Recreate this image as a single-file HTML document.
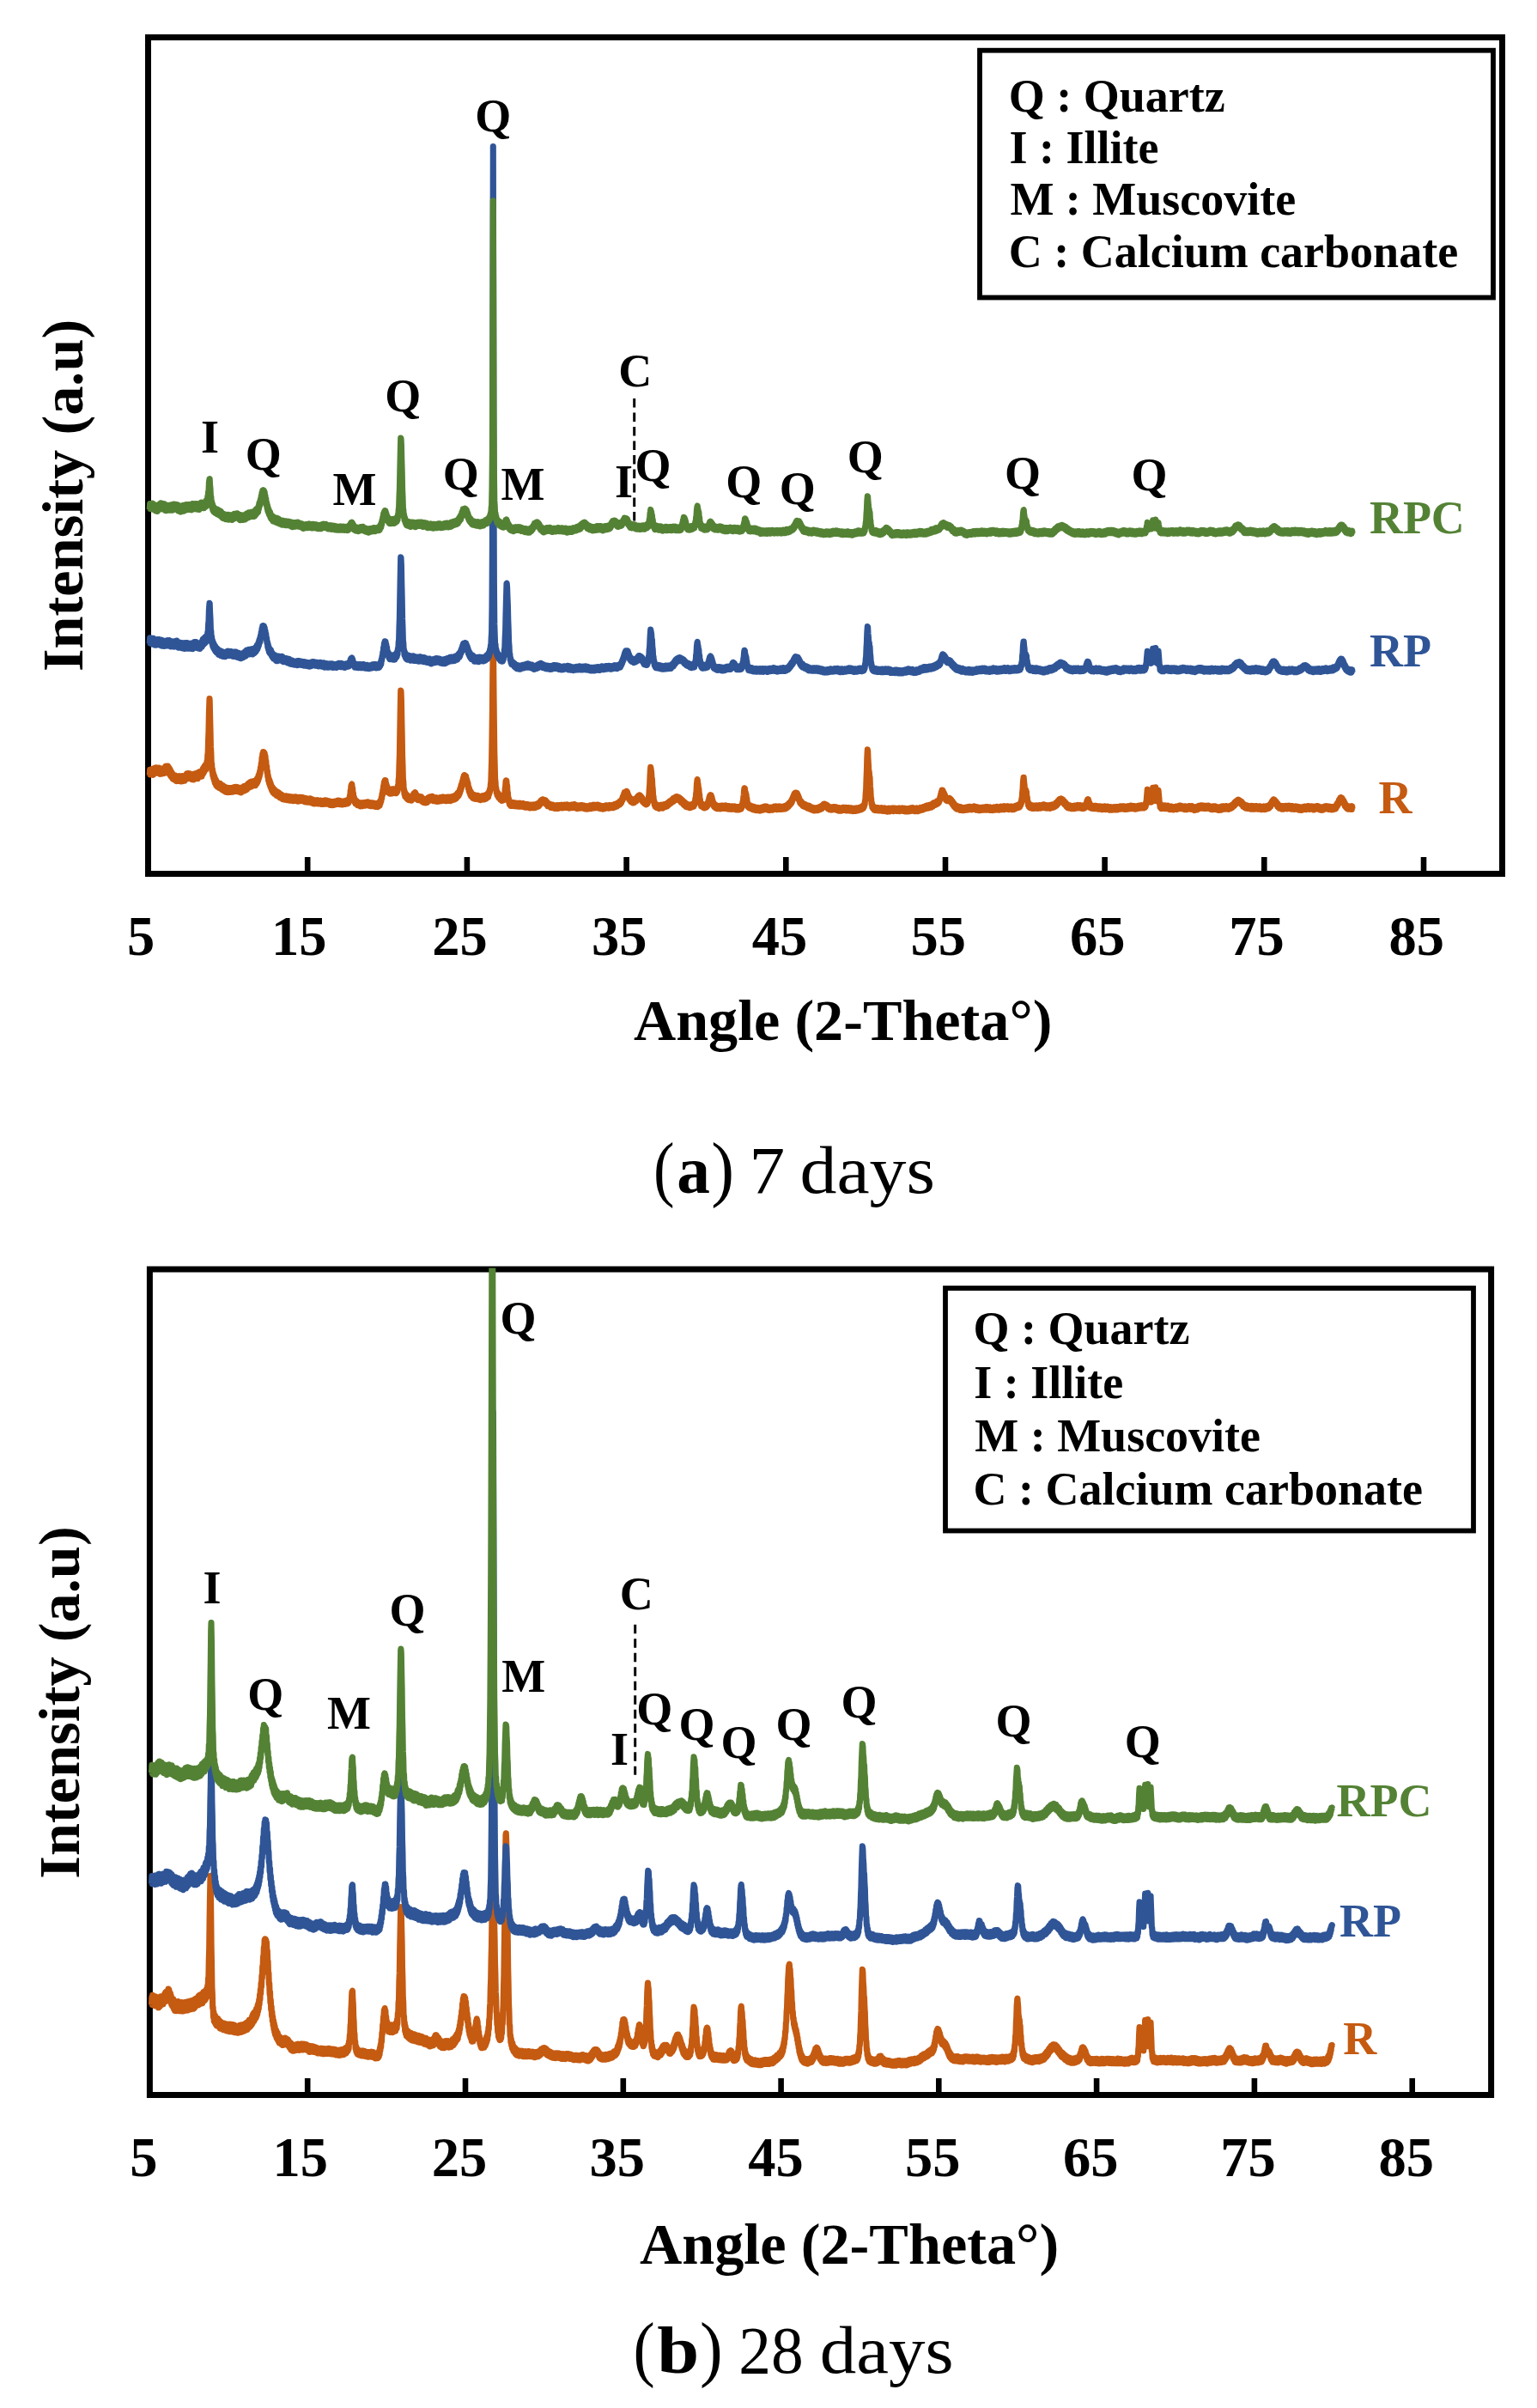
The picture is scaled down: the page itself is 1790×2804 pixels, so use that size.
<!DOCTYPE html>
<html lang="en"><head><meta charset="utf-8"><title>XRD patterns</title>
<style>html,body{margin:0;padding:0;background:#fff}svg{display:block}</style></head>
<body>
<svg width="1790" height="2804" viewBox="0 0 1790 2804" font-family="'Liberation Serif', serif" font-weight="bold">
<defs><clipPath id="ca"><rect x="169" y="41.5" width="1584" height="979"/></clipPath><clipPath id="cb"><rect x="171" y="1476.5" width="1569" height="966"/></clipPath></defs>
<rect width="1790" height="2804" fill="#fff"/>
<rect x="172.5" y="43.5" width="1577.0" height="974.0" fill="none" stroke="#000" stroke-width="7"/>
<path d="M358.2 998.0V1017.5M543.9 998.0V1017.5M729.6 998.0V1017.5M915.3 998.0V1017.5M1101.0 998.0V1017.5M1286.6 998.0V1017.5M1472.3 998.0V1017.5M1658.0 998.0V1017.5" stroke="#000" stroke-width="6.6" fill="none"/>
<g clip-path="url(#ca)" fill="none" stroke-width="7.1" stroke-linejoin="round">
<path stroke="#C55A11" d="M174.2,902.7l.4-6.4.4 5.7.4-5.5.4 4.9.4-5.7.4 5.7.4-5.7.4 6 .4-5.9.4 6.6.4-6.6.4 4.7.4-5.6.4 5.9.4-6.5.4 5.9.4-6.1.4 6.1.4-6.4.4 6.5.4-5.7.4 5.2.4-5.3.4 4.9.4-5.1.4 5.7.4-6 .4 6.6.4-5.6.4 6.4.4-6.6.4 6.3.4-5.2.4 5.4.4-5 .4 4.6.4-5.1.4 4.7.4-5.7.4 5.9.4-5.6.4 5.2.4-5.9.4 5.8.4-6.3.4 4.2.4-5.9.4 5.8.4-5.8.4 5.2.4-5.1.4 5.3.4-5.6.4 6.2.4-5.1.4 5.9.4-4.6.4 6.9.4-5.7.4 6.9.4-5.4.4 6.7.4-5.1.4 6 .4-4.8.4 5.8.4-4.3.4 5.5.4-4.9.4 5.6.4-4.8.4 4.9.4-5 .4 5.5.4-5.1.4 5.7.4-4.8.4 5.6.4-5.4.4 5 .4-5 .4 5.1.4-5.3.4 5.4.4-5.7.4 4.9.4-4.9.4 6.1.4-5.5.4 5.3.4-4.9.4 5.3.4-5.9.4 5.7.4-6.3.4 6.2.4-5.3.4 4.5.4-5.1.4 5.5.4-5.6.4 5.6.4-5.8.4 4.5.4-5 .4 4.1.4-5.4.4 5 .4-5.8.4 5.5.4-5.8.4 6 .4-6 .4 5.4.4-4.9.4 5.4.4-5.6.4 5 .4-4.5.4 5.6.4-5.1.4 5.2.4-5.1.4 5.8.4-5.4.4 5.2.4-5.5.4 5.9.4-5.4.4 4.9.4-6.4.4 5.5.4-5.7.4 5.4.4-5.6.4 4.8.4-5.3.4 5.8.4-5.7.4 6.5.4-5.9.4 4.8.4-6.4.4 4.9.4-5.3.4 5.5.4-5.9.4 5.4.4-5.5.4 4.9.4-4.7.4 5.5.4-6.5.4 4.4.4-6.8.4 5.5.4-6.3.4 5.2.4-6.7.4 5.1.4-6.1.4 4.8.4-6.2.4 5.6.4-6.4.4 4.2.4-7.4.4 2.9.4-10.3.4-2.4.4-15.8.4-9.6.4-21.4.6-16.3.2 1.9.4 18.5.4 15.5.4 19.9.4 6 .4 13 .4.5.4 9.3.4-2.8.4 7.3.4-3.3.4 6.5.4-3.7.4 6.1.4-4 .4 7.1.4-4.5.4 5.8.4-4.7.4 6.6.4-4.8.4 5.5.4-4 .4 5 .4-4.8.4 5 .4-4.4.4 5.2.4-5.1.4 5.6.4-5.6.4 5.2.4-4.3.4 5.5.4-4.7.4 4.7.4-4 .4 5.2.4-5.2.4 5.7.4-4.7.4 4.9.4-4.6.4 5.4.4-4.9.4 5.2.4-4.6.4 5.1.4-4.4.4 4.7.4-4.7.4 4.3.4-4.6.4 5.2.4-4.5.4 4.3.4-4.8.4 4.8.4-4.9.4 4.8.4-4.8.4 5 .4-5 .4 4.3.4-4.1.4 4.5.4-4.8.4 4.7.4-4.6.4 4.4.4-4.8.4 4.6.4-5.2.4 5 .4-4.1.4 3.6.4-4.8.4 4.7.4-4.4.4 4.7.4-4.7.4 5.1.4-3.9.4 4.2.4-4.1.4 4 .4-4.2.4 4.4.4-4.6.4 4.5.4-4.2.4 5.2.4-5.3.4 4.8.4-5 .4 4 .4-4.3.4 4.1.4-4.8.4 4.3.4-5.1.4 5.4.4-5.2.4 4.5.4-5.1.4 4.7.4-5.2.4 4.9.4-5 .4 4.4.4-5.4.4 4.3.4-5 .4 4.6.4-5.5.4 4.7.4-5.1.4 4.1.4-5 .4 5 .4-4.3.4 4.7.4-6 .4 4.4.4-4.4.4 4.5.4-4.9.4 5.3.4-5.3.4 5.1.4-5 .4 5 .4-4.9.4 4.9.4-5.6.4 4 .4-5.1.4 4.3.4-5.5.4 4.2.4-5.4.4 3.6.4-6 .4 3.5.4-5.5.4 3.1.4-6.4.4 3.1.4-7.4.4 2.7.4-7.3.4 1.5.4-8.2.4 2.3.4-7 .4 2.5.4-4.7.4 1.3.3-1.2.5 2.3.4-.9.4 6 .4-2.5.4 6.7.4-1.6.4 7.6.4-1.6.4 7.6.4-1.8.4 7 .4-1.9.4 6.3.4-2.6.4 5.6.4-3.5.4 5.8.4-3.5.4 5.7.4-3.5.4 5.3.4-2.8.4 4.8.4-3.7.4 5 .4-3.8.4 5.4.4-4.3.4 4.3.4-3.6.4 5 .4-4.4.4 4.7.4-3.9.4 4.7.4-3.7.4 4.7.4-4.8.4 4.3.4-3.6.4 4.8.4-4.4.4 4.3.4-3.9.4 4.8.4-3.3.4 4.1.4-3.9.4 4.3.4-4.1.4 4.4.4-3.9.4 4.3.4-3.7.4 4.5.4-4 .4 4.2.4-4.2.4 4.1.4-3.7.4 3.7.4-3.8.4 4.3.4-4.6.4 4.3.4-3.7.4 4.4.4-3.9.4 4 .4-4.1.4 3.5.4-3.8.4 4 .4-3.7.4 4.6.4-4 .4 3.5.4-3.7.4 3.9.4-4.3.4 4.4.4-4 .4 3.8.4-3.9.4 4.6.4-4.1.4 4 .4-4.1.4 3.8.4-4 .4 4 .4-4.4.4 4.1.4-3.4.4 4 .4-3.6.4 3.7.4-3.8.4 4.4.4-4 .4 3.8.4-4.6.4 4.2.4-3.8.4 4 .4-3.5.4 3.5.4-4.4.4 3.9.4-3.7.4 3.8.4-3.9.4 3.7.4-3.3.4 3.3.4-3.3.4 4.1.4-3.3.4 3.9.4-3.7.4 4 .4-4.4.4 4.5.4-4.1.4 3.8.4-3.7.4 4.1.4-3.9.4 4 .4-3.7.4 3.1.4-3.5.4 4.1.4-4.3.4 4.2.4-4 .4 3.9.4-3.4.4 4.4.4-3.6.4 3.6.4-3.9.4 3.9.4-3.4.4 4.2.4-4 .4 4.1.4-4 .4 3.7.4-3.5.4 3.7.4-3.7.4 3.1.4-3.5.4 3.9.4-3.8.4 4.1.4-3.8.4 3.8.4-3.7.4 3.4.4-2.9.4 3.1.4-3.7.4 4.1.4-4 .4 4.2.4-3.8.4 3.6.4-3.4.4 3.5.4-3.7.4 3.8.4-3.9.4 3.5.4-3.5.4 3.1.4-3.9.4 3.7.4-3.3.4 4.1.4-4.2.4 4.3.4-4.1.4 3.6.4-3.3.4 3.7.4-3.5.4 3.6.4-3.3.4 3.6.4-3.4.4 4.2.4-4 .4 3.7.4-3.3.4 3.6.4-3.4.4 3.7.4-4.1.4 3.6.4-3.7.4 4 .4-4.1.4 3.3.4-3.4.4 3.4.4-3.5.4 3.3.4-3.5.4 3.6.4-3.5.4 3.3.4-4 .4 3.7.4-4.1.4 3.8.4-3.6.4 3.8.4-3.6.4 4.3.4-3.5.4 3.3.4-3.5.4 3.4.4-3.2.4 3.8.4-3.9.4 3.8.4-3.7.4 3.6.4-3.7.4 3.2.4-3 .4 3 .4-3.5.4 3.6.4-4.1.4 3.8.4-3.9.4 3.7.4-3 .4 3 .4-3.3.4 3.1.4-3.7.4 2.7.4-4.6.4 1.9.4-5.3.4.7.4-6.9.4-1 .4-4.7.3-.9.5-.8.4 4.1.4.2.4 6.3.4-.3.4 6.1.4-1.9.4 4.8.4-2.6.4 4.7.4-3.1.4 4.5.4-3.6.4 3.9.4-3.4.4 3.9.4-3 .4 3.9.4-3.3.4 3.4.4-3.4.4 3.3.4-3.1.4 3.5.4-3 .4 3.9.4-3.6.4 3.2.4-3.8.4 3.7.4-3.3.4 3.5.4-3.7.4 3.1.4-3.2.4 3.3.4-3.5.4 3.4.4-3.3.4 3.5.4-3.9.4 3.5.4-3.5.4 3.1.4-2.9.4 2.9.4-3.5.4 3.8.4-3.3.4 3.4.4-2.9.4 3.4.4-3.5.4 3.6.4-3.6.4 3.5.4-3.2.4 3.7.4-3.8.4 3.6.4-3.5.4 3.4.4-3.2.4 3.2.4-3.3.4 3.4.4-3.2.4 3.1.4-2.9.4 3.8.4-3.7.4 3.7.4-3.9.4 3.6.4-3.4.4 3.9.4-3.9.4 3.3.4-3.7.4 3.2.4-4.2.4 3.6.4-4.8.4 2.9.4-4.3.4 1.8.4-4.8.4 1.5.4-5.7.4 1.7.4-5.8.4.5.4-6 .4-.1.4-4.1.3-.2.5-1.9.4 2.7.4-2.6.4 5.8.4-2.3.4 5.8.4-2.8.4 5.3.4-3.4.4 5.7.4-4.4.4 4.6.4-3.8.4 4.2.4-4.2.4 4.9.4-4.3.4 4.5.4-4.5.4 4.2.4-4.4.4 4.3.4-5.1.4 4.8.4-4.4.4 4.2.4-4.6.4 4.5.4-4.2.4 4.3.4-4.3.4 4.7.4-4.5.4 4.3.4-5 .4 4.1.4-5.1.4 3.6.4-6.2.4 2.1.4-9.4.4-3 .4-15.2.4-11.2.4-25 .4-23.9.5-25.3.3.6.4 10.6.4 22.1.4 18.6.4 24.5.4 11.4.4 15.3.4 2.8.4 9.5.4-.6.4 5.8.4-2.6.4 5.3.4-3.5.4 4.3.4-3.5.4 4.3.4-3.2.4 4.3.4-3.8.4 4.5.4-3.3.4 4 .4-3.7.4 3.9.4-3.7.4 3.4.4-3.8.4 4.3.4-4 .4 4.2.4-4.5.4 3.8.4-4.6.4 3.7.4-4.5.4 2.8.4-4.6.4 1.2.5-2.1.3.7.4-1.3.4 3.6.4-2.5.4 4.9.4-3 .4 4.4.4-3.7.4 4.7.4-3.8.4 4.5.4-4.1.4 4.1.4-4 .4 3.4.4-3.7.4 4.5.4-3.5.4 3.7.4-4.3.4 4.8.4-3.7.4 4.4.4-3.9.4 4 .4-3.2.4 4.1.4-3.7.4 3.4.4-3.2.4 3.9.4-3.5.4 3.6.4-4.1.4 3.6.4-3.5.4 3.5.4-4.7.4 3 .4-3.6.4 3.5.4-3.9.4 3.7.4-4.3.4 3.8.4-3.9.4 3.6.4-3.5.4 3.9.4-3.9.4 3.5.4-4.3.4 4.4.4-3.3.4 4.1.4-3.9.4 4.2.4-4.2.4 4.1.4-4 .4 4.3.4-4.1.4 4.3.4-4.5.4 4.4.4-3.6.4 3.9.4-3.9.4 3.4.4-3.7.4 4.1.4-3.9.4 3.4.4-4.1.4 4.1.4-4.2.4 3.9.4-3.3.4 3.4.4-4.4.4 4.3.4-4.2.4 3.8.4-3.9.4 4 .4-3.9.4 3.9.4-3.6.4 3.7.4-3.7.4 4 .4-3.5.4 3.7.4-4.5.4 4.1.4-4 .4 4 .4-3.9.4 3.4.4-3.8.4 4 .4-3.9.4 4.3.4-3.6.4 3.7.4-3.8.4 3.5.4-4.4.4 4 .4-3.8.4 3.5.4-3.9.4 3.4.4-3.4.4 3.6.4-4.5.4 3.6.4-3.8.4 3.9.4-4.3.4 3.6.4-4.3.4 3.5.4-4.5.4 3.7.4-4.6.4 3.6.4-4.3.4 3.6.4-4.5.4 2.7.4-5 .4 3 .4-5.2.4 2.7.4-5.6.4 3.1.4-5.3.4 2.2.4-5 .4 2 .4-5.4.4 1.9.4-4.6.4 2.1.4-3.1.4 1.5.3-.8.5 1.5.4-1.2.4 5.2.4-2 .4 4.8.4-2.2.4 5.5.4-2.6.4 5.8.4-2 .4 5.1.4-2.8.4 4.8.4-2.4.4 4.7.4-3.5.4 5 .4-3.5.4 4.2.4-3.3.4 4.1.4-3.4.4 4.4.4-4.1.4 4.3.4-4 .4 4.5.4-4.2.4 3.9.4-3.4.4 4.1.4-3.8.4 3.7.4-3.7.4 3.7.4-4.1.4 4.4.4-4 .4 4.2.4-3.8.4 4 .4-3.9.4 4 .4-3.5.4 4 .4-3.8.4 3 .4-3.7.4 3.3.4-3.8.4 3.8.4-3.6.4 3.9.4-3.8.4 4 .4-4.5.4 4.2.4-4.6.4 3.6.4-3.8.4 4.1.4-4.6.4 3.8.4-3.9.4 3.1.4-4.3.4 4.1.4-5.2.4 2.8.4-4.6.4 2.2.4-4.9.4 1.9.4-7.6.4-2.2.4-12.5.4-12.2.4-26.7.4-30.3.4-45 .5-33.2.3 13.5.4 43.6.4 36 .4 31.8.4 15.2.4 16.1.4 3.2.4 7.9.4-.7.4 5.8.4-2 .4 4.6.4-3 .4 4.1.4-3.1.4 4.7.4-3.4.4 4.5.4-3.5.4 3.8.4-3.2.4 4.5.4-3.2.4 3.8.4-2.9.4 3.6.4-3.7.4 3.3.4-3.4.4 3.3.4-4.4.4 2.7.4-5.4.4.6.4-7 .4-2 .4-6.3.3-1.3.5.1.4 4.8.4.9.4 7.7.4.5.4 6.8.4-.9.4 5 .4-2.1.4 4.8.4-3.1.4 4.2.4-3 .4 3.8.4-3.4.4 3.6.4-3.6.4 3.4.4-3.8.4 3.2.4-3 .4 3.8.4-3.8.4 3.8.4-3.1.4 3.3.4-3.2.4 3 .4-3.1.4 3.5.4-3.5.4 3.4.4-3.4.4 3.5.4-2.7.4 2.9.4-3.3.4 3.5.4-3.9.4 3.3.4-3.5.4 3.5.4-2.9.4 3 .4-2.9.4 3.2.4-3.1.4 3.1.4-3.5.4 3.6.4-3.2.4 3.7.4-3.6.4 3.2.4-3 .4 3.9.4-3.6.4 3.3.4-2.7.4 3 .4-3.6.4 3.2.4-3.2.4 3.3.4-3.1.4 3.4.4-3 .4 3.4.4-2.9.4 3.3.4-3.8.4 3.1.4-3.3.4 3.6.4-3.4.4 3.6.4-3.2.4 2.9.4-3.5.4 3.6.4-3.5.4 3.6.4-3.2.4 3.2.4-3.8.4 3.5.4-3.2.4 2.7.4-3.6.4 3.3.4-3.5.4 3.3.4-3.9.4 3.5.4-3.7.4 3 .4-3.8.4 2.9.4-3.7.4 2.9.4-4 .4 2.7.4-3.6.4 3.2.4-3.7.4 2.6.4-3 .4 3.3.4-3 .4 3.6.4-3.2.4 3 .4-2.9.4 3.7.4-3.4.4 3.5.4-2.3.4 3.7.4-3 .4 3.8.4-2.9.4 4.1.4-3.3.4 3.3.4-3 .4 3.4.4-3.2.4 3.2.4-2.3.4 3.5.4-3 .4 2.9.4-2.9.4 3.2.4-3.6.4 3.6.4-3 .4 3.1.4-2.7.4 3 .4-3.1.4 3.3.4-3.1.4 3.4.4-3.5.4 3.4.4-3.5.4 2.9.4-3.2.4 3.2.4-2.9.4 3.5.4-3.5.4 3.3.4-3.7.4 3.1.4-3 .4 2.9.4-2.9.4 3.2.4-3.4.4 3.4.4-3.4.4 3.5.4-3.4.4 3.1.4-3 .4 3.1.4-3.4.4 3.2.4-3.4.4 3.1.4-3 .4 3.2.4-3.2.4 2.8.4-3 .4 3 .4-3.1.4 3.8.4-3 .4 3.1.4-3.2.4 3.5.4-3.5.4 3.1.4-2.8.4 2.9.4-3.4.4 3.2.4-3.6.4 3.6.4-3.3.4 3.4.4-3.2.4 2.9.4-3.7.4 3.6.4-3.6.4 3.3.4-3.2.4 3.7.4-3.2.4 3.7.4-3.1.4 3.3.4-3.2.4 3.7.4-3.2.4 2.7.4-3.3.4 3.1.4-3 .4 3.1.4-3.4.4 3.6.4-3.3.4 2.8.4-3.2.4 3.3.4-3.2.4 2.9.4-2.9.4 3.1.4-2.9.4 2.7.4-2.5.4 3.5.4-3.1.4 3.4.4-3.3.4 2.9.4-2.8.4 2.7.4-2.7.4 3.5.4-3.3.4 3.2.4-3 .4 2.7.4-2.9.4 2.9.4-3.4.4 2.7.4-3.3.4 3.5.4-3.1.4 3.4.4-3.5.4 3.3.4-3.6.4 3.1.4-3.5.4 3.2.4-3.3.4 3.6.4-2.9.4 3 .4-3.6.4 3.4.4-3 .4 2.6.4-3.1.4 3.3.4-3.4.4 2.6.4-2.7.4 3.5.4-3 .4 3.5.4-3.3.4 3.3.4-3.3.4 3.5.4-2.9.4 3.4.4-3 .4 2.7.4-2.8.4 2.8.4-2.8.4 3.5.4-3.3.4 2.8.4-3.1.4 3 .4-3.4.4 3.5.4-3.4.4 2.9.4-3.3.4 3.2.4-3.1.4 3 .4-2.9.4 2.9.4-3 .4 3.1.4-3.1.4 3.2.4-3.6.4 3.1.4-3 .4 3 .4-2.9.4 3 .4-2.8.4 2.6.4-3.1.4 3.2.4-3.3.4 3.2.4-2.9.4 2.9.4-3 .4 2.5.4-3.7.4 3.1.4-3 .4 2.9.4-3.4.4 3.3.4-3.1.4 2.4.4-3.5.4 2.8.4-3.2.4 3 .4-3.5.4 3.1.4-3.9.4 3.2.4-3.4.4 2.8.4-3.9.4 2.5.4-3.7.4 1.7.4-4 .4 2.5.4-4.2.4 2.5.4-4.8.4 2 .4-4 .4 2.2.4-2.1.5.9.3-.9.4.9.4-2.3.4 3.2.4-2.2.4 4.2.4-2 .4 4.2.4-2.2.4 4 .4-2.6.4 3.6.4-2.6.4 3.3.4-2.4.4 3.8.4-3 .4 3.3.4-2.4.4 3 .4-3 .4 3.5.4-3.6.4 3.4.4-4 .4 3.4.4-3.5.4 2.8.4-3.4.4 3.2.4-3.7.4 2.9.4-3.7.4 2.6.4-3.6.4 2.2.4-3.3.4 2.6.4-3.1.4 2.5.4-2.9.4 3.8.4-3.1.4 3.9.4-3 .4 3.6.4-2.8.4 4 .4-2.5.4 4 .4-2.7.4 3.3.4-2.7.4 3.4.4-2.7.4 3.6.4-3 .4 3.4.4-3.1.4 3.7.4-3.1.4 2.9.4-3.9.4 2.8.4-4 .4 1.5.4-5.7.4-.3.4-8.1.4-4.1.4-10.5.4-7.1.3-3.9.5 3.2.4 2.8.4 6.7.4.9.4 8.5.4 2.9.4 8.1.4.7.4 6.2.4-1.1.4 4.6.4-2.1.4 4.1.4-2.9.4 3.7.4-2.4.4 3.1.4-2.7.4 2.9.4-3.3.4 3.6.4-3.2.4 3.3.4-3 .4 3.6.4-3.1.4 2.8.4-3.8.4 3.3.4-3.4.4 3.2.4-3.4.4 3.3.4-2.8.4 3.4.4-3.5.4 2.9.4-3.1.4 2.6.4-3.5.4 3.1.4-3.1.4 3 .4-3.3.4 3.3.4-3.4.4 3 .4-3.1.4 2.6.4-3.8.4 2.8.4-3.2.4 2.6.4-3.3.4 2.5.4-3.4.4 3.1.4-3.4.4 2.9.4-3.2.4 2.3.4-3.3.4 2.9.4-3.4.4 2.6.4-3.7.4 3.4.4-3.6.4 2.7.4-3.4.4 3.2.4-3.4.4 3 .4-3.8.4 3.3.4-3.2.4 3.4.4-3.4.4 3.2.4-3 .4 3.6.4-3.4.4 3.7.4-2.8.4 3.4.4-2.9.4 3.1.4-2.5.4 4.2.4-3.3.4 3.5.4-3.1.4 4 .4-3 .4 3.8.4-3 .4 3.9.4-2.9.4 3.5.4-3.4.4 3.6.4-2.5.4 3.8.4-3 .4 2.9.4-3 .4 3.7.4-3.4.4 3.4.4-3.1.4 3.4.4-3.1.4 3.4.4-3 .4 3.2.4-3.6.4 3.3.4-3.2.4 2.8.4-3.1.4 2.7.4-3.3.4 2.8.4-2.9.4 3.1.4-3.6.4 2.3.4-4.2.4 1.7.4-5.5.4.8.4-6.7.4-2.1.4-8.5.6-5.4.2-.5.4 4 .4 1.5.4 5.7.4-.9.4 5.9.4 1 .4 6.4.4-.6.4 5.6.4-1.9.4 4.3.4-3.2.4 3.7.4-3 .4 3.4.4-2.9.4 3.2.4-2.9.4 3.6.4-3.1.4 3.5.4-3.8.4 3.7.4-3.2.4 2.7.4-3.8.4 3.4.4-3.7.4 2.7.4-4 .4 2.3.4-4.6.4 1.5.4-4.8.4.6.4-3.3.4-.3.4-.7.4 2.1.4-1.7.4 4 .4-2 .4 5 .4-1.8.4 4.7.4-2.1.4 4.4.4-2.6.4 3.7.4-2.7.4 3.4.4-3.2.4 3.9.4-3.2.4 3.5.4-2.9.4 3.6.4-3.2.4 2.8.4-2.7.4 3.2.4-3 .4 2.8.4-3 .4 3.1.4-3.4.4 3.6.4-3.3.4 3.2.4-3.4.4 3 .4-3.2.4 3.2.4-3 .4 3 .4-3.2.4 2.8.4-2.8.4 3.2.4-3.2.4 3.2.4-3.4.4 3 .4-3.1.4 3.2.4-2.7.4 3.5.4-3.3.4 3.3.4-3.3.4 3.2.4-3 .4 3.5.4-3.5.4 3.4.4-3 .4 3 .4-3.1.4 3.3.4-3 .4 2.6.4-3.2.4 3.5.4-3.2.4 3.1.4-2.8.4 2.7.4-3.1.4 3.1.4-3.1.4 3.6.4-2.9.4 3.2.4-3.4.4 2.9.4-2.9.4 3.4.4-2.6.4 2.5.4-3.2.4 3.3.4-3.1.4 2.9.4-3.2.4 3 .4-2.9.4 2.4.4-3.7.4 2.5.4-4.1.4 1.9.4-5 .4.5.4-6.1.4-2.2.4-6 .4-2 .4.3.4 4.5.4-.3.4 4.4.4-1.9.4 5.5.4-.5.4 5.6.4-1.2.4 4.9.4-2.3.4 3.3.4-2.2.4 2.8.4-2.9.4 3.3.4-3 .4 3.2.4-3 .4 3.2.4-3.1.4 3.7.4-3 .4 3.4.4-3.4.4 3.6.4-3.4.4 3.7.4-2.9.4 2.7.4-2.6.4 3 .4-3.1.4 3.6.4-3.1.4 3 .4-2.9.4 2.8.4-2.7.4 2.7.4-3.1.4 3.5.4-3.2.4 3.2.4-2.9.4 3.1.4-3.4.4 3.1.4-3.1.4 2.3.4-3 .4 2.9.4-3 .4 3.3.4-3.5.4 3.3.4-3.2.4 2.8.4-3.5.4 3.1.4-3.1.4 3.2.4-3 .4 2.7.4-2.9.4 3.4.4-3 .4 3.5.4-3 .4 3.4.4-3.1.4 3.1.4-2.9.4 3.1.4-3.4.4 3.1.4-2.9.4 2.9.4-2.8.4 2.5.4-2.8.4 3.1.4-3.6.4 3 .4-3.1.4 2.6.4-3.1.4 3.4.4-3.3.4 2.8.4-3 .4 3 .4-3.1.4 3 .4-2.3.4 3.1.4-3.5.4 2.9.4-3 .4 3 .4-3 .4 3.4.4-3.2.4 3.1.4-3.1.4 2.9.4-2.8.4 3.1.4-3 .4 2.6.4-2.7.4 2.9.4-3.2.4 3.1.4-3.2.4 2.9.4-3.1.4 3.2.4-3.6.4 3.1.4-3.1.4 2.8.4-3.1.4 2.8.4-3.8.4 2.8.4-3 .4 2.5.4-3.6.4 2.5.4-3.4.4 2.6.4-3.3.4 2.6.4-3.5.4 2.3.4-3.7.4 2.6.4-4.3.4 2.1.4-3.9.4 2.2.4-4.1.4 2 .4-4 .4 2.4.4-3.3.4 1.6.4-2 .4.6.4-.7.4 2.1.4-1.7.4 3.4.4-2 .4 3.8.4-1.9.4 4 .4-2.1.4 4.1.4-1.9.4 3.9.4-2.4.4 3.4.4-2.7.4 3.5.4-2.7.4 3.4.4-2.3.4 3.3.4-2.8.4 3.2.4-3 .4 3.5.4-2.7.4 2.9.4-3 .4 3.1.4-2.5.4 2.9.4-2.4.4 2.9.4-2.3.4 2.9.4-2.9.4 3.3.4-3.2.4 3.1.4-3 .4 3.5.4-2.6.4 3 .4-2.7.4 3.1.4-2.8.4 2.8.4-2.5.4 3.2.4-3.1.4 2.8.4-2.4.4 3.2.4-2.9.4 3.1.4-3 .4 2.7.4-3 .4 3 .4-2.8.4 2.8.4-3.1.4 3.2.4-3.2.4 3.2.4-3.4.4 2.9.4-3.3.4 3.1.4-3.5.4 2.9.4-3.2.4 2.9.4-3 .4 2.9.4-3.8.4 2.8.4-3.2.4 2.4.4-3.2.4 2.5.4-3.2.4 2.8.4-3.1.4 3.3.4-3.1.4 3.2.4-2.6.4 3 .4-2.8.4 3.5.4-2.9.4 3.2.4-2.6.4 3.5.4-3 .4 3.3.4-2.4.4 3.1.4-3.3.4 3.3.4-2.7.4 2.8.4-2.7.4 2.9.4-3.3.4 3.2.4-3.3.4 3 .4-3.2.4 3.2.4-3.1.4 3 .4-2.8.4 3 .4-3 .4 3 .4-3 .4 3.4.4-2.8.4 3.1.4-3.3.4 3.4.4-3.1.4 3.3.4-3 .4 3.5.4-3.5.4 3.3.4-2.9.4 3 .4-3.2.4 3.3.4-3.3.4 2.9.4-3.3.4 3.2.4-3.4.4 3 .4-3.1.4 3.1.4-2.7.4 2.6.4-2.6.4 2.8.4-3.3.4 3.7.4-3.1.4 3.2.4-3.5.4 3.4.4-3.3.4 3.4.4-3.3.4 3.3.4-3.1.4 2.9.4-2.9.4 3 .4-3.1.4 3.5.4-3 .4 2.6.4-3 .4 3.2.4-2.7.4 3.2.4-3.1.4 2.9.4-3.1.4 3 .4-3 .4 3.1.4-2.8.4 2.8.4-3.4.4 3.1.4-3.2.4 3.1.4-3 .4 2.9.4-3.1.4 2.6.4-2.7.4 2.9.4-3.3.4 2.7.4-2.7.4 2.7.4-3.2.4 2.7.4-3.2.4 3.1.4-3.7.4 2.9.4-3.3.4 3 .4-3.3.4 2 .4-3.8.4 1.3.4-5.2.4-.5.4-8.5.4-3.8.4-12.4.4-9.7.4-15.2.5-9.4.3 1.3.4 9.9.4 6.7.4 8.1.4-.3.4 5.2.4 1.4.4 10.4.4 4 .4 8.9.4 1.4.4 6.2.4-1.1.4 5 .4-2.5.4 3.8.4-2.4.4 3.3.4-2.5.4 3.6.4-3.3.4 3.2.4-3.2.4 3.7.4-3.1.4 2.9.4-2.9.4 2.9.4-2.9.4 3.2.4-3 .4 3.1.4-2.9.4 3.1.4-3.1.4 3 .4-2.8.4 2.8.4-3 .4 3.1.4-3.3.4 3.4.4-3.3.4 3.3.4-2.9.4 3.2.4-3 .4 2.8.4-3 .4 2.9.4-3.2.4 3.6.4-2.8.4 2.9.4-2.7.4 2.5.4-2.7.4 3.5.4-3.4.4 2.8.4-3.2.4 3.3.4-3.4.4 3.1.4-3 .4 3.5.4-3.4.4 3.1.4-3.1.4 2.6.4-3 .4 2.9.4-2.8.4 2.9.4-3.1.4 3.7.4-3.3.4 2.7.4-3.1.4 3.3.4-2.9.4 2.8.4-2.8.4 3 .4-2.8.4 2.9.4-3.2.4 3.1.4-2.9.4 3 .4-3.1.4 2.7.4-2.9.4 3.4.4-3.2.4 2.8.4-2.9.4 3 .4-3.1.4 3 .4-3.2.4 2.8.4-2.6.4 2.7.4-2.3.4 2.9.4-3.2.4 3.2.4-3.1.4 3.3.4-3.1.4 3.4.4-3 .4 2.8.4-3.1.4 3.3.4-3.2.4 3.2.4-3.5.4 3.3.4-3.2.4 2.9.4-3.3.4 3.4.4-3.5.4 3.4.4-3.6.4 3 .4-2.8.4 2.9.4-3.5.4 3.6.4-3.1.4 3 .4-3 .4 3 .4-2.7.4 3.2.4-3.2.4 3.5.4-3.4.4 2.8.4-2.7.4 2.6.4-3.2.4 3.3.4-2.8.4 3.4.4-3.2.4 2.6.4-2.6.4 2.5.4-3.1.4 2.5.4-3.1.4 3.2.4-3.1.4 2.6.4-2.8.4 2.9.4-3 .4 2.6.4-3.2.4 3 .4-3.4.4 3 .4-3 .4 2.7.4-3.2.4 2.7.4-3 .4 3 .4-3.3.4 3.2.4-3.5.4 3 .4-2.7.4 3 .4-3.5.4 2.5.4-2.7.4 2.9.4-3.3.4 3.3.4-3.1.4 3 .4-3.6.4 3.1.4-3.2.4 2.7.4-3.7.4 2.8.4-3.4.4 2.9.4-3 .4 2.9.4-3.3.4 3.1.4-3.3.4 2.5.4-3 .4 2.5.4-3.3.4 3.3.4-3.4.4 2.7.4-3.4.4 2.9.4-3.9.4 1.8.4-4 .4 1.6.4-4.7.4.7.4-4.4.4-.2.4-1.8.4.8.4-.6.4 3.5.4-2 .4 4 .4-2.5.4 3.8.4-2.2.4 3.9.4-1.5.4 3.8.4-2.4.4 3.4.4-2.8.4 3.3.4-3 .4 3 .4-3.2.4 2.9.4-2.7.4 3.3.4-3.5.4 3.4.4-2.9.4 3.4.4-2.6.4 3.6.4-2.6.4 3.5.4-2.5.4 4 .4-2.9.4 3.8.4-2.3.4 3.5.4-2.8.4 3.7.4-2.5.4 3.4.4-3.1.4 3.8.4-2.8.4 3.3.4-3.2.4 3.7.4-3.3.4 3.3.4-3 .4 3.1.4-3.1.4 3.2.4-2.9.4 3.8.4-3.5.4 3.1.4-3.2.4 3.6.4-3 .4 3.2.4-3.2.4 2.8.4-2.6.4 3.1.4-2.8.4 2.7.4-3.1.4 3 .4-3 .4 2.7.4-3.1.4 3 .4-3.1.4 3.2.4-3.4.4 3 .4-3.3.4 3.5.4-3.2.4 2.8.4-3.2.4 3.4.4-3.4.4 2.9.4-2.6.4 2.8.4-2.6.4 3 .4-3 .4 2.7.4-2.8.4 2.6.4-2.9.4 2.7.4-3.4.4 3.2.4-2.5.4 3 .4-2.9.4 3.2.4-3.1.4 3.6.4-3.4.4 3.4.4-3 .4 3 .4-3.2.4 3.4.4-2.8.4 3.1.4-3.1.4 3.1.4-3 .4 2.7.4-3.1.4 3 .4-3.2.4 3 .4-2.7.4 2.7.4-3.1.4 3.1.4-3 .4 2.7.4-2.6.4 2.8.4-3.3.4 3.1.4-3.4.4 3.5.4-2.9.4 3.1.4-3.6.4 2.9.4-2.8.4 3 .4-2.7.4 2.9.4-2.5.4 2.9.4-3.5.4 3.2.4-2.8.4 3.2.4-2.9.4 2.9.4-2.9.4 2.8.4-2.8.4 3.1.4-3.2.4 2.8.4-3.3.4 3.3.4-3.1.4 3.2.4-3.5.4 3.3.4-3.4.4 3 .4-3.4.4 3.3.4-2.7.4 3.1.4-3 .4 3.1.4-3.1.4 3.2.4-3.1.4 2.6.4-3.4.4 3 .4-3.2.4 3.4.4-3.1.4 2.9.4-2.9.4 3.4.4-3.8.4 3 .4-3.2.4 3.5.4-3.4.4 3.7.4-2.9.4 2.6.4-2.8.4 2.7.4-2.8.4 2.6.4-3.1.4 3.1.4-3.1.4 3 .4-2.9.4 3.6.4-3.1.4 2.7.4-3 .4 2.8.4-3 .4 3 .4-2.7.4 2.9.4-3.1.4 3.7.4-3.4.4 3.2.4-3.1.4 3.1.4-3.5.4 3.3.4-3.5.4 2.7.4-3.1.4 2.8.4-3.2.4 3.2.4-3.2.4 2.8.4-3.4.4 2.8.4-2.9.4 3 .4-3.6.4 3.4.4-3.6.4 2.8.4-3.3.4 1.9.4-4.1.4 1.8.4-5.6.4 0 .4-7.6.4-3 .4-8.7.6-5.4.2 0 .4 5.3.4 3 .4 6.2.4-.4.4 3.6.4-3.6.4 3.3.4-1.1.4 6.7.4-.2.4 5.4.4-.9.4 4.7.4-2.4.4 4.2.4-3.3.4 3.9.4-2.7.4 3.5.4-3.3.4 3.6.4-2.7.4 2.9.4-3.4.4 3.5.4-3.3.4 3.6.4-3.1.4 3.1.4-3.4.4 3.3.4-3.2.4 3 .4-3.2.4 3.2.4-3.2.4 3 .4-3.3.4 3.4.4-2.9.4 3.3.4-3.3.4 3 .4-3.4.4 3.2.4-3.1.4 2.9.4-2.9.4 3.3.4-3.3.4 2.9.4-3.2.4 3 .4-2.9.4 3.1.4-3.3.4 3.1.4-3.7.4 3.6.4-3.4.4 3.2.4-2.8.4 3.3.4-3.2.4 3.4.4-2.9.4 2.9.4-3.2.4 3.5.4-3.1.4 2.6.4-3 .4 3 .4-2.6.4 2.5.4-3.2.4 3.9.4-3 .4 2.7.4-3.3.4 2.8.4-3.5.4 3.1.4-3.3.4 2.9.4-2.7.4 3.1.4-3.4.4 2.9.4-3 .4 2.8.4-3 .4 2.3.4-4.1.4 3.5.4-3.6.4 2.7.4-3.6.4 2.6.4-3.7.4 2.8.4-3.6.4 3 .4-3.9.4 2.7.4-3.2.4 3.1.4-3.3.4 2.9.4-3.2.4 3.5.4-2.8.4 3.1.4-2.6.4 3.5.4-2.3.4 3.4.4-3 .4 3.9.4-2.5.4 3.2.4-2.9.4 3.6.4-2.4.4 3.9.4-2.6.4 3.2.4-2.5.4 3.2.4-3.2.4 3.3.4-3.1.4 3.3.4-3.3.4 3.1.4-2.8.4 3.2.4-2.5.4 2.8.4-2.8.4 2.8.4-3 .4 3.1.4-3 .4 2.9.4-3.3.4 3 .4-3.2.4 3.6.4-3 .4 2.6.4-3.3.4 3.2.4-3 .4 2.8.4-3.2.4 2.7.4-3.1.4 3.4.4-2.9.4 3 .4-2.7.4 2.8.4-3.4.4 3.3.4-2.9.4 3 .4-2.6.4 2.9.4-3.2.4 3.3.4-2.9.4 2.7.4-2.9.4 3.3.4-3.7.4 3 .4-3.1.4 3.1.4-3.8.4 2.6.4-4.1.4 1.6.4-4.4.4 1.9.4-3.7.4 2.5.4-2.8.4 4.3.4-1.7.4 3.8.4-1.7.4 4.1.4-2.3.4 3.7.4-2.9.4 3 .4-2.8.4 3.2.4-3.3.4 2.8.4-2.4.4 3.1.4-3 .4 2.9.4-2.8.4 2.9.4-3.2.4 3.4.4-3.5.4 3.4.4-3 .4 3.1.4-3.1.4 3.2.4-3.1.4 3.4.4-3.2.4 3.1.4-3 .4 2.9.4-3.2.4 3.4.4-2.8.4 2.9.4-3 .4 3.4.4-3.6.4 3.4.4-2.9.4 3 .4-3.3.4 3.1.4-3.3.4 2.8.4-3.1.4 3.4.4-3 .4 3.5.4-3.4.4 2.9.4-2.9.4 2.8.4-2.9.4 3.2.4-3.2.4 3.4.4-3.1.4 2.9.4-2.7.4 3.6.4-3.6.4 3.1.4-3 .4 3.2.4-3 .4 3.2.4-3.2.4 3 .4-2.9.4 2.8.4-3.2.4 3.2.4-3.1.4 3.2.4-3.2.4 2.4.4-2.7.4 3.3.4-2.9.4 3 .4-3.3.4 3.4.4-3.3.4 3.1.4-3.2.4 2.8.4-3.2.4 3 .4-3.2.4 3.1.4-3.3.4 3.4.4-2.7.4 2.3.4-2.8.4 2.7.4-2.8.4 3.1.4-3.3.4 3.5.4-3.1.4 3 .4-3.1.4 3.5.4-2.8.4 2.8.4-3.3.4 3.3.4-3.5.4 3.2.4-3.4.4 3.4.4-3.2.4 2.8.4-3 .4 3.2.4-3.5.4 3 .4-3.3.4 3.3.4-3.5.4 3.5.4-3.1.4 3.2.4-3.2.4 3.4.4-2.9.4 2.8.4-3.1.4 3 .4-3 .4 3.2.4-2.9.4 3.3.4-2.7.4 2.5.4-3.2.4 2.9.4-2.7.4 2.8.4-2.9.4 2.6.4-3.3.4 3.1.4-3.2.4 3.2.4-3.1.4 3 .4-3 .4 2.8.4-3.1.4 2.7.4-2.9.4 3.2.4-3 .4 3 .4-3.1.4 3 .4-2.7.4 2.8.4-3.6.4 3.1.4-3.8.4 2.5.4-4.8.4.9.4-6.5.4-4.7.4-4.6.4 4.3.4 4.2.4 6 .4-1.2.4 1.4.4-5.7.4-3.6.4-4.2.4 4.2.4 3.6.4 5.7.4-2 .4.7.4-6.5.4-4.2.4-4.7.4 4.5.4 4.5.4 6.3.4-1.8.4 1.4.4-6.4.4-4.5.4-4.7.4 4.7.4 4.9.4 6.1.4-1.2.4 1.8.4-5.2.4-3.6.4-4 .4 4.4.4 4.2.4 6.2.4 0 .4 4.7.4-2.4.4 3.3.4-2.7.4 3.7.4-3.2.4 2.9.4-2.7.4 2.9.4-3.3.4 3.2.4-3.6.4 3 .4-2.8.4 3.2.4-3.1.4 3 .4-2.9.4 3.6.4-3.3.4 3 .4-2.8.4 2.9.4-3.6.4 3.3.4-2.6.4 2.9.4-2.6.4 3.5.4-3.3.4 3.4.4-3.4.4 3.1.4-3.3.4 3.1.4-2.9.4 3.1.4-2.8.4 3.4.4-3 .4 3 .4-3 .4 2.7.4-3.1.4 2.9.4-3 .4 3 .4-3.4.4 3.1.4-2.8.4 3.3.4-3.6.4 2.8.4-3 .4 2.6.4-2.9.4 2.8.4-3.2.4 3.6.4-2.9.4 2.7.4-3.1.4 3.2.4-3.2.4 3.1.4-2.8.4 3.1.4-2.9.4 3.1.4-2.7.4 3 .4-3 .4 3.3.4-3.7.4 3.5.4-2.7.4 3.1.4-3 .4 2.9.4-3.2.4 3.1.4-3.5.4 2.5.4-2.8.4 2.8.4-3.1.4 2.9.4-2.7.4 3.5.4-2.9.4 3.1.4-3.4.4 2.6.4-3.1.4 3.3.4-2.6.4 3 .4-2.4.4 3.1.4-2.6.4 3.3.4-3.1.4 2.9.4-3.1.4 2.5.4-3.2.4 3.1.4-3.3.4 3.4.4-2.8.4 2.8.4-3.7.4 2.7.4-3.5.4 3.4.4-3.4.4 3.2.4-3.2.4 2.6.4-3.1.4 3.3.4-2.8.4 3 .4-2.8.4 2.7.4-3.3.4 3.5.4-3.1.4 3.1.4-2.7.4 2.4.4-2.8.4 3 .4-2.7.4 3 .4-3.3.4 2.9.4-2.5.4 2.3.4-2.7.4 2.8.4-3 .4 3.4.4-2.8.4 2.9.4-2.8.4 2.9.4-2.8.4 3.3.4-2.8.4 3.2.4-3.3.4 3 .4-3.3.4 3.6.4-3.7.4 3.6.4-3.3.4 3 .4-3.1.4 2.7.4-3 .4 3.6.4-2.9.4 3.1.4-2.9.4 3.1.4-3 .4 3.3.4-2.9.4 3 .4-2.7.4 3 .4-3.6.4 3.4.4-3.1.4 3.1.4-3.1.4 3.1.4-3.6.4 2.5.4-3.3.4 3.5.4-3.1.4 2.6.4-3 .4 3.2.4-3.2.4 3 .4-2.8.4 3.1.4-3.2.4 2.8.4-3.2.4 3 .4-2.6.4 2.7.4-2.6.4 3.2.4-3.3.4 3.4.4-3.5.4 2.9.4-2.7.4 2.6.4-3 .4 2.9.4-3.6.4 2.9.4-3.4.4 3.2.4-3.7.4 2.8.4-3.1.4 2.2.4-3.2.4 2.9.4-4 .4 2.5.4-3.1.4 2.8.4-3.7.4 2.5.4-3.1.4 2.3.4-2.8.4 2.8.4-3.6.4 3.4.4-3.3.4 3.4.4-2.9.4 3.4.4-2.7.4 2.9.4-2.5.4 3.1.4-2.7.4 3.7.4-2.8.4 3.5.4-2.1.4 3.6.4-2.8.4 3.1.4-2.5.4 2.8.4-2.8.4 3.6.4-3.2.4 3.6.4-2.9.4 3.1.4-3.1.4 3.3.4-3.3.4 3.4.4-3.1.4 2.8.4-2.7.4 3.1.4-2.7.4 3 .4-3.2.4 3.4.4-3.5.4 3.1.4-3.3.4 3.2.4-3 .4 3.5.4-3.3.4 3.3.4-3.4.4 3.1.4-2.7.4 3.2.4-3.4.4 3.1.4-3.5.4 3.1.4-3.1.4 3.3.4-2.9.4 3.1.4-3 .4 3.3.4-3 .4 2.9.4-3.3.4 3.1.4-3 .4 3.1.4-3 .4 3.4.4-2.9.4 3.2.4-2.9.4 2.7.4-3 .4 2.9.4-2.9.4 2.6.4-3.3.4 3.8.4-3.1.4 2.9.4-3.4.4 3.4.4-3.2.4 2.5.4-3.2.4 3.3.4-3.1.4 2.7.4-3 .4 3 .4-3.3.4 2.8.4-3.8.4 2.8.4-3.8.4 2.8.4-3.4.4 1.6.4-3.4.4 2.9.4-3.8.4 2.3.4-3.6.4 2.8.4-3.5.4 3.2.4-2.8.4 3.2.4-2.3.4 3.1.4-2.2.4 3.4.4-2.4.4 3.4.4-2.2.4 3.9.4-3.1.4 3.8.4-2.7.4 3.4.4-2.8.4 3.5.4-3.2.4 3.3.4-3.2.4 3.5.4-3 .4 3.4.4-3.2.4 3.3.4-3.6.4 3.4.4-3.2.4 3.4.4-3.4.4 2.8.4-3.1.4 3.2.4-3.2.4 3 .4-3.2.4 3.3.4-3 .4 3.3.4-3.4.4 2.8.4-2.9.4 3.2.4-3.4.4 3 .4-2.9.4 3.1.4-2.6.4 3 .4-3 .4 3.4.4-3.5.4 3.6.4-3.6.4 3.2.4-3.1.4 3.3.4-2.7.4 3 .4-3 .4 3.1.4-3.4.4 2.9.4-2.8.4 2.6.4-2.8.4 3 .4-2.6.4 3 .4-3.1.4 2.9.4-2.4.4 3.4.4-3.1.4 2.9.4-3.1.4 3 .4-2.9.4 3 .4-2.5.4 2.9.4-3.5.4 3.4.4-3.5.4 3.1.4-3.4.4 3 .4-3.3.4 2.7.4-2.9.4 3 .4-2.4.4 2.5.4-2.5.4 3.1.4-3.5.4 2.6.4-2.9.4 3.3.4-3.6.4 3.3.4-3.1.4 3 .4-2.7.4 3.4.4-3.4.4 3.1.4-3.5.4 3.2.4-2.8.4 2.7.4-2.7.4 2.8.4-2.8.4 3.6.4-3.3.4 3.6.4-3.6.4 3.1.4-3.2.4 3 .4-3 .4 2.5.4-3 .4 2.9.4-3.1.4 2.8.4-2.4.4 3 .4-3.3.4 3.7.4-3.1.4 2.9.4-2.5.4 3.3.4-3.2.4 3.4.4-3.1.4 3.3.4-3.1.4 2.9.4-3.3.4 3.4.4-3.7.4 3.1.4-2.9.4 2.5.4-3.2.4 3 .4-3.2.4 3.1.4-3.2.4 2.6.4-2.7.4 3.1.4-3.1.4 2.8.4-2.5.4 3 .4-2.8.4 3.3.4-3.4.4 3.4.4-3.3.4 3 .4-2.7.4 3.3.4-3.2.4 3.3.4-3.2.4 3 .4-3.1.4 3.1.4-3 .4 2.9.4-3.5.4 3.2.4-3.3.4 3.1.4-3.5.4 2.6.4-3.2.4 2 .4-3.9.4 2.6.4-3.6.4 2.2.4-3.6.4 2.2.4-4.3.4 2.7.4-3.7.4 2.3.4-3.8.4 2.5.4-3.1.4 2.9.4-2.4.4 3.1.4-2.1.4 3.7.4-2.3.4 3.4.4-2.2.4 3.7.4-2 .4 4 .4-2.6.4 3.7.4-2.5.4 3.4.4-2.4.4 3.4.4-2.9.4 3.5.4-2.6.4 3 .4-3.1.4 2.9.4-3.2.4 3.3.4-3 .4 3.1.4-3 .4 2.5.4-3 .4 3.7.4-3.7.4 3.2"/>
<path stroke="#2F5597" d="M174.2,749.5l.4-6.6.4 6 .4-5.5.4 5.9.4-6.3.4 6.2.4-4.8.4 5.8.4-6.2.4 6.1.4-6.7.4 6.7.4-5.7.4 6.1.4-5.6.4 6.3.4-6.7.4 6 .4-5.6.4 6.2.4-6.1.4 5.7.4-5.7.4 5 .4-5.4.4 5.6.4-5.7.4 5.4.4-5.2.4 5.6.4-4.9.4 6 .4-6.3.4 6.8.4-6.5.4 6.7.4-5.9.4 5.8.4-5.6.4 5.6.4-4.9.4 5.4.4-6.2.4 5.9.4-5.3.4 5.4.4-6 .4 5.5.4-5.6.4 5.4.4-5.7.4 5 .4-5.1.4 6.2.4-5.2.4 4.8.4-6 .4 6.4.4-5.7.4 5.4.4-5.1.4 6.3.4-5.8.4 5.5.4-5.8.4 6 .4-5.5.4 5.3.4-5.4.4 5.9.4-6 .4 5.4.4-5.6.4 6 .4-5.7.4 4.9.4-5.1.4 4.9.4-5.8.4 6 .4-4.9.4 6.2.4-5.7.4 6.4.4-5.8.4 4.5.4-4.7.4 5.8.4-5.1.4 5.5.4-5.3.4 5.4.4-5.8.4 6 .4-4.9.4 5.2.4-5.9.4 5.7.4-6 .4 6 .4-5.3.4 6.1.4-5.4.4 4.5.4-6 .4 5.5.4-5.2.4 4.9.4-5.2.4 5.3.4-5.2.4 6.5.4-5.4.4 5.5.4-5 .4 4.8.4-5.2.4 5.3.4-5.9.4 5.3.4-5.2.4 6.1.4-5.3.4 4.6.4-4.4.4 5.2.4-6.2.4 4.3.4-5.5.4 5.1.4-5.8.4 6.1.4-6 .4 5.9.4-6 .4 6.1.4-5 .4 6 .4-5.1.4 5.2.4-5.9.4 5.8.4-5.3.4 5.8.4-5.7.4 6 .4-5.9.4 5.2.4-6.1.4 5.1.4-5.8.4 5.3.4-6.7.4 5.4.4-7.4.4 5.6.4-6.4.4 6.4.4-6.3.4 5.3.4-6.7.4 6.1.4-7 .4 5.9.4-6.4.4 5.8.4-6.8.4 4.3.4-7.9.4 1 .4-10.7.4-3.4.4-13 .6-8 .2.4.4 10.7.4 6.9.4 13.2.4 1.1.4 9 .4-2.2.4 8 .4-3.9.4 7 .4-4.7.4 6.6.4-4.8.4 5.8.4-4.1.4 5.7.4-4.7.4 5.9.4-4.2.4 5.3.4-4.8.4 5.5.4-4.4.4 5.3.4-4.9.4 5.7.4-4.5.4 5.3.4-4.8.4 4.9.4-5.1.4 5.5.4-4.4.4 5.2.4-5.4.4 4.9.4-4.5.4 4.8.4-4.5.4 5.3.4-5.1.4 5.1.4-4.7.4 4.8.4-4.9.4 5.1.4-5.1.4 4.3.4-4.3.4 4.2.4-4.8.4 4.5.4-5.1.4 4.6.4-4.6.4 4.5.4-4.2.4 4 .4-4 .4 4.7.4-4.5.4 4 .4-4 .4 4.6.4-4.8.4 4.9.4-4.4.4 4.9.4-4 .4 4.4.4-4.3.4 4.1.4-5.2.4 4.6.4-4.5.4 4.4.4-4.5.4 5.1.4-4.2.4 4.9.4-4.7.4 5.2.4-4.7.4 4 .4-4.3.4 5 .4-4.2.4 4.9.4-4.8.4 5.3.4-4.9.4 5.1.4-5.5.4 4.5.4-4.2.4 4.3.4-4.6.4 4.4.4-5.1.4 4.1.4-4.8.4 4.7.4-4.6.4 3.9.4-5.4.4 5.4.4-5.7.4 4.6.4-5.8.4 4.9.4-4.7.4 4.8.4-5.1.4 4.5.4-5 .4 5.5.4-5.2.4 4.7.4-4.9.4 4.9.4-5 .4 4.6.4-5.3.4 4.9.4-4.7.4 6 .4-5.1.4 3.9.4-4.8.4 4.9.4-5 .4 4.3.4-4.8.4 4 .4-5.4.4 4.6.4-5.4.4 3.9.4-5.7.4 4.7.4-5.3.4 3 .4-5.4.4 3.4.4-5.8.4 3.2.4-5.6.4 3.8.4-7 .4 2.8.4-6.8.4 3.2.4-7.4.4 2.4.4-5.4.4 2.3.4-2.9.4 1.2.4-.8.4 3.2.4-1.4.4 6.8.4-3.1.4 6.5.4-2.6.4 6.6.4-2.3.4 6.3.4-2 .4 6.6.4-3.3.4 6 .4-3 .4 5.8.4-4 .4 5.5.4-3.9.4 4.7.4-4.5.4 5.5.4-3.4.4 5.1.4-3.3.4 4.5.4-4 .4 5.1.4-4 .4 4.8.4-4.1.4 4.5.4-4.6.4 5.1.4-3.4.4 4.4.4-3.9.4 4.5.4-4.5.4 4.7.4-5.3.4 4.2.4-4.6.4 4.6.4-4.5.4 4.8.4-4.1.4 3.8.4-3.9.4 4.5.4-4.4.4 3.7.4-4.2.4 4.7.4-4.4.4 5.3.4-4.2.4 4.8.4-4.3.4 4.3.4-4.4.4 4.1.4-3.5.4 4 .4-3.9.4 4.1.4-4.3.4 4.6.4-3.4.4 4 .4-4.2.4 3.7.4-4.1.4 4.5.4-4.3.4 4.9.4-4.1.4 4.8.4-3.9.4 4 .4-4.5.4 4.6.4-4.2.4 4.6.4-3.9.4 4 .4-3.5.4 3.5.4-3.7.4 4.1.4-4 .4 4.1.4-3.8.4 3.5.4-4 .4 3.8.4-4 .4 4.8.4-5 .4 3.8.4-3.8.4 3.7.4-3.7.4 3.7.4-3.4.4 4.2.4-3.5.4 3.7.4-4.2.4 4.4.4-3.6.4 3.6.4-3.5.4 3.5.4-3.8.4 4.3.4-4.2.4 4.3.4-4.2.4 4.3.4-3.8.4 3.7.4-3.8.4 3.6.4-3.5.4 3.8.4-3.6.4 4.1.4-3.7.4 3.5.4-3.7.4 3.9.4-3.8.4 4.2.4-3.9.4 3.5.4-4 .4 4.1.4-4.6.4 3.7.4-4.1.4 3.6.4-3.8.4 4 .4-3.9.4 3.6.4-3.5.4 3.4.4-3.3.4 4.1.4-3.6.4 3.9.4-3.5.4 3.1.4-3.5.4 3.9.4-3 .4 3.2.4-3.4.4 3.8.4-4.2.4 3.7.4-3.4.4 3.6.4-4.4.4 3.6.4-3.3.4 4.1.4-3.5.4 4 .4-3.7.4 3.6.4-3.7.4 3.8.4-4.2.4 4.4.4-3.4.4 4.2.4-3.9.4 3.7.4-3.5.4 3.5.4-4 .4 3.6.4-3.7.4 3.4.4-2.8.4 3.9.4-4 .4 3.7.4-3.8.4 3.3.4-3.6.4 4 .4-3.6.4 3.2.4-3.3.4 3.3.4-3.6.4 4.2.4-3.6.4 4 .4-4.1.4 3.5.4-3.3.4 3.1.4-3.1.4 3.6.4-3.6.4 3.4.4-3.5.4 3.9.4-4.2.4 3.2.4-3.3.4 3.6.4-3.6.4 3.2.4-3.9.4 3.7.4-3.5.4 3.5.4-3 .4 3.5.4-4.2.4 4.1.4-3.5.4 3.4.4-3.7.4 4.1.4-3.7.4 3.6.4-3.2.4 3.6.4-3.6.4 3.9.4-4.2.4 3.8.4-4 .4 3.6.4-3.7.4 3.6.4-3.6.4 3.5.4-3.3.4 3.1.4-3.5.4 3.3.4-4.5.4 2.9.4-3.8.4 2.3.4-4.8.4 1.2.4-2.7.3 0 .5-.7.4 3.2.4-1.6.4 5 .4-2.5.4 4.6.4-2.8.4 4.1.4-3 .4 4.2.4-3.8.4 3.8.4-3.6.4 3.6.4-3.5.4 3.8.4-3.8.4 3.7.4-3.6.4 4 .4-3.7.4 3.5.4-4 .4 3.4.4-3.4.4 3.6.4-3.1.4 3.8.4-3.9.4 3.7.4-3.4.4 3.6.4-4.2.4 3.8.4-3.9.4 3.8.4-3.1.4 3.5.4-3.3.4 3.8.4-3.5.4 3.3.4-3.4.4 3.4.4-3.6.4 4 .4-3.3.4 3.3.4-3.2.4 3.2.4-3.1.4 3.4.4-3.3.4 2.8.4-3.5.4 3.4.4-3.5.4 3.3.4-3.3.4 3.4.4-4.2.4 3.5.4-3.4.4 3.4.4-3.8.4 3.5.4-3.3.4 3.7.4-3.8.4 3.6.4-3.2.4 3.9.4-3.6.4 3.1.4-3.4.4 3.6.4-3.3.4 3.3.4-3.3.4 3.2.4-3.6.4 2.6.4-4.2.4 2.8.4-4.3.4 2.6.4-5.4.4 1.6.4-5.2.4 1.5.4-6.4.4 2 .4-7.5.4.6.4-5.4.6-1.2.2-1.1.4 1.3.4-1.4.4 5.2.4-2 .4 6.6.4-2.8.4 6.7.4-2.6.4 4.8.4-2.5.4 4.6.4-3.7.4 5.5.4-4.1.4 5.1.4-4.8.4 5 .4-4.5.4 4.1.4-4 .4 4.2.4-4.1.4 4 .4-4.8.4 5.5.4-4.4.4 4.4.4-4.8.4 4.6.4-5.5.4 3.9.4-4.9.4 4.2.4-5.1.4 3.8.4-5.4.4 2.7.4-6.5.4 1.8.4-9.2.4-2.7.4-15.6.4-10.6.4-24.3.4-21.7.5-24.1.3.5.4 8.9.4 21.5.4 16.7.4 24 .4 10.3.4 15.4.4 2.5.4 8.6.4-.8.4 6.4.4-3.4.4 5.2.4-3.8.4 5.5.4-3.8.4 4.6.4-4.2.4 5.2.4-4.5.4 4 .4-4.5.4 4.9.4-4.7.4 5.2.4-4.1.4 4.4.4-3.8.4 4.1.4-4.3.4 3.4.4-4.1.4 4 .4-3.7.4 3.6.4-4.3.4 5.4.4-4.2.4 4.6.4-3.7.4 3.7.4-4.9.4 4.3.4-4.2.4 4 .4-3.5.4 4.5.4-4.4.4 4.2.4-4.4.4 4.6.4-4.4.4 4.8.4-4.3.4 4 .4-4.9.4 4.1.4-4.1.4 4.7.4-4.3.4 4.6.4-4.1.4 4.2.4-4.3.4 4 .4-4.1.4 5 .4-4.4.4 4.3.4-4.7.4 4.6.4-3.8.4 3.9.4-3.7.4 4.5.4-3.9.4 4.1.4-4.4.4 4.2.4-3.9.4 4.3.4-4.5.4 4 .4-4.2.4 4.7.4-4 .4 4.4.4-4.1.4 4.9.4-4.5.4 3.9.4-4.2.4 4.1.4-4.3.4 4.1.4-4.5.4 4.2.4-4.4.4 4.3.4-4.5.4 4.3.4-4.3.4 4.2.4-4.8.4 4.1.4-3.9.4 4.4.4-4.4.4 4.2.4-3.7.4 4.1.4-4.1.4 3.9.4-3.7.4 3.9.4-3.5.4 4.3.4-4.3.4 4.3.4-3.6.4 3.7.4-3.9.4 4.3.4-4.6.4 4.4.4-4.5.4 3.7.4-3.5.4 4.5.4-4.3.4 3.4.4-4.3.4 4.6.4-4.5.4 4 .4-5 .4 4.4.4-4.2.4 4 .4-4.3.4 3.7.4-4.2.4 3.9.4-4.5.4 4.6.4-4.6.4 4.6.4-4.8.4 4 .4-3.8.4 3.8.4-3.7.4 4.3.4-4.7.4 4.5.4-4.2.4 4.1.4-4.8.4 4.3.4-4.8.4 4.3.4-4.6.4 4.5.4-4 .4 3.6.4-4.9.4 3.8.4-4.7.4 3.5.4-4.6.4 4.1.4-4.9.4 3.5.4-4.6.4 2.4.4-4.8.4 2.9.4-4.7.4 3.1.4-5.6.4 2.5.4-4.9.4 2.7.4-3.7.4 1.8.4-1.1.4.9.4-2 .4 3.1.4-2.8.4 5 .4-2.9.4 5.2.4-3.4.4 5.3.4-2.8.4 5.7.4-3.4.4 4.8.4-3.2.4 4.9.4-3.6.4 5.3.4-3.9.4 4.9.4-4 .4 4.9.4-4.9.4 5.2.4-4.6.4 4.7.4-4 .4 4.9.4-3.8.4 4.9.4-3.8.4 3.9.4-4.9.4 4.8.4-4.2.4 3.7.4-3.9.4 3.7.4-4.2.4 4.8.4-3.8.4 4.4.4-5 .4 3.8.4-4.3.4 4 .4-3.9.4 4.4.4-3.8.4 3.5.4-4.1.4 4 .4-3.7.4 4.4.4-4.3.4 4.3.4-4.3.4 4.1.4-4 .4 3.4.4-4.4.4 4.3.4-4.3.4 3.4.4-4.9.4 4.6.4-4.5.4 3.8.4-5 .4 3.3.4-4.6.4 3.7.4-5.2.4 2.5.4-5.4.4 2.6.4-7.1.4 1 .4-10.5.4-6.2.4-29.4.4-70 .4-176.7.5-289.6.3 152 .4 242.9.4 113.7.4 47.8.4 11.9.4 11 .4.5.4 6.8.4-1.7.4 5.7.4-2.7.4 4.8.4-2.7.4 4.4.4-3.3.4 4.5.4-3.2.4 4.5.4-3 .4 3.7.4-3.5.4 4.8.4-3.7.4 3.8.4-3.3.4 4 .4-4.2.4 4 .4-4.6.4 2.9.4-5.5.4 1.8.4-8.3.4-1.8.4-12.2.4-7.5.4-18.8.4-15.4.6-21.2.2-.2.4 4.6.4 12.1.4 8.8.4 17.7.4 10 .4 14.9.4 4.6.4 9.5.4-.1.4 6.8.4-2.1.4 5.4.4-2.5.4 4.5.4-3.3.4 3.9.4-3.3.4 3.5.4-2.9.4 3.6.4-3 .4 3.9.4-3 .4 3.9.4-3.3.4 3.9.4-3.2.4 3.4.4-2.8.4 4 .4-3.9.4 3.6.4-3.6.4 4.2.4-3.6.4 3.8.4-4 .4 3.7.4-3.7.4 3.9.4-4 .4 3.2.4-3.4.4 3.6.4-3.5.4 2.5.4-3.2.4 3.2.4-3.3.4 3.8.4-4 .4 3.4.4-3.4.4 3.2.4-3.7.4 3.7.4-3.5.4 3.5.4-4.2.4 3.7.4-3.8.4 4.2.4-3.8.4 3.7.4-3.7.4 3.6.4-3 .4 3.5.4-3.4.4 3.7.4-3.5.4 3.3.4-3.5.4 4.2.4-3.5.4 3.6.4-3.3.4 3.9.4-3.3.4 3.9.4-4 .4 3.7.4-4 .4 3.3.4-3.2.4 3.1.4-3.6.4 3.6.4-4 .4 3.1.4-3.6.4 3.8.4-3.9.4 3.1.4-3.8.4 3 .4-3.4.4 3.1.4-3.5.4 3.8.4-3.2.4 3.6.4-3.2.4 3.5.4-3.2.4 4 .4-3.4.4 3.4.4-3.2.4 3.4.4-3.2.4 3.6.4-3.2.4 3.7.4-3.3.4 3.2.4-3.5.4 3.6.4-3.2.4 3.5.4-3.6.4 3.6.4-3.3.4 3.1.4-3.3.4 4 .4-3.4.4 3.3.4-3.3.4 2.9.4-3.7.4 3.8.4-3.5.4 3.3.4-3.7.4 3.2.4-3.8.4 3.8.4-3.8.4 3.3.4-3 .4 3.3.4-3.5.4 3.7.4-3.2.4 3.2.4-3.5.4 3.4.4-3 .4 3.2.4-3.2.4 4.1.4-3.5.4 3.3.4-3.3.4 3.3.4-2.7.4 3.2.4-3.4.4 3.6.4-3.4.4 3.3.4-3.5.4 2.8.4-3 .4 3.5.4-3.7.4 3.4.4-3.2.4 2.9.4-2.8.4 2.7.4-3.2.4 3.1.4-3.1.4 3.1.4-3.5.4 3.6.4-2.7.4 3.8.4-3.3.4 2.7.4-3.5.4 3.6.4-3.2.4 3.7.4-3.4.4 3.7.4-3.5.4 3.4.4-3.3.4 3.5.4-3.1.4 3.4.4-3.4.4 2.7.4-3.3.4 3.3.4-2.9.4 3.1.4-3.5.4 3 .4-3.4.4 3.3.4-3.1.4 3.4.4-3.3.4 3.3.4-3.6.4 3.1.4-3.5.4 3.8.4-3.1.4 3.1.4-3.2.4 3.5.4-3.6.4 3.1.4-2.9.4 3.2.4-3.5.4 3.6.4-3.5.4 3.1.4-3.2.4 3.5.4-3.6.4 3.4.4-3.7.4 4 .4-3.8.4 3.3.4-3 .4 3.3.4-3.4.4 3.8.4-3.3.4 3 .4-3.1.4 3.2.4-2.7.4 3.5.4-3.4.4 3.6.4-3.4.4 3.3.4-3.5.4 3.6.4-2.9.4 3 .4-3.4.4 2.9.4-3.2.4 3.4.4-3.5.4 3.8.4-4 .4 3.6.4-3.4.4 3.4.4-3.2.4 2.9.4-3.6.4 3.6.4-3.8.4 3.3.4-3.1.4 3.2.4-3.1.4 3.7.4-3.7.4 2.8.4-3.1.4 2.8.4-3 .4 3.4.4-3.8.4 3.5.4-2.8.4 2.9.4-2.8.4 2.9.4-3 .4 3.2.4-3.7.4 2.9.4-3.1.4 3 .4-3.3.4 3.4.4-3.3.4 3.4.4-3.5.4 3.3.4-3.2.4 3 .4-3.3.4 3.1.4-2.9.4 3 .4-2.9.4 3.3.4-3.4.4 3.7.4-3.6.4 3.3.4-3.2.4 2.8.4-3.1.4 3.3.4-3.2.4 2.7.4-3.6.4 3.1.4-3.1.4 3.3.4-3 .4 3.1.4-3.2.4 3.6.4-3.4.4 3.5.4-3.5.4 2.8.4-3.6.4 3.3.4-3.5.4 3 .4-3.4.4 3.5.4-3.8.4 2.5.4-3.9.4 2.3.4-3.9.4 2.2.4-4.2.4 2.1.4-4.2.4 2.3.4-4.7.4 1.9.4-4.8.4 2.5.4-4.5.4 1.8.4-2.9.4 1.2.3-.9.5 1.1.4-1.5.4 3.2.4-2.5.4 4.6.4-2 .4 4 .4-2.3.4 4.7.4-2.4.4 3.6.4-2.7.4 3.5.4-2.6.4 3.3.4-3.5.4 3.9.4-3.1.4 3.3.4-2.6.4 3.4.4-3.6.4 3.4.4-3.2.4 2.9.4-3.4.4 3.1.4-3.5.4 2.8.4-3.7.4 3.2.4-3.8.4 3.2.4-4.6.4 2.8.4-3.6.4 3 .4-3.1.4 3.7.4-3.2.4 3.4.4-2.9.4 4 .4-2.9.4 4.1.4-3.4.4 4.2.4-2.5.4 3.9.4-2.5.4 3.9.4-3.1.4 3.8.4-3.4.4 3.4.4-3.6.4 3.7.4-3.1.4 3.5.4-4.1.4 2.5.4-3.9.4 1.4.4-6 .4 0 .4-8.3.4-3.1.4-10.2.4-6 .3-3.7.5 2.8.4 2.2.4 6.3.4.6.4 8.4.4 2.6.4 8 .4.4.4 6.5.4-1.6.4 5.2.4-2.2.4 3.9.4-2.6.4 3.7.4-3.1.4 3.6.4-3.6.4 3.7.4-3.5.4 3.6.4-3.4.4 3.2.4-3.3.4 3.4.4-2.9.4 3.5.4-3.6.4 3.1.4-3 .4 3.8.4-3.6.4 3.9.4-3.4.4 3.2.4-3 .4 3.4.4-3.4.4 3.3.4-3.1.4 2.9.4-3.6.4 3.3.4-3.6.4 3.8.4-3.7.4 3.5.4-3.4.4 3.2.4-3.5.4 3.7.4-3.3.4 3 .4-3.3.4 3.4.4-3.2.4 2.9.4-3.2.4 3.4.4-3.9.4 2.7.4-3.7.4 3.1.4-3.3.4 3 .4-3.7.4 2.8.4-4.3.4 2.8.4-3.7.4 3 .4-4.4.4 2.9.4-3.6.4 3.2.4-3.9.4 3.2.4-3.8.4 3.2.4-3.8.4 3.5.4-3.9.4 3.3.4-3.4.4 3.8.4-3.8.4 3.9.4-3.3.4 3.4.4-3.1.4 3.3.4-2.8.4 3.2.4-2.7.4 3.4.4-3 .4 3.9.4-2.8.4 3.8.4-3.1.4 3.6.4-2.5.4 3.2.4-2.9.4 3.7.4-2.7.4 3.1.4-3.2.4 3 .4-2.9.4 3.8.4-3.1.4 3.3.4-2.9.4 3.7.4-3.4.4 3.3.4-3.1.4 3.8.4-3.7.4 3.3.4-3.3.4 3.3.4-3.4.4 3.5.4-3.4.4 3 .4-4.6.4 2.5.4-5.1.4.4.4-7.2.4-2 .4-7.9.6-5 .2-.6.4 3.5.4 1.1.4 5.2.4-1.1.4 6.6.4.1.4 6.3.4-.6.4 5.4.4-2.4.4 4.7.4-2.9.4 4 .4-2.9.4 3.7.4-3.6.4 3.7.4-3.8.4 3.4.4-3.4.4 3.4.4-2.9.4 3 .4-3.4.4 3.2.4-3.5.4 3.4.4-3.5.4 3.2.4-4.4.4 2.6.4-4.8.4 2.2.4-5 .4.6.4-3.6.4-.4.4-.6.4 2.8.4-1.6.4 4.2.4-2.2.4 4.2.4-1.4.4 4.3.4-1.3.4 4.5.4-2.7.4 3.8.4-2.9.4 3.3.4-2.9.4 3.4.4-3.2.4 3.5.4-3.2.4 3.7.4-3.1.4 3.3.4-3.6.4 2.9.4-3.1.4 3.3.4-3.1.4 3.5.4-3.6.4 3.5.4-2.8.4 2.9.4-3.2.4 3.8.4-3.3.4 3.2.4-3.5.4 3.7.4-3.5.4 3.3.4-3.2.4 3.1.4-3.2.4 3.1.4-3.7.4 3.1.4-3.3.4 3.2.4-3.7.4 2.9.4-2.8.4 2.9.4-2.8.4 3.1.4-3.5.4 3.2.4-3.1.4 3.3.4-3.4.4 3.4.4-3.5.4 2.1.4-3.8.4 1.6.4-3.4.4 0 .3-1.1.5 1.3.4-.9.4 3.1.4-2.4.4 3.7.4-2.2.4 4 .4-2.7.4 3.5.4-2.8.4 3.8.4-2.9.4 2.8.4-3 .4 3.1.4-3.7.4 3.1.4-2.9.4 3.3.4-3.1.4 3.2.4-3.2.4 3 .4-3.7.4 2.8.4-4.4.4 2.3.4-5 .4 1.3.4-5.9.4-1.7.4-5.9.4-1.9.4.4.4 4.4.4.2.4 4.1.4-1.3.4 5.1.4-.2.4 5.2.4-.9.4 4.1.4-2.3.4 4.2.4-3.4.4 3.5.4-3.2.4 3.7.4-3.4.4 3.4.4-3.1.4 3.4.4-3.3.4 3.4.4-3.4.4 3.7.4-3 .4 3.2.4-3.2.4 3.4.4-3.2.4 3.1.4-2.9.4 2.9.4-3.3.4 3.3.4-3 .4 3.3.4-3.4.4 3.1.4-3 .4 2.9.4-2.8.4 2.9.4-3.1.4 3.3.4-3.5.4 3.2.4-2.8.4 3.2.4-3.5.4 3.1.4-2.9.4 2.8.4-3.2.4 3.6.4-2.6.4 2.8.4-3.6.4 3.1.4-3.1.4 2.8.4-2.8.4 3 .4-2.7.4 2.6.4-2.7.4 3.2.4-3.3.4 3.7.4-3.3.4 2.6.4-2.8.4 2.7.4-3.3.4 3.2.4-3 .4 3.1.4-3.3.4 3.1.4-3.2.4 3.1.4-3.4.4 2.9.4-2.7.4 2.5.4-3.2.4 3.3.4-3 .4 3.3.4-3.1.4 3.5.4-3.3.4 3.4.4-3 .4 3.3.4-3.1.4 3.3.4-3.2.4 3 .4-3.1.4 2.7.4-2.8.4 2.9.4-3.1.4 2.7.4-3.2.4 3.1.4-2.8.4 3.2.4-3.4.4 2.9.4-3.1.4 3.1.4-3.4.4 3.4.4-2.8.4 3.3.4-3.1.4 3.1.4-3.3.4 3.1.4-3.6.4 3.1.4-3.2.4 3 .4-3.2.4 2.6.4-3 .4 2.4.4-2.8.4 2.2.4-3.6.4 2.3.4-3.3.4 2.7.4-3.7.4 2.2.4-3.5.4 2.7.4-3.6.4 2.3.4-3.3.4 2.2.4-4 .4 2.2.4-3.6.4 2.3.4-3.7.4 2.5.4-3.3.4 2.6.4-2.1.6 1 .2-.5.4 1.3.4-1.8.4 3.3.4-2.2.4 3.9.4-2.6.4 3.9.4-2.3.4 4 .4-2.3.4 3.6.4-2.4.4 3.5.4-2.5.4 3.4.4-3.3.4 4 .4-3 .4 3 .4-2.7.4 3.2.4-2.4.4 3.1.4-2.9.4 3 .4-2.7.4 3.2.4-3.2.4 3.7.4-2.9.4 3.3.4-2.6.4 3.1.4-3.3.4 3.9.4-3.6.4 3.5.4-3.1.4 2.8.4-2.4.4 2.7.4-2.7.4 3 .4-3.1.4 3.3.4-3.5.4 3.1.4-2.8.4 3.2.4-3.4.4 3.3.4-3 .4 2.8.4-2.9.4 3 .4-3.1.4 3.2.4-3.2.4 3.3.4-3.3.4 3.3.4-2.9.4 3.2.4-3.5.4 3.1.4-2.8.4 3 .4-2.6.4 3 .4-2.5.4 2.9.4-3.1.4 3 .4-3 .4 3.2.4-2.9.4 3.5.4-3.3.4 3.3.4-2.8.4 2.6.4-2.6.4 3 .4-2.9.4 2.7.4-3.2.4 2.8.4-2.9.4 3.4.4-3.3.4 3 .4-3.1.4 3 .4-3.4.4 3.3.4-3.5.4 3.1.4-3.2.4 3.1.4-3.1.4 3.1.4-2.6.4 2.8.4-2.9.4 2.8.4-3.1.4 2.8.4-3.1.4 3.2.4-3.4.4 3.2.4-3 .4 2.9.4-2.7.4 2.8.4-3.2.4 3.3.4-3.4.4 3.5.4-3.2.4 3.5.4-2.9.4 2.8.4-3 .4 3.5.4-2.9.4 2.8.4-3.1.4 3.2.4-3.8.4 3.6.4-3.2.4 3.1.4-2.6.4 2.9.4-3.3.4 2.8.4-3 .4 3 .4-3 .4 2.8.4-2.9.4 3.1.4-3.3.4 2.7.4-3 .4 3.3.4-3.3.4 2.7.4-3.2.4 3.4.4-3.4.4 3.5.4-3.4.4 3.4.4-3.3.4 2.9.4-3 .4 2.9.4-2.4.4 3.1.4-3.2.4 3.4.4-3.1.4 3 .4-2.7.4 3.4.4-3.5.4 3.1.4-3.1.4 2.7.4-2.7.4 2.9.4-2.9.4 3.3.4-3.1.4 2.6.4-3 .4 2.6.4-3 .4 2.9.4-3.1.4 3.1.4-3.2.4 3.3.4-2.9.4 3.1.4-2.9.4 3 .4-3.1.4 2.9.4-3.5.4 3.3.4-3.2.4 2.5.4-4 .4 2 .4-5 .4.6.4-6.8.4-2.6.4-10.3.4-6.4.4-11.6.5-7 .3.8.4 7.7.4 4.1.4 6.9.4-1.2.4 4.6.4.6.4 8.4.4 2.5.4 7.1.4.5.4 4.9.4-1.2.4 4.2.4-2.4.4 3.5.4-2.5.4 3.3.4-2.8.4 3.1.4-2.5.4 2.9.4-3.3.4 2.9.4-3 .4 3.5.4-3.2.4 3.5.4-3.3.4 3.4.4-3.1.4 2.9.4-3.1.4 2.8.4-2.5.4 2.9.4-3 .4 2.8.4-2.8.4 3 .4-3.2.4 3.6.4-3.5.4 3.1.4-3.2.4 3.4.4-3.3.4 3.1.4-2.9.4 3.1.4-3.5.4 3.2.4-3.4.4 3.4.4-2.9.4 3 .4-3 .4 3.2.4-3.5.4 3 .4-3 .4 3.1.4-2.6.4 3 .4-3.3.4 3.2.4-2.7.4 3.7.4-3 .4 2.5.4-2.8.4 3.2.4-3 .4 2.8.4-2.7.4 2.7.4-2.7.4 3 .4-3.3.4 3.1.4-3.2.4 3.5.4-3.4.4 3.3.4-3.5.4 3.1.4-2.7.4 3.1.4-3.3.4 3.8.4-3.4.4 3.2.4-3.2.4 3.1.4-3 .4 3.3.4-3.1.4 2.9.4-3.1.4 2.7.4-2.6.4 3.2.4-3.4.4 3.2.4-3.1.4 2.9.4-3.4.4 2.8.4-3 .4 3.2.4-3.4.4 3.3.4-2.8.4 2.8.4-3.1.4 2.7.4-3.2.4 3.2.4-3.8.4 2.9.4-2.8.4 3.2.4-2.5.4 2.8.4-3.1.4 3 .4-2.6.4 3.1.4-3.2.4 2.7.4-3.1.4 3.1.4-2.4.4 3.2.4-2.7.4 3.1.4-3.3.4 3.1.4-3 .4 2.9.4-2.7.4 2.9.4-3.7.4 3.1.4-3.2.4 3.1.4-2.7.4 2.6.4-3 .4 2.9.4-3.4.4 3 .4-3.4.4 2.6.4-3.4.4 2.9.4-2.8.4 2.6.4-3.1.4 2.9.4-2.8.4 3 .4-3.4.4 3.1.4-3.8.4 3.3.4-2.8.4 3.1.4-3.2.4 3.2.4-3.6.4 3.4.4-3.2.4 3.2.4-2.9.4 2.5.4-2.8.4 2.8.4-3.2.4 2.8.4-3.1.4 3 .4-2.8.4 2.7.4-2.9.4 3 .4-3.4.4 3.2.4-3.2.4 2.9.4-3.3.4 3.1.4-3.4.4 3.2.4-3.4.4 3 .4-3.3.4 3 .4-3.4.4 2.9.4-3.5.4 3.2.4-3.4.4 2.3.4-2.8.4 2.4.4-3 .4 3 .4-3.1.4 2.3.4-3.8.4 2.8.4-4.4.4 1.8.4-4.4.4.7.4-3.9.4-.2.3-1.2.5 1 .4-.7.4 3.3.4-2.4.4 3.4.4-2.7.4 3.9.4-2.5.4 3.6.4-2.4.4 4.2.4-2.7.4 3.5.4-2.7.4 3.1.4-3.3.4 3.5.4-3 .4 3.1.4-3.2.4 2.8.4-2.7.4 3.9.4-2.6.4 3.3.4-2.6.4 3.9.4-2.7.4 3.6.4-2.8.4 3.2.4-2.5.4 3.8.4-2.5.4 2.9.4-2.5.4 3.5.4-2.6.4 3.3.4-3.1.4 3.7.4-3 .4 3.3.4-3.3.4 3.4.4-3.2.4 3.4.4-2.6.4 3 .4-3.4.4 3.4.4-2.6.4 3 .4-2.9.4 3.5.4-3.5.4 3 .4-3.4.4 3.3.4-2.3.4 3.1.4-3.2.4 2.9.4-2.6.4 3 .4-2.8.4 3.3.4-3.2.4 3.3.4-3 .4 2.8.4-2.9.4 2.7.4-2.8.4 3 .4-3.4.4 3.7.4-3.3.4 3.5.4-3.6.4 3.1.4-3 .4 3 .4-2.7.4 3.1.4-3.2.4 3.4.4-3.4.4 2.8.4-2.7.4 2.9.4-3 .4 2.7.4-2.9.4 2.7.4-2.8.4 2.6.4-2.9.4 3.1.4-3.6.4 2.8.4-2.6.4 2.7.4-2.7.4 2.7.4-2.8.4 2.7.4-3 .4 2.7.4-2.8.4 3 .4-3.1.4 3.2.4-3.1.4 2.8.4-3.3.4 3.4.4-3.1.4 2.9.4-2.9.4 2.6.4-2.9.4 3.4.4-3.2.4 3.6.4-3 .4 2.8.4-3 .4 3 .4-2.7.4 2.9.4-2.7.4 2.9.4-2.8.4 2.8.4-3.1.4 3.4.4-3.6.4 3.3.4-3.1.4 2.8.4-2.9.4 3 .4-2.9.4 2.8.4-3.5.4 2.9.4-3.3.4 3.5.4-3.1.4 2.7.4-2.3.4 2.9.4-3.1.4 3.2.4-3.3.4 3.6.4-3 .4 3.2.4-3.5.4 2.8.4-2.3.4 2.9.4-2.9.4 2.8.4-3.4.4 3.2.4-3.3.4 3 .4-2.8.4 2.9.4-3.3.4 3.3.4-2.9.4 2.8.4-3.4.4 2.7.4-2.9.4 2.7.4-2.9.4 3.3.4-3.1.4 3.3.4-3.2.4 3.5.4-3.3.4 2.9.4-3 .4 2.9.4-3.4.4 3.5.4-3 .4 3.3.4-2.8.4 3.2.4-3 .4 2.9.4-3.4.4 3.3.4-3.5.4 3 .4-2.9.4 2.8.4-3.1.4 3.4.4-3.2.4 2.7.4-2.6.4 2.7.4-3.3.4 3.2.4-3 .4 2.6.4-2.6.4 3.1.4-2.6.4 2.7.4-3 .4 2.7.4-3.1.4 2.9.4-3.2.4 3.2.4-3.2.4 2.8.4-4 .4 2.7.4-4.1.4 1.4.4-5 .4-.5.4-7.5.4-2.7.4-8.2.6-5.2.2 0 .4 5 .4 2.9.4 6.6.4-1 .4 4 .4-3.1.4 3.3.4-1.4.4 6.2.4-.1.4 5.4.4-1.3.4 4.3.4-2.3.4 3.8.4-2.6.4 3.1.4-2.7.4 3.5.4-3 .4 3.1.4-2.9.4 2.8.4-2.8.4 2.9.4-3 .4 3.3.4-2.9.4 3.4.4-3.5.4 3.3.4-3.1.4 3.4.4-3.1.4 3.2.4-3.8.4 3.4.4-3.3.4 3.6.4-3.2.4 3 .4-3 .4 3 .4-2.8.4 2.8.4-2.7.4 3.2.4-3.1.4 3.3.4-2.6.4 2.6.4-2.8.4 3 .4-3.1.4 3.4.4-2.9.4 3.3.4-2.8.4 2.8.4-3 .4 2.9.4-3.3.4 2.8.4-3.3.4 3 .4-2.9.4 2.6.4-3 .4 3.5.4-3.5.4 2.8.4-3.3.4 2.8.4-2.9.4 2.9.4-3.5.4 3.3.4-3.2.4 3.2.4-2.8.4 2.8.4-3.6.4 3.3.4-3.5.4 3.1.4-3.3.4 2.8.4-3.1.4 2.7.4-2.7.4 2.5.4-3.5.4 2.5.4-3.2.4 2.9.4-3.4.4 2.6.4-3.4.4 2.9.4-3.4.4 3 .4-3.6.4 3 .4-3.4.4 2.8.4-3.5.4 2.7.4-2.7.4 3.3.4-3.3.4 3.3.4-2.8.4 2.8.4-2.7.4 2.9.4-2.6.4 3.3.4-2.6.4 3.3.4-2.7.4 3.5.4-2.3.4 3.7.4-2.9.4 3.6.4-3.2.4 3.3.4-2.5.4 3.4.4-2.5.4 2.7.4-2.8.4 3.3.4-2.9.4 3 .4-2.8.4 3.2.4-3.4.4 2.9.4-2.3.4 2.7.4-2.8.4 3.4.4-3.4.4 2.8.4-3.3.4 2.9.4-2.4.4 2.8.4-3 .4 3.2.4-3.4.4 3.3.4-2.9.4 2.7.4-2.9.4 2.8.4-3.1.4 3.2.4-3 .4 3 .4-2.6.4 3.1.4-3.1.4 2.9.4-2.8.4 3 .4-3.3.4 3.2.4-3 .4 2.7.4-2.8.4 3 .4-3.1.4 2.8.4-3.5.4 3 .4-3.1.4 2.4.4-3.3.4 2 .4-4.3.4 2.3.4-4.8.4 2 .4-3.5.4 2.7.4-2.6.4 4 .4-1.9.4 4.4.4-1.6.4 4.4.4-2.2.4 3.4.4-2.6.4 2.9.4-2.8.4 3.2.4-2.9.4 2.7.4-2.9.4 3.3.4-3.3.4 3.3.4-3.2.4 2.4.4-2.6.4 2.8.4-3.1.4 2.8.4-3.1.4 3.1.4-2.3.4 3.1.4-3.2.4 3 .4-2.8.4 2.5.4-3.2.4 3.1.4-2.6.4 3.2.4-3.2.4 3.3.4-2.9.4 2.9.4-2.7.4 3.1.4-2.8.4 2.6.4-2.8.4 3.1.4-3.1.4 2.7.4-2.4.4 3.3.4-3.4.4 3 .4-2.6.4 2.8.4-2.7.4 3.2.4-3.4.4 2.8.4-3.6.4 3.3.4-3 .4 2.5.4-2.9.4 3.3.4-3.4.4 2.9.4-3 .4 2.8.4-3.2.4 3.2.4-3 .4 2.6.4-3.1.4 3.4.4-3.2.4 2.7.4-2.8.4 2.7.4-2.9.4 2.8.4-3.2.4 3.6.4-3.1.4 2.8.4-2.9.4 3.5.4-3 .4 3.7.4-2.9.4 2.9.4-3.2.4 3.6.4-3.2.4 2.7.4-2.4.4 3.1.4-3.2.4 2.4.4-2.8.4 2.8.4-3 .4 3.1.4-3.6.4 2.5.4-3.1.4 3.2.4-3 .4 2.8.4-2.7.4 2.9.4-2.7.4 2.7.4-3 .4 3 .4-2.8.4 3 .4-2.9.4 2.8.4-3 .4 3.2.4-2.6.4 2.9.4-3.4.4 2.9.4-3.1.4 3 .4-2.9.4 3.1.4-2.9.4 3.1.4-2.6.4 2.9.4-2.7.4 2.5.4-2.9.4 3.1.4-3.1.4 2.8.4-2.8.4 3.1.4-3.5.4 3.1.4-3.1.4 3 .4-3.7.4 3.2.4-3.1.4 2.7.4-3 .4 3 .4-2.7.4 3 .4-2.7.4 3.4.4-3.5.4 3.1.4-3.4.4 3.4.4-3.3.4 3.3.4-2.8.4 2.9.4-2.9.4 2.5.4-3.5.4 3 .4-3.7.4 1.9.4-4.8.4 0 .4-6.6.4-4.1.4-4.5.4 4.2.4 3.7.4 5.8.4-1.7.4 1.9.4-5.3.4-3.3.4-4.1.4 3.9.4 3.3.4 5.7.4-2 .4 1.1.4-6.6.4-4.7.4-4.9.4 4.7.4 4.7.4 6.1.4-1.5.4 1.5.4-6.5.4-4.9.4-4.8.4 5 .4 5 .4 7 .4-1.5.4 2.3.4-5.9.4-4.1.4-4.3.4 4.8.4 5.1.4 7.1.4-.3.4 5.1.4-2.5.4 3.4.4-2.9.4 3.5.4-2.8.4 3.1.4-3.1.4 2.7.4-2.7.4 2.6.4-3.1.4 3.5.4-3.6.4 2.9.4-3 .4 3 .4-3.2.4 3.1.4-2.9.4 2.9.4-3.1.4 3 .4-3 .4 3.5.4-3.3.4 3.4.4-3.3.4 3.1.4-3.1.4 3.5.4-3.2.4 2.9.4-2.6.4 3 .4-3.7.4 2.9.4-2.7.4 3.1.4-2.9.4 2.5.4-3 .4 3.5.4-3.2.4 3.4.4-3.2.4 3.4.4-3.6.4 3.4.4-2.9.4 3 .4-3.1.4 3.5.4-3.1.4 2.8.4-2.7.4 2.6.4-3 .4 3.1.4-3.1.4 2.3.4-3.2.4 3 .4-2.8.4 3.2.4-3.3.4 3 .4-3.4.4 3.2.4-3.1.4 2.9.4-2.8.4 2.9.4-2.6.4 2.8.4-2.7.4 3.1.4-2.9.4 3.3.4-3.4.4 3.2.4-3.1.4 2.8.4-2.8.4 3.1.4-3 .4 2.8.4-2.7.4 3.2.4-3.5.4 3.5.4-3 .4 3 .4-2.9.4 3.5.4-3.7.4 3.1.4-2.8.4 3.1.4-2.9.4 3 .4-3 .4 3.6.4-3.2.4 2.5.4-2.9.4 2.9.4-3.6.4 3 .4-3 .4 2.8.4-3.4.4 3 .4-3.2.4 3.4.4-3.3.4 3 .4-3 .4 3.2.4-2.7.4 3 .4-3.3.4 2.7.4-2.6.4 3.3.4-3.1.4 3.6.4-3.1.4 3.5.4-3.1.4 3.1.4-3.3.4 3 .4-3.2.4 3.4.4-3.4.4 3.3.4-2.9.4 2.9.4-2.8.4 2.8.4-3.3.4 3.3.4-3.1.4 3.4.4-3.3.4 3 .4-3 .4 3.2.4-3.3.4 2.8.4-3.5.4 3.1.4-2.6.4 3.2.4-3.2.4 3.3.4-3.1.4 2.5.4-2.7.4 2.8.4-3.1.4 3 .4-2.7.4 3 .4-2.8.4 3.1.4-3.1.4 3.1.4-3.3.4 3.6.4-3.4.4 3.3.4-3 .4 3.1.4-3.1.4 3 .4-2.9.4 3 .4-3.2.4 2.4.4-3.3.4 3.5.4-3.2.4 2.9.4-2.7.4 2.6.4-2.8.4 2.7.4-2.5.4 3.1.4-3.1.4 3.1.4-2.9.4 2.7.4-2.8.4 3 .4-3 .4 2.9.4-2.9.4 2.9.4-3 .4 3 .4-3.3.4 2.8.4-3.4.4 2.8.4-3.4.4 3 .4-3.2.4 2.7.4-3.3.4 2.7.4-3.1.4 2.4.4-3.3.4 2.7.4-3.8.4 2.5.4-3 .4 2.3.4-3.3.4 2.6.4-3.4.4 2.7.4-3 .4 3.1.4-3.4.4 2.9.4-3.1.4 2.7.4-3 .4 3.6.4-2.9.4 3.6.4-3.3.4 3.8.4-3 .4 4 .4-2.7.4 3.4.4-2.5.4 2.9.4-2.4.4 3.5.4-2.6.4 3.5.4-2.4.4 3 .4-2.8.4 3.5.4-2.9.4 3.6.4-3.2.4 3.4.4-3 .4 3 .4-3 .4 2.9.4-3 .4 3.4.4-3 .4 2.9.4-3 .4 3.3.4-3.4.4 3.1.4-3.4.4 2.9.4-3.1.4 3.1.4-3 .4 3.3.4-3.2.4 3 .4-3 .4 3.2.4-3.7.4 2.8.4-3 .4 3.4.4-3.2.4 3.3.4-3.2.4 3.3.4-2.9.4 3.4.4-3.4.4 3.4.4-3.5.4 3.1.4-3 .4 3.2.4-3 .4 3.5.4-3.1.4 3.4.4-3.1.4 3.2.4-3.7.4 3.2.4-2.9.4 3.2.4-3 .4 3.4.4-3 .4 3.2.4-3 .4 2.9.4-2.9.4 2.9.4-3.4.4 2.9.4-3.4.4 2.9.4-3.3.4 2.7.4-3.2.4 2.2.4-3.8.4 2.5.4-3.6.4 2 .4-3.5.4 2.3.4-4 .4 2.3.4-3.4.4 2.4.4-3.4.4 3.4.4-3.4.4 3 .4-3.1.4 3.5.4-2.4.4 3.1.4-2.3.4 3.9.4-2.4.4 3.4.4-1.8.4 3.7.4-2.6.4 3.6.4-2.7.4 3.3.4-2.2.4 3.3.4-3.1.4 3.1.4-2.5.4 3 .4-2.7.4 3 .4-2.9.4 3.2.4-2.9.4 3 .4-3.4.4 3.3.4-3 .4 3 .4-3 .4 3.1.4-2.6.4 2.8.4-3.3.4 3 .4-2.5.4 3.1.4-3.4.4 2.7.4-2.9.4 2.9.4-3 .4 2.8.4-3.2.4 3.4.4-3 .4 3 .4-3 .4 2.8.4-2.9.4 2.7.4-3 .4 3.1.4-2.6.4 2.5.4-2.6.4 3 .4-2.9.4 3.4.4-2.9.4 2.6.4-2.9.4 3.1.4-3.1.4 2.9.4-3 .4 3.1.4-3.2.4 2.7.4-3.1.4 2.9.4-3.2.4 2.9.4-3.8.4 3.4.4-3.6.4 2.7.4-2.9.4 2.6.4-3.2.4 2.6.4-3.3.4 2.3.4-2.9.4 2.5.4-3.3.4 2.9.4-2.8.4 2.9.4-3.2.4 3.4.4-3.2.4 3.5.4-2.7.4 2.9.4-2.5.4 3.7.4-2.9.4 3.9.4-3.2.4 3.5.4-2.7.4 3.5.4-3.1.4 3.2.4-2.9.4 3.1.4-3 .4 3 .4-2.9.4 3.3.4-2.7.4 2.9.4-3 .4 3 .4-3.6.4 3.3.4-3 .4 2.9.4-3.2.4 3 .4-2.8.4 3.1.4-3.4.4 3 .4-2.9.4 3.2.4-3.5.4 3.1.4-3.2.4 3.6.4-2.9.4 3.1.4-2.8.4 2.8.4-3.2.4 3 .4-3 .4 2.7.4-3.3.4 3.1.4-3.2.4 3.2.4-3 .4 2.7.4-3.2.4 3.1.4-3.2.4 3.1.4-3.2.4 2.8.4-2.7.4 3.4.4-2.7.4 3 .4-2.9.4 2.6.4-3 .4 2.7.4-2.8.4 2.8.4-3 .4 3 .4-3.1.4 3 .4-3.4.4 3.3.4-3.3.4 3.3.4-3.6.4 3.2.4-3.7.4 3.4.4-3.4.4 2.7.4-3 .4 3 .4-3.4.4 2.6.4-3 .4 2.8.4-3.5.4 2.5.4-3.5.4 1.8.4-3.8.4 2.4.4-4.1.4 2.4.4-4 .4 2.9.4-3.9.4 2.9.4-3.6.4 3.5.4-3.4.4 3.8.4-2.7.4 3.9.4-2.7.4 4.2.4-1.9.4 4.1.4-2.2.4 3.6.4-2.5.4 4.1.4-2.4.4 3.7.4-2.5.4 3 .4-2.5.4 3.5.4-3 .4 3.3.4-3 .4 3.2.4-2.8.4 3.5.4-3.2.4 3.4.4-3.2.4 3.3.4-3.1.4 2.5.4-2.9.4 3.2"/>
<path stroke="#548235" d="M174.2,593.2l.4-6.7.4 6 .4-5.5.4 5.7.4-6.2.4 6 .4-6.1.4 5.5.4-5.5.4 6.7.4-5.6.4 6 .4-5.3.4 5.5.4-5.8.4 6.2.4-4.6.4 5.5.4-5.5.4 5.7.4-5.8.4 6.1.4-6.1.4 5.4.4-6.2.4 5.5.4-6.1.4 4.8.4-5.8.4 5.1.4-5.4.4 5 .4-5.9.4 5.6.4-4.6.4 5.3.4-5.9.4 6.7.4-5.8.4 5.8.4-5.7.4 5 .4-5.3.4 6.3.4-4.9.4 6.2.4-5.3.4 5.6.4-5.9.4 4.8.4-5.1.4 5.3.4-5.5.4 4.8.4-4.5.4 5.6.4-5.6.4 5.5.4-5.5.4 5.6.4-6.3.4 5.4.4-5.4.4 6 .4-5.9.4 6.1.4-6.3.4 5.5.4-6.2.4 5.9.4-6 .4 5.9.4-5.4.4 5.4.4-5.6.4 5.7.4-5.6.4 5.9.4-5.8.4 5.6.4-5.5.4 6 .4-4.7.4 6 .4-6.4.4 6.3.4-5.8.4 6.5.4-5.5.4 6 .4-6 .4 5.1.4-5.3.4 5.7.4-5.6.4 5.2.4-6.7.4 5.5.4-5.6.4 6.7.4-5.7.4 5.2.4-6.3.4 6.1.4-6.4.4 5.1.4-5.6.4 6 .4-5.3.4 4.6.4-4.9.4 5.6.4-5.6.4 5.4.4-5.3.4 5.1.4-5.3.4 5.6.4-6 .4 5.8.4-5.7.4 6.4.4-6.4.4 5.6.4-6.5.4 5.9.4-5.6.4 5.4.4-5.2.4 5.7.4-6.1.4 5.8.4-5.8.4 6 .4-5.9.4 5.9.4-6.1.4 6.4.4-6 .4 6.2.4-5.5.4 5.3.4-5.3.4 5.8.4-6.3.4 5.1.4-5.5.4 5 .4-5.9.4 5.5.4-6.4.4 6.1.4-5.5.4 5.8.4-6.2.4 6.1.4-6 .4 6.4.4-6.6.4 6 .4-5.5.4 4.9.4-6.3.4 5.5.4-7 .4 6.1.4-6.8.4 4.9.4-8.8.4 3.1.4-8.9.4-.3.4-9.9.6-4.3.2-.1.4 7.7.4 3.2.4 10.1.4-.5.4 9.1.4-3.3.4 7.1.4-4.4.4 7.1.4-4.5.4 5.9.4-4.6.4 5.7.4-4.6.4 5.1.4-4.4.4 5.2.4-5 .4 4.6.4-4.4.4 5.1.4-4.8.4 5.8.4-5.4.4 5.8.4-4.9.4 4.8.4-4.7.4 5.8.4-5 .4 4.7.4-4.7.4 5.8.4-4.7.4 5.7.4-4.2.4 4.9.4-4.4.4 5 .4-5 .4 5.2.4-4.6.4 5 .4-4.1.4 4.3.4-4.7.4 5.2.4-5.4.4 5.1.4-4.9.4 4.8.4-4.7.4 4.3.4-4.7.4 6 .4-5.6.4 4.6.4-4.3.4 5.1.4-5.3.4 4.6.4-4.3.4 4.6.4-4.7.4 5.5.4-5.3.4 4.2.4-5 .4 5.1.4-4.9.4 4 .4-5.2.4 5.3.4-5.1.4 4.7.4-5 .4 4.8.4-4.4.4 4.7.4-5.5.4 4.5.4-4.1.4 5.4.4-4.3.4 4.6.4-4.7.4 5.9.4-4.3.4 4.8.4-5.4.4 5.1.4-5.6.4 5.3.4-5 .4 5.1.4-4.8.4 5.1.4-4.6.4 4.5.4-5.5.4 4.6.4-4.2.4 4.7.4-5.6.4 4.1.4-4.3.4 4.6.4-5.7.4 5.1.4-5.4.4 5 .4-4.9.4 4.9.4-6 .4 5.4.4-5 .4 4.9.4-5.3.4 4.7.4-4.6.4 4.6.4-5 .4 4.8.4-4.5.4 4.6.4-4.7.4 4.6.4-5.3.4 5.6.4-5.6.4 5 .4-5 .4 3.7.4-5.8.4 5.1.4-6.1.4 5 .4-5.6.4 4.9.4-5.6.4 4.7.4-6.6.4 3.1.4-6.3.4 3.3.4-5.5.4 3.5.4-6.5.4 2.9.4-6.5.4 2.5.4-6.4.4 3.2.4-5.5.4 1.3.5-2 .3 1.3.4-1 .4 4.5.4-2.3.4 7.2.4-3.1.4 6.3.4-2.5.4 6.8.4-2.6.4 6.1.4-3.2.4 6.5.4-3.5.4 5.6.4-3.4.4 5.5.4-3.5.4 4.9.4-3.8.4 6 .4-3.6.4 5.1.4-3.8.4 4.5.4-4 .4 4.9.4-4.2.4 5.6.4-4.9.4 5 .4-4.3.4 4.5.4-4.4.4 4.7.4-4.4.4 5 .4-5 .4 4.8.4-4.6.4 5.2.4-4 .4 4.6.4-5.1.4 4.5.4-3.7.4 4.8.4-4.5.4 4.9.4-4.3.4 4.5.4-4.2.4 4.2.4-4.2.4 5.2.4-4.8.4 4.3.4-4.5.4 4.6.4-3.3.4 3.6.4-4.5.4 4.7.4-4.2.4 4.6.4-5.1.4 4.1.4-3.8.4 4.1.4-3.8.4 4.3.4-4.4.4 4 .4-3.8.4 3.9.4-3.8.4 4.5.4-4.2.4 4 .4-3.9.4 5.1.4-4.3.4 4.6.4-4.1.4 4.4.4-4.4.4 3.8.4-4.4.4 4.4.4-4.5.4 4.7.4-4.5.4 4.4.4-4.5.4 4.2.4-4.3.4 4.1.4-4.4.4 4.6.4-4.7.4 4.1.4-3.4.4 3.9.4-3.2.4 3.8.4-4.3.4 4.4.4-3.7.4 3.4.4-3.4.4 4.2.4-4 .4 4.3.4-3.4.4 4.2.4-3.3.4 3.7.4-3.8.4 3.5.4-3.8.4 3.7.4-4 .4 3.8.4-4.2.4 4 .4-3.6.4 3.5.4-3.5.4 3.7.4-4.3.4 3.9.4-4.1.4 4.2.4-4.2.4 3.8.4-3.8.4 4 .4-3.2.4 3.7.4-3.6.4 3.8.4-4.3.4 4.2.4-4.4.4 4.5.4-3.7.4 3.4.4-3.9.4 4.1.4-4.1.4 3.9.4-3.4.4 3.6.4-3.9.4 4.3.4-3.9.4 3.9.4-3.9.4 3.7.4-3.1.4 3.9.4-4.2.4 3.9.4-3.9.4 4 .4-3.8.4 4 .4-4.3.4 3.8.4-4.2.4 3.5.4-4 .4 3.8.4-4.1.4 3.8.4-3.9.4 4 .4-3.6.4 3.8.4-3.5.4 3.6.4-4.2.4 4.2.4-3.5.4 3.9.4-3.5.4 3.8.4-3.5.4 4.2.4-3.3.4 3.3.4-3.5.4 3.5.4-4 .4 3.9.4-3.9.4 4.3.4-3.5.4 3.7.4-4 .4 3.7.4-4 .4 4 .4-3.5.4 3.5.4-3.8.4 4.4.4-3.4.4 3.5.4-3.3.4 3.5.4-4.1.4 4 .4-3.8.4 4 .4-3.5.4 3.7.4-3.7.4 3.7.4-3.8.4 3.6.4-4.1.4 4.1.4-3.6.4 3.2.4-3.6.4 3.9.4-3.8.4 4.1.4-4 .4 3.8.4-4 .4 3.5.4-3.1.4 3.2.4-3.4.4 4.1.4-3.9.4 3.6.4-3.3.4 3.2.4-3.6.4 3.7.4-3.4.4 3.9.4-3.5.4 3.4.4-4.2.4 3.4.4-4.1.4 3.4.4-4.6.4 2.8.4-4.2.4 1.2.4-2.5.3.2.5-.7.4 3 .4-2 .4 4.2.4-2.6.4 4.8.4-3.5.4 4.8.4-3 .4 3.4.4-3 .4 3.6.4-3.5.4 3.8.4-4.1.4 3.9.4-3.2.4 3 .4-2.8.4 3.7.4-3.6.4 2.8.4-3.6.4 3.5.4-3.4.4 3.3.4-4.1.4 4 .4-3.3.4 3.1.4-3.7.4 3.4.4-3.7.4 3.8.4-3 .4 3.1.4-2.5.4 3.6.4-3.4.4 3.5.4-3.4.4 4 .4-3.1.4 3.1.4-3.3.4 3.6.4-3.2.4 3.6.4-3.4.4 3.7.4-3.6.4 2.6.4-3.6.4 3.3.4-3.3.4 3.8.4-3.6.4 3 .4-3.5.4 3.2.4-3.4.4 3.7.4-3.3.4 3 .4-3.8.4 3.8.4-3.6.4 4 .4-3.6.4 3 .4-3.5.4 3 .4-2.9.4 3 .4-3.1.4 3 .4-3.4.4 3 .4-3.5.4 3.8.4-3.9.4 3.2.4-4.5.4 2.9.4-4.6.4 3.2.4-5 .4 2.3.4-5.5.4 1.7.4-5.2.4 1.4.4-5.2.4 1.1.4-3.1.3 0 .5-1.9.4 2.6.4-2 .4 5.4.4-3.1.4 5.4.4-2.7.4 4.8.4-3.2.4 5.3.4-3.2.4 4.2.4-3.8.4 5 .4-4.5.4 5.1.4-4.9.4 4.8.4-4.6.4 4.2.4-4.7.4 4.6.4-4.3.4 4.5.4-4.2.4 3.9.4-4.7.4 5 .4-5 .4 4.5.4-4.6.4 4.1.4-4.9.4 4.3.4-4.6.4 4 .4-5 .4 3.2.4-5.9.4 2.1.4-8.1.4-2.2.4-13.6.4-8.4.4-20.4.4-18.4.5-20.4.3.4.4 6.9.4 18.1.4 13.5.4 20.6.4 8.5.4 13.5.4 2 .4 8.1.4-2.4.4 6.3.4-3.2.4 5.1.4-2.8.4 5 .4-3.5.4 5.1.4-3.4.4 4 .4-3.7.4 3.8.4-3.6.4 4.1.4-4.6.4 4.6.4-4.6.4 4.8.4-4.3.4 5.1.4-5.1.4 4.4.4-4.2.4 3.4.4-4 .4 4.6.4-4.1.4 3.8.4-4.1.4 4.3.4-3.4.4 3.7.4-3.7.4 4.5.4-4.9.4 4.3.4-4.3.4 3.7.4-4.2.4 4.1.4-3.8.4 4 .4-4.2.4 4.2.4-4.5.4 4.1.4-3.7.4 4.1.4-4.3.4 4.3.4-4.3.4 4.6.4-4.6.4 4.1.4-3.2.4 4.3.4-4.3.4 3.8.4-4.2.4 4.1.4-3.9.4 4.4.4-4.1.4 3.8.4-3.8.4 4.3.4-4.1.4 4.7.4-3.9.4 4.4.4-3.9.4 3.9.4-3.8.4 3.5.4-3.7.4 3.6.4-4.2.4 4.1.4-4 .4 4.4.4-3.9.4 4.2.4-4.5.4 4.3.4-3.7.4 4.3.4-4.5.4 3.8.4-4.2.4 4.2.4-3.7.4 3.8.4-4.1.4 4.2.4-4.2.4 3.9.4-3.7.4 3.9.4-3.9.4 3.4.4-4.3.4 4.4.4-4 .4 4 .4-4.3.4 4.1.4-3.9.4 4.6.4-4.2.4 3.8.4-3.8.4 4 .4-3.9.4 3.9.4-4 .4 3.5.4-4 .4 4 .4-4.4.4 4.3.4-3.6.4 3.4.4-4.4.4 3.6.4-3.7.4 3.8.4-3.7.4 3.9.4-3.3.4 4 .4-4.5.4 4.3.4-4.7.4 4.1.4-3.5.4 3.9.4-4.5.4 3.1.4-4 .4 4.6.4-4.7.4 4.2.4-4.5.4 4.1.4-4.5.4 3.8.4-3.7.4 3.9.4-4.4.4 3.9.4-4 .4 4 .4-4.5.4 4.2.4-4.4.4 3.7.4-4.1.4 3.7.4-4.9.4 3.1.4-4 .4 3.4.4-4.7.4 3.5.4-4.9.4 4 .4-5.2.4 2.7.4-5.3.4 3.9.4-5.6.4 2.9.4-5.5.4 2.8.4-2.9.4 1.6.4-1.1.4.8.4-1.9.4 3.6.4-2.6.4 4.6.4-3.6.4 5.3.4-3.1.4 5.4.4-3.4.4 5.4.4-2.8.4 4.9.4-3.2.4 4.2.4-3.2.4 4.2.4-3.5.4 4.5.4-3.1.4 4.2.4-3.6.4 4.5.4-4.3.4 4.8.4-3.9.4 3.9.4-4.3.4 4 .4-3.4.4 4.1.4-3.9.4 3.9.4-3.8.4 4.4.4-4.2.4 4.1.4-4.5.4 4.1.4-4 .4 4.5.4-3.8.4 4.2.4-4.4.4 4.6.4-4.3.4 4 .4-4.2.4 3.9.4-4.4.4 4 .4-4.4.4 4.6.4-4.7.4 4.5.4-4.6.4 3.6.4-3.8.4 3.3.4-4 .4 3.6.4-4.4.4 4.3.4-4.1.4 3.8.4-4.7.4 3.4.4-4 .4 3.3.4-4.4.4 3.7.4-4.3.4 2.7.4-5.1.4 2.9.4-5.6.4 1.5.4-8.2.4-2.3.4-20.2.4-42.2.4-111.3.5-181 .3 95 .4 152.7.4 70.2.4 31.2.4 6.1.4 9.4.4-1.1.4 6.5.4-2.7.4 5.1.4-2.4.4 4.7.4-3.2.4 4.7.4-3.7.4 4.5.4-4.1.4 4.6.4-3.9.4 4.7.4-3.8.4 4.2.4-3.9.4 4.7.4-4 .4 4 .4-3.7.4 4.3.4-3.7.4 4 .4-4.1.4 3.6.4-4.5.4 2.6.4-4.3.4.9.4-2.9.3.2.5-.7.4 3.1.4-1.6.4 4.7.4-2.6.4 5 .4-3.4.4 4.7.4-3.3.4 4.4.4-2.9.4 3.9.4-3.3.4 3.6.4-3.5.4 4.2.4-4 .4 3.8.4-3.4.4 3.6.4-3.5.4 4.1.4-3.9.4 3.3.4-3.7.4 3.5.4-4.1.4 3.4.4-3.2.4 3.4.4-3.2.4 3.4.4-3.7.4 3.4.4-3.4.4 3.6.4-3.4.4 3.4.4-3.6.4 3.4.4-3.3.4 3.8.4-2.7.4 3.3.4-3.1.4 3.3.4-3.6.4 3.1.4-3.1.4 3.7.4-3.4.4 3.3.4-2.9.4 3.7.4-3.6.4 3.9.4-3.7.4 3.5.4-3.5.4 3.7.4-3.4.4 3.3.4-3.2.4 3.7.4-3.5.4 3.8.4-3.6.4 3.4.4-4.4.4 3.4.4-3.7.4 3.6.4-4 .4 3.1.4-3.9.4 3 .4-3.7.4 2.6.4-3.7.4 2.6.4-4 .4 2.3.4-3.9.4 3.5.4-3.7.4 3.4.4-3.4.4 3 .4-4.1.4 3.8.4-3.9.4 4.1.4-2.9.4 3.9.4-3.5.4 4.1.4-3 .4 4.4.4-2.7.4 3.9.4-3 .4 4.1.4-3.2.4 3.4.4-3.1.4 4.1.4-3.3.4 4.1.4-3.3.4 3.8.4-3.9.4 3.5.4-3.6.4 3.3.4-3.4.4 2.8.4-3.3.4 3.3.4-4.1.4 3.6.4-3 .4 3 .4-2.9.4 3.2.4-3.8.4 3.6.4-3.9.4 3.4.4-3 .4 3.5.4-3.3.4 3.7.4-3 .4 3.8.4-3.6.4 3.6.4-3.3.4 2.9.4-3.6.4 3.4.4-3.6.4 3.7.4-3 .4 3.1.4-3.1.4 3 .4-3.1.4 2.4.4-3.2.4 3.3.4-3.7.4 3.9.4-3.5.4 3.4.4-3.3.4 3.7.4-3.8.4 3.3.4-3 .4 3.5.4-3.8.4 3.4.4-3.5.4 4 .4-3.8.4 3.9.4-3.4.4 3.6.4-3.4.4 3.4.4-3.5.4 2.9.4-3.5.4 3.8.4-3.1.4 3.4.4-3.6.4 4.5.4-3.5.4 3.3.4-3.6.4 3.2.4-3.2.4 3.3.4-4 .4 3.5.4-3.3.4 3.4.4-3.4.4 3.5.4-3.3.4 3.4.4-4.1.4 3.7.4-4.1.4 3.7.4-3.8.4 3.1.4-3.1.4 3.2.4-3.5.4 3.2.4-3.2.4 3.5.4-3.8.4 2.9.4-3.7.4 3.5.4-3.4.4 3.4.4-4 .4 3.8.4-4.2.4 3.6.4-4 .4 3.8.4-4.5.4 3.5.4-4.4.4 3.1.4-3.5.4 2.9.4-3.7.4 3.2.4-3.5.4 3.2.4-4 .4 3.8.4-3.7.4 4.4.4-3.4.4 3.8.4-3.4.4 3.9.4-3.1.4 4.4.4-3 .4 3.8.4-4 .4 4.1.4-3.8.4 4.1.4-3 .4 3.8.4-3.7.4 3.5.4-3.5.4 3.4.4-3.3.4 3.9.4-3.7.4 4.4.4-4.4.4 3.7.4-3.5.4 4.1.4-4 .4 3.9.4-3.1.4 2.9.4-4.2.4 4.2.4-4.3.4 3.9.4-4.5.4 4 .4-3.8.4 3.6.4-3.9.4 4 .4-3.1.4 3.5.4-4.2.4 3.6.4-3.8.4 4.3.4-4 .4 4.2.4-3.5.4 4 .4-3.3.4 3.8.4-4.1.4 3.3.4-3.5.4 3.5.4-4.5.4 3.8.4-4 .4 3.6.4-3.4.4 3.1.4-3 .4 3.8.4-4 .4 3.7.4-4.2.4 3.4.4-3.7.4 4.2.4-4.2.4 3.6.4-4.2.4 3.5.4-4.4.4 2.8.4-4.4.4 3.2.4-4.2.4 3.3.4-4.5.4 3.2.4-3.4.4 3.8.4-4.1.4 3.8.4-3.5.4 4.4.4-3.9.4 3.9.4-2.9.4 4 .4-2.9.4 4 .4-3.3.4 3.9.4-3.6.4 3.2.4-3.5.4 3 .4-3.4.4 3.4.4-4.4.4 4.3.4-4.1.4 3.7.4-3.9.4 2.9.4-3.7.4 2.5.4-4.2.4 2.8.4-3.9.4 2.4.4-3.9.4 2.8.4-2.4.5 1.2.3-.7.4 1.9.4-2.2.4 4 .4-2.9.4 5 .4-3 .4 4.2.4-3 .4 4 .4-3.1.4 4.4.4-3.2.4 4.2.4-4 .4 4.3.4-4 .4 4.3.4-4.3.4 4.2.4-3.7.4 3.2.4-3.5.4 3.6.4-3.5.4 3.9.4-3.8.4 3.8.4-3.3.4 4.5.4-4 .4 4.1.4-4 .4 3.8.4-3.4.4 3.6.4-3.9.4 3.5.4-3.5.4 4.3.4-3.8.4 3.4.4-3.4.4 3.7.4-4.1.4 3.8.4-4 .4 3.9.4-3.7.4 3.2.4-3.8.4 4.2.4-3.9.4 4.3.4-4.1.4 3.4.4-3.3.4 3.4.4-3.8.4 3.3.4-4.1.4 3.7.4-3.9.4 2.9.4-4.1.4 3.7.4-4.7.4 1.8.4-6 .4-.1.4-6.4.4-2.4.3-2.2.5 2.1.4.5.4 4.9.4-1.2.4 6.5.4-1.3.4 6.2.4-1.7.4 4.3.4-2.2.4 3.8.4-2.7.4 4 .4-3.6.4 3.3.4-3.9.4 3.4.4-3.4.4 3.7.4-3.6.4 3.6.4-3.1.4 3.9.4-3.7.4 4.1.4-4.1.4 3.7.4-4 .4 3.6.4-3.5.4 4.5.4-3.7.4 3.6.4-3.4.4 4.1.4-3.6.4 3.4.4-3.9.4 3.2.4-3.2.4 3 .4-3.3.4 3.3.4-3.7.4 3.9.4-3.3.4 3.9.4-4.2.4 4.1.4-3.4.4 3.3.4-3.8.4 3.7.4-3.4.4 3 .4-3.6.4 3.6.4-3.5.4 4.1.4-4 .4 4.1.4-3.9.4 3.5.4-4.1.4 3.8.4-3.8.4 3.7.4-3.5.4 3.6.4-3.9.4 3.4.4-3.3.4 4.4.4-3.8.4 3.6.4-3.5.4 3.6.4-3.5.4 3.7.4-3.3.4 2.9.4-3.7.4 3.6.4-3.6.4 3.9.4-3.4.4 3.3.4-4.3.4 3.2.4-4.4.4 2.5.4-4.9.4 1.9.4-5.7.4-.4.5-3.1.3.9.4-.5.4 4.1.4-2.4.4 4.7.4-2.2.4 5.4.4-1.9.4 4.3.4-2.3.4 3.8.4-3.2.4 3.9.4-3.4.4 3.5.4-3.9.4 4 .4-3.5.4 3.3.4-4.2.4 3.9.4-3.5.4 3.5.4-3.8.4 3.2.4-3.7.4 3.3.4-3.4.4 3.2.4-3.7.4 3.1.4-4.3.4 2.1.4-4.9.4 1.4.4-6.8.4-1 .4-7.3.6-4.4.2-.6.4 3.5.4.7.4 5 .4-2.2.4 5.9.4.5.4 6.6.4-1.1.4 5.2.4-2.5.4 4.6.4-3.7.4 3.9.4-3.4.4 4 .4-3.6.4 3.5.4-2.8.4 3.6.4-3.2.4 3.6.4-3.4.4 3.1.4-3.5.4 3.3.4-3.7.4 4.1.4-3.6.4 3.2.4-4 .4 3.2.4-4.1.4 2.6.4-4.2.4.9.4-3.1.4 0 .4-.7.4 2.6.4-1.9.4 4 .4-3 .4 4.4.4-3.1.4 4.1.4-2.8.4 4.4.4-3.5.4 4 .4-3 .4 3.3.4-3.3.4 3.6.4-3.5.4 3.3.4-3.5.4 3.5.4-3 .4 3.4.4-3.7.4 3.7.4-3.5.4 3.3.4-4 .4 3.5.4-3.4.4 3.4.4-2.7.4 3.3.4-3.7.4 3.5.4-3 .4 3.8.4-3.4.4 3.9.4-4 .4 3.8.4-3.4.4 3.6.4-2.7.4 3.3.4-4.1.4 3.5.4-3.3.4 3.9.4-3.9.4 3.9.4-3.8.4 2.8.4-3.3.4 3.4.4-3.4.4 3.3.4-3.5.4 3.4.4-3.6.4 3.5.4-3 .4 3.6.4-3.5.4 3.7.4-3.8.4 4 .4-4.1.4 3.8.4-3.7.4 3.5.4-3.9.4 3.8.4-3.2.4 3.4.4-3.1.4 3.3.4-3.2.4 3 .4-3.6.4 3.9.4-3.6.4 3.4.4-3.5.4 4.1.4-3.7.4 3.9.4-4 .4 3.8.4-3.5.4 3 .4-3.6.4 3.8.4-3.8.4 3.1.4-4 .4 2.9.4-4.9.4 1.7.4-5.3.4-.1.4-4.1.3-.3.5.2.4 3.8.4-1.1.4 3.5.4-2 .4 4.9.4-1.9.4 4.5.4-2.3.4 4 .4-2.5.4 3.7.4-3.3.4 3.2.4-2.9.4 3.3.4-3.3.4 2.7.4-3.3.4 3.8.4-3.4.4 2.9.4-2.9.4 2.9.4-3.2.4 3.9.4-3.6.4 3.3.4-3.4.4 3.6.4-3.6.4 3.7.4-3.2.4 3.4.4-2.9.4 3.5.4-3.4.4 3.2.4-3 .4 3.6.4-3.5.4 3.6.4-2.6.4 3 .4-2.8.4 3.6.4-3.6.4 3 .4-3.2.4 3.4.4-3.2.4 3 .4-3.1.4 3.2.4-3 .4 3.3.4-3.2.4 3.1.4-3.2.4 3 .4-3.2.4 3 .4-3.1.4 3.8.4-3.2.4 3 .4-3.6.4 3.4.4-3.5.4 3.2.4-3.1.4 3 .4-2.8.4 3.4.4-3.7.4 3.2.4-3 .4 3 .4-3.3.4 3 .4-3.1.4 3.3.4-2.9.4 3.1.4-2.6.4 2.8.4-3.3.4 2.7.4-2.7.4 2.9.4-3.1.4 2.9.4-2.9.4 3.3.4-3 .4 3 .4-3.2.4 3.1.4-3 .4 3 .4-3.3.4 2.9.4-2.7.4 3 .4-2.6.4 3 .4-3.1.4 2.5.4-3.1.4 2.8.4-3.2.4 2.9.4-2.5.4 3.4.4-3.2.4 3.1.4-3.2.4 3.3.4-3.5.4 2.8.4-3.7.4 3.2.4-3.1.4 3 .4-2.9.4 3.3.4-3.5.4 3.1.4-3.2.4 3 .4-3.2.4 2.2.4-3.1.4 2.9.4-2.9.4 2.6.4-3.1.4 2.6.4-3.1.4 2.3.4-3.8.4 3 .4-3.9.4 2.5.4-3.8.4 2.2.4-4 .4 2.4.4-3.9.4 2.2.4-3.1.4 2.2.4-1.5.3.7.5-.8.4 2.1.4-2.2.4 3.8.4-2.7.4 3.7.4-2 .4 4.2.4-2.6.4 3.8.4-2.1.4 3.4.4-2.5.4 3.7.4-2.7.4 4 .4-2.9.4 3.2.4-3.3.4 3.7.4-3.2.4 3.2.4-2.6.4 2.9.4-3.1.4 3.2.4-3.1.4 3.4.4-2.9.4 3.2.4-2.9.4 3.3.4-3.5.4 3.4.4-2.8.4 2.6.4-2.8.4 2.9.4-3 .4 3.5.4-3.3.4 3 .4-3.1.4 2.7.4-3.4.4 3.3.4-3.1.4 3 .4-2.7.4 2.9.4-3 .4 3.2.4-2.6.4 3 .4-2.9.4 2.9.4-3.4.4 3.7.4-3 .4 3.1.4-3 .4 2.7.4-2.5.4 3 .4-3.1.4 3.5.4-3.2.4 2.9.4-2.8.4 3.2.4-3.3.4 3.2.4-2.4.4 2.9.4-3 .4 3 .4-3.3.4 3.1.4-2.8.4 2.8.4-3.3.4 3.4.4-3.7.4 3.4.4-2.9.4 2.9.4-3.1.4 3 .4-2.8.4 2.9.4-3.2.4 3.7.4-3.5.4 3.2.4-3.4.4 3.1.4-2.9.4 3 .4-3.1.4 2.8.4-3.5.4 2.8.4-2.8.4 3.1.4-3.2.4 3 .4-2.9.4 3.1.4-3.5.4 3.4.4-3.3.4 3.1.4-3.2.4 3.4.4-3.2.4 3 .4-2.8.4 3.2.4-3.1.4 2.9.4-2.7.4 3.2.4-2.8.4 2.9.4-3 .4 2.7.4-2.8.4 3.6.4-3.4.4 3.6.4-3.2.4 2.9.4-3 .4 2.9.4-2.9.4 3 .4-3.2.4 3.3.4-2.9.4 2.5.4-3 .4 3.4.4-3.3.4 2.8.4-3.1.4 3.2.4-2.9.4 3.5.4-3.4.4 3.1.4-2.7.4 2.9.4-2.9.4 2.9.4-3 .4 3 .4-2.6.4 3.2.4-3.3.4 2.6.4-2.6.4 2.9.4-3.1.4 2.6.4-3.2.4 3 .4-3.4.4 3.3.4-3.2.4 2.6.4-2.7.4 2.7.4-3.1.4 3.1.4-3.5.4 3.1.4-2.8.4 2.8.4-3.1.4 3.3.4-3 .4 3 .4-2.5.4 2.6.4-3 .4 3 .4-2.9.4 2.8.4-3.2.4 3 .4-3.5.4 2.9.4-3.6.4 1.9.4-4.9.4.9.4-6.3.4-1.4.4-8.7.4-5 .4-10.1.5-5.4.3.5.4 6.5.4 3.2.4 6.3.4-1.5.4 4.2.4-.4.4 8.1.4 1.3.4 7 .4-1 .4 5.5.4-1.8.4 3.9.4-2.5.4 3.2.4-2.7.4 3.2.4-3.2.4 2.9.4-2.7.4 3.3.4-3.5.4 3 .4-3 .4 3.2.4-3.1.4 3.8.4-2.8.4 3.1.4-3.1.4 3.4.4-3.2.4 3.4.4-3.4.4 3.5.4-3.1.4 3.5.4-3.3.4 2.7.4-2.9.4 2.9.4-3.2.4 2.4.4-3.5.4 3.1.4-3.3.4 2.5.4-3.5.4 2.9.4-3.4.4 2.5.4-3.5.4 2.7.4-3.6.4 3.4.4-3.1.4 3.5.4-2.8.4 3.1.4-2.6.4 3.6.4-2.8.4 3.6.4-2.8.4 3.4.4-2.5.4 3.4.4-2.4.4 3.5.4-2.9.4 3.1.4-2.7.4 3.5.4-3 .4 2.5.4-3.1.4 3 .4-3 .4 2.8.4-3.2.4 3.1.4-3.1.4 3.3.4-3.6.4 3.4.4-3.3.4 3.1.4-2.9.4 3 .4-3.2.4 3.5.4-3.1.4 3.3.4-2.7.4 2.5.4-2.9.4 3.2.4-3 .4 2.9.4-3 .4 3.2.4-3.2.4 3 .4-3.2.4 3.2.4-3.3.4 3 .4-2.7.4 2.9.4-3 .4 3 .4-2.7.4 3.1.4-3.7.4 3 .4-2.8.4 2.7.4-2.9.4 2.8.4-2.7.4 3.3.4-2.7.4 2.4.4-2.9.4 3 .4-3 .4 3 .4-3.3.4 3.1.4-3.1.4 2.8.4-3.1.4 3.1.4-3.3.4 3.4.4-3.2.4 2.7.4-2.8.4 3 .4-3 .4 3.3.4-3.5.4 3.4.4-3.5.4 2.8.4-2.9.4 2.7.4-2.8.4 3.1.4-3.5.4 3.3.4-3.4.4 3.3.4-2.8.4 3.1.4-3.4.4 3.2.4-3.2.4 2.9.4-2.6.4 3.1.4-2.8.4 3 .4-3 .4 3 .4-3.2.4 3.2.4-3.1.4 3.1.4-3.1.4 2.9.4-3.3.4 2.5.4-2.8.4 2.9.4-3.1.4 3.1.4-3.2.4 2.6.4-2.8.4 2.9.4-3 .4 2.7.4-3.2.4 2.9.4-3.9.4 3 .4-2.8.4 3.1.4-3.6.4 3.1.4-2.9.4 3.1.4-3.5.4 3.2.4-3.4.4 2.8.4-3.5.4 2.4.4-2.6.4 3.4.4-3.4.4 3.2.4-3.3.4 2.7.4-2.8.4 2.8.4-3.3.4 2.6.4-3.4.4 2.1.4-3.3.4 2.6.4-3.9.4 2.1.4-3.2.4.6.3-.9.5.7.4-1.5.4 3 .4-2.5.4 3.1.4-2.9.4 3.3.4-2.7.4 3.3.4-2.7.4 3 .4-2.9.4 3.6.4-2.6.4 3 .4-3 .4 2.9.4-3 .4 3.3.4-3.1.4 3 .4-2.4.4 3.2.4-2.6.4 3.5.4-2.6.4 3.7.4-2.5.4 3.6.4-2.8.4 2.8.4-2.7.4 3.5.4-2 .4 3.4.4-2.8.4 3.1.4-3 .4 3 .4-3.1.4 3.3.4-3.3.4 2.7.4-3.1.4 3.2.4-3.2.4 3 .4-2.8.4 2.7.4-3.2.4 2.7.4-2.6.4 3 .4-3.3.4 3.2.4-2.9.4 3.1.4-2.4.4 2.8.4-2.7.4 3 .4-2.5.4 3.1.4-2.7.4 3.7.4-3.1.4 3.4.4-3.1.4 3.1.4-3.2.4 3.6.4-3.3.4 3 .4-3 .4 2.7.4-2.9.4 2.9.4-3.3.4 3 .4-2.8.4 2.6.4-2.8.4 2.8.4-2.8.4 2.9.4-3.3.4 2.9.4-3.2.4 2.8.4-3 .4 3.4.4-3.1.4 3.1.4-3 .4 3.1.4-3.4.4 3 .4-3.3.4 3.4.4-3.1.4 2.7.4-3.1.4 3.2.4-2.8.4 3.1.4-3.2.4 3.1.4-3.4.4 2.7.4-2.7.4 2.8.4-2.9.4 3.2.4-3.2.4 2.6.4-2.9.4 3.2.4-2.8.4 3.1.4-3.1.4 3 .4-2.9.4 2.9.4-2.9.4 3.1.4-3 .4 2.9.4-3 .4 3.5.4-3.2.4 2.9.4-3.3.4 3 .4-3 .4 3 .4-2.9.4 2.8.4-3.4.4 2.7.4-2.9.4 3.5.4-3.2.4 2.9.4-2.8.4 2.4.4-3.1.4 2.6.4-2.5.4 3 .4-2.8.4 2.8.4-2.7.4 3 .4-2.7.4 3.4.4-3.1.4 3 .4-3.4.4 3.3.4-2.8.4 3.2.4-3.2.4 3.3.4-2.7.4 2.9.4-3.3.4 3.3.4-3.4.4 3.1.4-3.1.4 3.3.4-3.1.4 3 .4-3.4.4 3.4.4-3.3.4 3.1.4-3.2.4 3.3.4-3.1.4 2.8.4-2.8.4 2.9.4-2.9.4 3 .4-3 .4 3 .4-2.8.4 2.9.4-2.8.4 3 .4-2.6.4 2.9.4-3.2.4 3.2.4-3.1.4 3.2.4-3.3.4 3.3.4-3.4.4 2.8.4-3.1.4 2.9.4-2.7.4 2.9.4-3.1.4 3.3.4-3.2.4 3 .4-3.6.4 3.5.4-3 .4 2.9.4-2.9.4 2.9.4-3.7.4 3.5.4-3.1.4 2.8.4-3.3.4 3.3.4-3.3.4 3 .4-3.3.4 3.2.4-3.7.4 2.8.4-4.1.4 1.6.4-5 .4 1 .4-6.1.4-1.4.4-7.3.6-4.4.2-.1.4 4.5.4 2.3.4 5.7.4-1.4.4 3.7.4-3.5.4 2.9.4-1.4.4 5.6.4-.9.4 5 .4-1.7.4 3.5.4-2.4.4 3.2.4-3 .4 3.5.4-2.9.4 3.5.4-3.2.4 3.1.4-2.7.4 3.2.4-3.2.4 3.2.4-2.8.4 3 .4-3 .4 3.3.4-3.1.4 3.5.4-2.8.4 3.3.4-3 .4 2.9.4-3.2.4 3.2.4-2.8.4 3 .4-2.8.4 2.7.4-2.7.4 3 .4-3.2.4 3.1.4-3.4.4 3.2.4-2.7.4 2.6.4-3 .4 2.5.4-2.8.4 3.3.4-3.5.4 3.2.4-2.5.4 2.8.4-3.2.4 2.8.4-3.6.4 3.3.4-2.9.4 3.2.4-2.9.4 2.4.4-2.4.4 3.1.4-2.7.4 2.6.4-2.9.4 3.2.4-3.2.4 2.9.4-2.7.4 3.4.4-2.7.4 2.5.4-3 .4 3.4.4-3.5.4 3.5.4-3 .4 2.9.4-3.8.4 3.1.4-3.2.4 2.5.4-3.3.4 2.8.4-3.7.4 2.5.4-3.5.4 3.1.4-3.5.4 2.2.4-3.1.4 2.8.4-3.4.4 2.5.4-3.4.4 3 .4-3.2.4 2.8.4-2.9.4 2.7.4-3.1.4 2.7.4-3 .4 2.7.4-3 .4 2.9.4-3.2.4 3.1.4-2.5.4 2.8.4-2.5.4 3 .4-2.3.4 3 .4-3.1.4 3.2.4-2.7.4 3.8.4-3.1.4 3.6.4-2.6.4 3.3.4-3.2.4 3.4.4-2.5.4 3.1.4-2.7.4 3.2.4-2.8.4 3.4.4-2.9.4 3 .4-2.5.4 2.9.4-2.7.4 3.5.4-3.1.4 3 .4-2.7.4 3.4.4-3.3.4 3.5.4-3.1.4 3.3.4-3.1.4 2.5.4-2.9.4 3.4.4-3.1.4 2.6.4-2.6.4 2.9.4-3.6.4 3.7.4-3.3.4 2.9.4-3.2.4 3.4.4-2.9.4 2.6.4-2.5.4 3.3.4-3.2.4 3.2.4-3.4.4 3.2.4-3.2.4 3.2.4-3 .4 3.2.4-3.1.4 3.4.4-3 .4 3 .4-3.5.4 3.4.4-3.6.4 3.1.4-3.4.4 3.1.4-2.7.4 2.9.4-2.8.4 3.1.4-3.6.4 3.4.4-3.4.4 2.8.4-2.9.4 2.8.4-2.8.4 2.9.4-3.2.4 3.2.4-2.8.4 2.7.4-2.9.4 3 .4-2.6.4 2.8.4-3 .4 3 .4-2.8.4 3.4.4-3.1.4 3.2.4-3.3.4 3.1.4-3.1.4 3.1.4-3 .4 2.8.4-2.9.4 2.7.4-3.5.4 3.6.4-2.9.4 2.8.4-2.4.4 2.9.4-3 .4 3.2.4-3.1.4 2.6.4-2.9.4 3.3.4-3.3.4 2.9.4-3.2.4 3 .4-2.7.4 3.1.4-3.7.4 2.8.4-3.3.4 3.1.4-3.2.4 2.7.4-2.9.4 2.6.4-3 .4 3.1.4-2.9.4 3 .4-2.8.4 2.9.4-3.3.4 3.1.4-3.2.4 3.5.4-2.8.4 2.7.4-3.4.4 3.4.4-3.2.4 3.2.4-3 .4 3.3.4-3.2.4 3.2.4-2.4.4 2.9.4-3.3.4 3.6.4-3.2.4 3.5.4-3.1.4 3.4.4-3.1.4 3.3.4-2.7.4 3 .4-3.6.4 3.1.4-3.7.4 3.3.4-3.3.4 3.1.4-3.3.4 2.8.4-3.1.4 2.9.4-3.2.4 3.4.4-3.4.4 3.4.4-3.4.4 2.9.4-3.1.4 3.2.4-2.6.4 3 .4-3.2.4 3.4.4-3.1.4 3.6.4-3.3.4 3.1.4-2.8.4 2.9.4-3.8.4 3 .4-3 .4 3.2.4-3.4.4 3.1.4-2.7.4 3.4.4-3.2.4 3.4.4-3.5.4 3.2.4-3.4.4 3.4.4-2.8.4 3.1.4-2.7.4 3 .4-3.3.4 3 .4-2.7.4 3 .4-3.4.4 2.9.4-3.3.4 3.1.4-3 .4 3.2.4-3.3.4 3.2.4-3.6.4 3.1.4-3 .4 3.4.4-3.2.4 3.3.4-3.5.4 3.5.4-3.2.4 3.4.4-3.2.4 2.7.4-3.1.4 2.9.4-2.9.4 2.8.4-3.2.4 3.2.4-3.7.4 3 .4-4 .4.9.4-4.5.4-1.6.4-2.8.4 2.6.4 1.2.4 4.5.4-2.2.4 2.1.4-3.8.4-.9.4-2.3.4 2.3.4.7.4 3.4.4-2.6.4 1.9.4-4.6.4-1.9.4-3 .4 2.8.4 1.7.4 4.4.4-2.1.4 2.3.4-4.7.4-2.2.4-2.9.4 3 .4 2.2.4 4.6.4-1.7.4 2.6.4-3.5.4-1.2.4-2.5.4 2.8.4 1.7.4 4.6.4-1.9.4 4.3.4-2.6.4 3.2.4-2.6.4 2.9.4-2.9.4 2.8.4-3 .4 3.1.4-3 .4 2.9.4-3 .4 3.2.4-3.1.4 3.2.4-3.1.4 3 .4-3.3.4 3.1.4-2.6.4 3 .4-3 .4 3.4.4-3.4.4 3 .4-3.4.4 3.4.4-2.8.4 2.9.4-3.2.4 3 .4-3.1.4 2.8.4-3.2.4 3.2.4-3.3.4 3.2.4-3.1.4 3 .4-2.5.4 3.1.4-3.3.4 3.4.4-3 .4 2.7.4-3.2.4 3 .4-3.1.4 3.2.4-3 .4 3.2.4-3 .4 2.9.4-3.1.4 3.2.4-3.5.4 2.4.4-2.8.4 2.9.4-3.2.4 3.3.4-3.2.4 3.6.4-2.8.4 2.9.4-3.2.4 3.7.4-3.4.4 3.5.4-3.5.4 3.2.4-3.2.4 3.2.4-3.2.4 3.3.4-3.6.4 3.4.4-3.4.4 2.7.4-3.2.4 3.3.4-3.1.4 2.8.4-2.7.4 2.9.4-3.1.4 3.2.4-2.6.4 3.2.4-3.2.4 3.3.4-3.4.4 3.1.4-2.9.4 3.4.4-3.4.4 3 .4-3 .4 3 .4-3 .4 3.2.4-3 .4 2.8.4-2.5.4 3.1.4-2.9.4 3.1.4-3.3.4 3.3.4-2.8.4 2.6.4-2.8.4 3.3.4-3.2.4 3.1.4-3.6.4 3.2.4-3.2.4 2.5.4-3.2.4 3.2.4-3.3.4 3.2.4-3.1.4 2.9.4-2.9.4 3.3.4-3.2.4 3 .4-2.9.4 3.2.4-3 .4 3.5.4-3.1.4 3.1.4-3 .4 3.1.4-3.2.4 3.1.4-3.2.4 3.1.4-3.3.4 2.7.4-3 .4 2.7.4-3 .4 2.7.4-3.1.4 3.4.4-3.1.4 2.8.4-2.6.4 2.8.4-2.6.4 3 .4-3.2.4 3.4.4-3 .4 3.6.4-3 .4 3 .4-2.8.4 3.2.4-3 .4 2.8.4-3.1.4 2.8.4-2.8.4 2.7.4-3.3.4 3.3.4-2.9.4 2.7.4-3.3.4 3.3.4-3.1.4 3.1.4-3.2.4 3.3.4-3.2.4 3.3.4-3.2.4 3 .4-3.1.4 2.8.4-3.2.4 2.8.4-3.2.4 3.1.4-3.3.4 3.5.4-3.5.4 3 .4-3.1.4 3 .4-3.1.4 3.4.4-3.1.4 3.1.4-2.8.4 3.3.4-2.9.4 3.3.4-3.2.4 3.4.4-3.4.4 2.7.4-3.5.4 3.3.4-3.6.4 3.3.4-3.6.4 2.5.4-3.1.4 2.8.4-3.6.4 2.6.4-3.7.4 2.1.4-3.6.4 2.8.4-3.6.4 3.2.4-3.1.4 3.1.4-3.2.4 2.8.4-3.7.4 3.1.4-2.8.4 3.2.4-3 .4 3.3.4-2.3.4 3.4.4-2.5.4 3.4.4-2.6.4 3.1.4-2.7.4 3.3.4-2.5.4 3.2.4-2.5.4 3.8.4-2.7.4 3.5.4-3.3.4 3.4.4-3.3.4 3 .4-2.7.4 3 .4-2.9.4 3.1.4-3.2.4 3.2.4-3 .4 3 .4-2.9.4 2.6.4-3.2.4 3.1.4-3.4.4 3.3.4-3 .4 3 .4-2.8.4 3 .4-2.9.4 3.1.4-3.2.4 3.5.4-3.2.4 3.2.4-2.9.4 3 .4-3 .4 3 .4-2.7.4 3.1.4-3.1.4 3.5.4-3.3.4 3.6.4-3.4.4 3.2.4-3.5.4 3.3.4-3.4.4 2.8.4-3 .4 3.4.4-3.3.4 3.2.4-2.8.4 2.9.4-2.7.4 2.8.4-3.1.4 2.8.4-3.5.4 3.2.4-2.6.4 3 .4-2.7.4 3.1.4-3.2.4 2.7.4-3 .4 2.9.4-3.5.4 3.4.4-3.5.4 3.3.4-3 .4 3.1.4-3.4.4 2.8.4-3.3.4 2.9.4-3.4.4 2 .4-2.9.4 2.6.4-3.5.4 2.8.4-3.6.4 2.7.4-3.3.4 2.6.4-3.3.4 3 .4-3.2.4 3.3.4-2.8.4 3.1.4-2.5.4 3.4.4-2.7.4 3.7.4-2.8.4 3.6.4-3.3.4 4 .4-3.1.4 3.7.4-2.8.4 3.2.4-3.1.4 3.2.4-3.1.4 3.3.4-3 .4 3.2.4-3 .4 2.9.4-3.1.4 3 .4-2.9.4 3.2.4-3.4.4 3.3.4-3.6.4 3.1.4-2.7.4 3 .4-3 .4 3 .4-3.4.4 3.2.4-3 .4 3.3.4-3.4.4 3.7.4-3.3.4 3.1.4-3 .4 3.1.4-3.1.4 3.3.4-3.6.4 2.9.4-3.2.4 3 .4-3.1.4 2.7.4-2.7.4 3.2.4-3 .4 2.8.4-3.1.4 3.3.4-3.5.4 3.3.4-2.8.4 3 .4-3.2.4 3 .4-2.7.4 2.9.4-3.4.4 3.1.4-2.7.4 3.3.4-3.3.4 3 .4-3 .4 3.2.4-3.2.4 3.1.4-3.4.4 3.2.4-2.8.4 3 .4-2.9.4 2.9.4-3 .4 3.5.4-3.2.4 3.1.4-3.2.4 3.4.4-2.9.4 3.4.4-3.2.4 3.1.4-2.9.4 3.3.4-3.3.4 3.5.4-3.5.4 3.6.4-3.2.4 2.9.4-3.3.4 3.1.4-3.4.4 2.8.4-3.1.4 2.7.4-2.9.4 3.5.4-3.3.4 3.2.4-3.2.4 3.4.4-3 .4 3.3.4-3.3.4 2.9.4-3 .4 3.2.4-2.6.4 3.2.4-3.1.4 3.4.4-3.5.4 2.6.4-2.7.4 3 .4-3.2.4 3 .4-3.2.4 3.5.4-3.3.4 3.2.4-3.2.4 3.5.4-3.5.4 2.9.4-3.1.4 2.8.4-2.6.4 3 .4-3.2.4 2.5.4-2.7.4 2.7.4-2.8.4 2.8.4-3.2.4 2.6.4-3.1.4 3.2.4-2.8.4 3 .4-2.6.4 3.1.4-3 .4 2.6.4-3 .4 3.2.4-2.8.4 2.8.4-3.5.4 3.4.4-2.8.4 3.1.4-3.1.4 3 .4-3.3.4 2.8.4-2.9.4 3.2.4-3.3.4 3.1.4-2.9.4 2.9.4-3.2.4 3.1.4-3 .4 3.1.4-3.9.4 3.3.4-3.3.4 2.4.4-3 .4 2.3.4-3.6.4 2.6.4-3.7.4 2.4.4-3.8.4 2.7.4-3.4.4 2.1.4-2.9.4 2.7.4-2.6.4 3.1.4-2.9.4 3.6.4-2.5.4 3.2.4-2.6.4 3.5.4-2.3.4 3.9.4-2.5.4 3.6.4-3 .4 3.9.4-2.7.4 3 .4-2.5.4 2.9.4-3.1.4 3.2.4-3.3.4 2.9.4-2.6.4 2.7.4-2.7.4 2.9.4-2.3.4 3.2.4-3.3.4 2.5.4-2.9.4 3.3"/>
</g>
<line x1="738.7" y1="464" x2="738.7" y2="606.6" stroke="#000" stroke-width="3" stroke-dasharray="10.5 6"/>
<rect x="1141" y="58.7" width="598" height="287.8" fill="#fff" stroke="#000" stroke-width="5.8"/>
<rect x="174.4" y="1478" width="1562.1999999999998" height="961.5" fill="none" stroke="#000" stroke-width="7"/>
<path d="M358.2 2420.0V2439.5M542.0 2420.0V2439.5M725.8 2420.0V2439.5M909.6 2420.0V2439.5M1093.3 2420.0V2439.5M1277.1 2420.0V2439.5M1460.9 2420.0V2439.5M1644.7 2420.0V2439.5" stroke="#000" stroke-width="6.6" fill="none"/>
<g clip-path="url(#cb)" fill="none" stroke-width="7.1" stroke-linejoin="round">
<path stroke="#C55A11" d="M176.5,2334.4l.4-8.9.4 8.9.4-11 .4 8.9.4-7.7.4 8.8.4-8.8.4 9.5.4-9.5.4 10.9.4-10.7.4 10.9.4-9 .4 9 .4-10.1.4 9.2.4-9.1.4 10.4.4-8.5.4 10.2.4-9.6.4 8.9.4-10 .4 9.3.4-10 .4 8 .4-9.6.4 9.6.4-9.2.4 8.8.4-7.9.4 8.1.4-9.3.4 8.7.4-9.6.4 7.3.4-8.6.4 8.5.4-9.9.4 9.4.4-10.6.4 9 .4-9.8.4 10.2.4-10.7.4 9.7.4-10.1.4 7.8.4-10.1.4 10 .4-9 .4 10.5.4-7.5.4 9 .4-7.7.4 10.5.4-7.6.4 9.9.4-7.7.4 9.2.4-8.1.4 8.8.4-8.7.4 10.6.4-7.7.4 9.5.4-8.8.4 10.1.4-9.3.4 9.4.4-9.2.4 9.3.4-10.8.4 9.2.4-8 .4 7.7.4-9.1.4 10.6.4-9.4.4 9.7.4-9 .4 9.3.4-9.8.4 8.6.4-8.2.4 8.1.4-8.9.4 9.4.4-7.9.4 8.9.4-8.4.4 8.4.4-8.5.4 7.9.4-9.3.4 9 .4-9.5.4 8.8.4-7.6.4 8.4.4-10 .4 8.9.4-8.4.4 9.3.4-10.1.4 9.1.4-8.8.4 9.2.4-9.9.4 8.9.4-8.7.4 8.3.4-8.9.4 9.7.4-9.9.4 8.7.4-8.6.4 9.3.4-9.7.4 9.6.4-10.2.4 10.2.4-10.2.4 9.3.4-9 .4 8 .4-9.5.4 8.6.4-9 .4 8.2.4-8.5.4 7.9.4-8.5.4 8.1.4-8.9.4 9.1.4-10.4.4 9.6.4-10 .4 8.4.4-9.4.4 9.7.4-9.7.4 10.2.4-10.9.4 10.5.4-10.1.4 9.9.4-11.4.4 9.1.4-10.4.4 9.6.4-10.3.4 10.3.4-9.8.4 8.9.4-10.2.4 9 .4-10.3.4 8.8.4-10.2.4 7.6.4-11 .4 4.6.4-13.6.4-.3.4-22.1.4-11.6.4-34.2.4-26.2.5-24.5.3 13.1.4 29.5.4 39.8.4 19.6.4 27.7.4 6.7.4 17.3.4-1 .4 11.7.4-5.8.4 10.6.4-7.6.4 8.9.4-7.9.4 9.4.4-7.3.4 8.8.4-7.9.4 8.8.4-8.8.4 9.2.4-8.6.4 8.4.4-7.3.4 7.9.4-6.9.4 8.5.4-7.6.4 8.5.4-7.9.4 7.6.4-7 .4 7.6.4-6.8.4 7.2.4-6.9.4 7.5.4-7.6.4 8 .4-7.8.4 7.6.4-6.8.4 7.1.4-6.8.4 6.9.4-7.3.4 8.1.4-7.3.4 6.5.4-6.4.4 7.5.4-7.4.4 7 .4-7.6.4 7.8.4-6.9.4 7.8.4-8.4.4 8 .4-8 .4 7.8.4-6.9.4 6.6.4-6.6.4 7.5.4-8.3.4 8.7.4-7.9.4 7.9.4-8.1.4 8.4.4-7.3.4 7.6.4-7.8.4 7.2.4-6.9.4 7.6.4-6.5.4 6.3.4-6.9.4 7.5.4-8.1.4 7.2.4-7 .4 7.1.4-8.1.4 7.9.4-8 .4 8.2.4-7.7.4 7.1.4-8.2.4 7.4.4-7.4.4 7.7.4-7.3.4 7.3.4-7.4.4 6.4.4-7.3.4 7.4.4-8 .4 7.1.4-7.5.4 7.8.4-8.6.4 8.2.4-8.4.4 7.1.4-7.7.4 7 .4-8.4.4 7.8.4-8.8.4 8.1.4-8.1.4 7.3.4-7.8.4 6.7.4-8.3.4 7.4.4-9.5.4 8 .4-10 .4 8 .4-9.4.4 9.2.4-10.1.4 8.5.4-9.4.4 7.7.4-8.5.4 7.7.4-10.2.4 8.1.4-8.9.4 6.8.4-10.3.4 7.1.4-9.4.4 6 .4-10.1.4 5.2.4-11 .4 5.1.4-11.2.4 4.4.4-12 .4 4.3.4-12.9.4 2.8.4-13.6.4 1.9.4-13.4.4 2.8.4-13.4.4 2.9.4-11.6.4 3.8.4-5 .4 1.9.4-.9.4 5.8.4-2.8.4 12.3.4-2.6.4 13 .4-.9.4 14.7.4-1.3.4 13.7.4-1.5.4 12.9.4-2.6.4 12.3.4-2.9.4 11.1.4-3.5.4 10.9.4-4.6.4 10.3.4-4.7.4 9.8.4-5.5.4 10 .4-6.5.4 9.8.4-6.4.4 9.5.4-6 .4 7.5.4-6.3.4 8.7.4-6.6.4 7.8.4-6.8.4 8.5.4-6.1.4 7.6.4-6.1.4 7.6.4-7.1.4 7.1.4-6.3.4 6.4.4-5.9.4 7.2.4-6.3.4 6.8.4-5.9.4 6.6.4-7 .4 6.9.4-6.7.4 6.1.4-6.8.4 6.5.4-7.4.4 7.2.4-6.3.4 6.6.4-6.6.4 6.4.4-5.9.4 6.8.4-6.2.4 7 .4-5.8.4 6.7.4-5.2.4 6.4.4-5.6.4 6.3.4-6 .4 7.9.4-7 .4 7.1.4-6.1.4 7.1.4-6.8.4 7.2.4-6.8.4 6.8.4-6.2.4 5.6.4-6.3.4 5.7.4-5.7.4 5.7.4-6.2.4 6.5.4-6.5.4 5.4.4-6 .4 6 .4-6 .4 6.1.4-5.3.4 6.3.4-6.7.4 5.8.4-5.9.4 6.3.4-6.8.4 6.5.4-6.3.4 5.8.4-6 .4 6.9.4-5.8.4 5.7.4-6.7.4 6.1.4-6.1.4 6.5.4-5.5.4 5.6.4-5.3.4 5.4.4-6.2.4 6.2.4-5.2.4 5.8.4-5.6.4 5.6.4-5.2.4 6.1.4-5 .4 6 .4-6.2.4 5.7.4-6.3.4 6.5.4-5.8.4 5.5.4-5.1.4 5.1.4-6.1.4 6.2.4-5.5.4 6 .4-6 .4 6 .4-5.5.4 5.7.4-5.7.4 5.9.4-5.6.4 5.9.4-5.4.4 5.4.4-5.4.4 6.2.4-5.2.4 5.1.4-5.1.4 5.2.4-5.4.4 5.3.4-5.2.4 5.2.4-5.4.4 5.3.4-5.4.4 6.2.4-5.7.4 6 .4-5.6.4 5.3.4-5.9.4 6.1.4-5.4.4 5.3.4-5.6.4 5.1.4-5.2.4 5.4.4-5.1.4 5.2.4-5.5.4 5.2.4-5.3.4 4.9.4-5.4.4 6.1.4-5.6.4 5.1.4-5.1.4 5.6.4-5.7.4 6.1.4-5.8.4 5.9.4-5.8.4 5.4.4-4.8.4 5 .4-5.5.4 5.8.4-5.6.4 5.1.4-4.5.4 5.5.4-6 .4 6.4.4-5.8.4 5.9.4-6 .4 5.8.4-5.4.4 5.3.4-5.5.4 5.7.4-5.3.4 5.9.4-6.1.4 5.3.4-5.6.4 6.2.4-6.1.4 5.4.4-5.4.4 5.3.4-5.9.4 5.8.4-5.6.4 5.8.4-5.6.4 5.5.4-5.6.4 4.3.4-5.6.4 5 .4-5.8.4 6.1.4-5.9.4 4.7.4-5.9.4 5.2.4-6 .4 4.7.4-6.8.4 4.7.4-8.6.4 2.1.4-9.4.4.4.4-11.6.4-2.8.4-15 .4-7.2.4-11.5.3-3.1.5-.6.4 10.3.4 4.9.4 15.6.4 4.6.4 13.3.4.6.4 10.8.4-1.6.4 8.7.4-3 .4 6.6.4-4.6.4 6.2.4-4.7.4 6.1.4-4.9.4 5.4.4-5.3.4 5.4.4-4.8.4 5.4.4-5.3.4 5.3.4-5 .4 5 .4-5 .4 5.6.4-5.9.4 5.7.4-5.6.4 5 .4-4.5.4 4.5.4-4.9.4 5.9.4-5.4.4 5.8.4-5.5.4 5.6.4-5.1.4 5.1.4-4.9.4 4.8.4-4.7.4 5.5.4-5.5.4 5.5.4-5.5.4 5.2.4-5.1.4 4.8.4-4.9.4 4.8.4-5.3.4 5.9.4-5.9.4 5.3.4-5 .4 5.6.4-5.6.4 5.7.4-4.9.4 5.5.4-4.9.4 5.2.4-5.2.4 6 .4-5.8.4 5.3.4-4.8.4 4.9.4-5.7.4 5.8.4-5.5.4 4.7.4-5.4.4 4.3.4-7 .4 4.5.4-7.8.4 3.3.4-7 .4 3 .4-8.9.4 2.5.4-10.4.4 1.8.4-11 .4.8.4-10.3.4-.3.4-7.2.4-.7.4-1.6.4 5 .4-2.1.4 10 .4-3.1.4 9.7.4-4.5.4 8.4.4-6.1.4 8.2.4-6.3.4 8.1.4-8.2.4 7.6.4-7 .4 6.9.4-6.4.4 7.8.4-8.2.4 8 .4-8.5.4 8.1.4-7.4.4 8.1.4-8.4.4 7.9.4-7.5.4 6.8.4-6.4.4 6.4.4-7.3.4 7.1.4-8.7.4 6.3.4-8 .4 7 .4-10 .4 4.6.4-11.9.4 2.6.4-15.6.4-2.7.4-21.9.4-9.5.4-28.5.4-19.4.6-28.2.2-.6.4 4.1.4 20.9.4 15.1.4 30.3.4 12.1.4 23 .4 5.1.4 16 .4.1.4 11.4.4-3.6.4 10 .4-6 .4 8.9.4-5.6.4 8 .4-6.5.4 7.2.4-6.4.4 6.8.4-6.2.4 7.4.4-6.3.4 6.8.4-6 .4 7.1.4-7 .4 7.3.4-7.3.4 8 .4-7.1.4 6.9.4-6.6.4 7.5.4-7.3.4 7.3.4-6.9.4 6.3.4-6.6.4 7.4.4-7 .4 7.4.4-7.1.4 6.7.4-5.8.4 6.3.4-6.1.4 6.9.4-6.4.4 5.5.4-6.3.4 7.2.4-6.5.4 7.1.4-6.8.4 7 .4-6.2.4 6.1.4-7 .4 6.6.4-6.3.4 6.5.4-5.2.4 5.9.4-5.7.4 6.2.4-5.7.4 6.5.4-7.1.4 6.7.4-6.4.4 7.1.4-7 .4 7.3.4-6.4.4 6.6.4-6.2.4 5.9.4-5.8.4 5.8.4-5.6.4 7.2.4-6 .4 6.7.4-6.5.4 6.5.4-7.3.4 6.3.4-6.4.4 6.6.4-7 .4 6.5.4-6.6.4 6.9.4-7.9.4 6.4.4-7.4.4 4.8.4-6.6.4 6 .4-7.3.4 6.3.4-6.5.4 6.8.4-5.5.4 7.5.4-6.3.4 6.7.4-6 .4 7.8.4-6.3.4 7.2.4-6.1.4 7.6.4-6.7.4 7.1.4-5.8.4 6.3.4-6 .4 6.5.4-7 .4 6.2.4-6.5.4 6 .4-4.9.4 6.5.4-6.9.4 6.4.4-6.2.4 5.2.4-6.7.4 6.7.4-6.6.4 6.1.4-6.1.4 6.8.4-6.7.4 6.6.4-6.7.4 7.4.4-6.4.4 5.4.4-6 .4 6.7.4-6.2.4 6 .4-6.5.4 5.3.4-6.1.4 5.1.4-6.8.4 7.1.4-6.8.4 5.8.4-6.6.4 5.1.4-6.7.4 6.1.4-7 .4 5.4.4-6.6.4 5.4.4-7 .4 6.3.4-6.9.4 5.4.4-8 .4 4.3.4-7.1.4 4.5.4-8.8.4 4.4.4-9.3.4 4 .4-9.8.4 3.5.4-9.7.4 2.6.4-10.9.4 3.7.4-9.7.4 2.7.4-5.4.6 1.1.2-1 .4 3.6.4-2.1.4 7.9.4-3.2.4 10.1.4-3.1.4 9.9.4-3.4.4 9.6.4-3.6.4 9.8.4-3.5.4 8.5.4-3.9.4 7.8.4-4.9.4 7.4.4-5.3.4 7.3.4-5.6.4 8.5.4-6.4.4 7.1.4-7.1.4 6.9.4-7.6.4 5.6.4-6.9.4 3.9.4-7.6.4 3.3.4-8.5.4 1.3.4-6.9.5-1.3.3-1.5.4 3.9.4-1.4.4 9.1.4-2.4.4 9 .4-2.8.4 9.1.4-3.9.4 8.3.4-4.5.4 7.1.4-5.8.4 7.8.4-6.1.4 6.6.4-6.7.4 6.5.4-6.5.4 6.1.4-6.5.4 6.6.4-7.3.4 5.7.4-7 .4 6 .4-7.4.4 5.3.4-7.5.4 5.4.4-7.1.4 4.5.4-8.6.4 3.5.4-9 .4 2.1.4-11.1.4-.7.4-13.7.4-4.7.4-18.4.4-9.7.4-24.1.4-15 .4-30.3.4-20.5.4-26.8.6-14 .2.9.4 16.1.4 19.1.4 30.9.4 17.4.4 27.3.4 12.3.4 22 .4 6.1.4 16.9.4 1.7.4 12.8.4-.3.4 9 .4-2.8.4 8.3.4-4.8.4 7.1.4-4.4.4 6.1.4-6.4.4 5.9.4-7.1.4 5.1.4-7.8.4 2.3.4-10.3.4-.5.4-14.6.4-6.2.4-22.2.4-13.8.4-32 .4-25.6.4-41.8.4-32.5.5-31.6.3-1.7.4 8.9.4 26.4.4 22.8.4 38.6.4 25.7.4 34.5.4 16.9.4 23.7.4 8.1.4 16.8.4 1.5.4 11.9.4-.9.4 8.3.4-3.6.4 7.4.4-4 .4 7.2.4-5.6.4 7.1.4-4.1.4 6 .4-5.2.4 6 .4-4.9.4 6.2.4-5.4.4 6.6.4-4.9.4 5.1.4-5.1.4 6.4.4-5.9.4 6.1.4-5.4.4 5.3.4-5 .4 5.8.4-5.9.4 5.1.4-4.9.4 5.5.4-5.3.4 5 .4-5.3.4 5 .4-5 .4 5.8.4-5.4.4 6 .4-5.7.4 5.7.4-5.6.4 5.1.4-5.3.4 5.8.4-5.9.4 5.7.4-5.5.4 5.7.4-5.4.4 5.3.4-5.7.4 5.7.4-6.1.4 5.6.4-5 .4 5.2.4-5.2.4 5.5.4-5.5.4 5.4.4-4.5.4 4.5.4-4.8.4 5 .4-5.3.4 5.2.4-5.3.4 6 .4-5.2.4 5.5.4-5.2.4 5.3.4-5.6.4 4.7.4-5.2.4 5 .4-5.1.4 5.2.4-5.4.4 5.6.4-5.9.4 5.7.4-5.4.4 5 .4-5.6.4 4.6.4-5.4.4 5.1.4-5.5.4 4.3.4-5.7.4 5.4.4-5.6.4 4.5.4-5.2.4 5.1.4-5.4.4 4.9.4-5.2.4 5.1.4-4.8.4 5.1.4-4.5.4 5.2.4-4.8.4 6.1.4-4.6.4 5.5.4-5.4.4 5.2.4-4.7.4 6 .4-5.3.4 5.1.4-4.8.4 5.4.4-5 .4 5.8.4-5.2.4 5.3.4-4.9.4 5.2.4-4.9.4 5.6.4-5 .4 4.7.4-4.6.4 5 .4-5.3.4 4.8.4-4.6.4 5.3.4-5.9.4 5.7.4-5.2.4 5 .4-5.1.4 5.2.4-5.4.4 5.4.4-4.6.4 4.3.4-4.5.4 5.1.4-5.3.4 5.2.4-4.3.4 4.7.4-4.8.4 5.3.4-4.8.4 4.8.4-5.6.4 4.7.4-4.6.4 5.2.4-5.1.4 5 .4-5 .4 5.6.4-5.1.4 4.7.4-5.2.4 4.9.4-5.3.4 5.4.4-5.4.4 5.3.4-5.3.4 5.2.4-4.9.4 5 .4-4.6.4 5.2.4-5.3.4 4.8.4-4.7.4 5.2.4-4.4.4 4.6.4-4.5.4 4.8.4-4.8.4 5.4.4-4.7.4 4.5.4-4.6.4 4.8.4-5.3.4 5.1.4-4.6.4 4.5.4-5.1.4 5.4.4-4.8.4 4.8.4-4.8.4 4.9.4-5 .4 5.2.4-5.4.4 5 .4-4.8.4 5.2.4-5 .4 4.6.4-4.6.4 4.3.4-5.4.4 4.7.4-4.6.4 4.5.4-4.6.4 4.7.4-4 .4 4.9.4-5.1.4 5.4.4-4.7.4 4.1.4-4.5.4 5.8.4-5.3.4 5.6.4-4.7.4 4.9.4-5 .4 5 .4-5.1.4 4.6.4-4.8.4 4.5.4-5.5.4 4.7.4-5.9.4 4.7.4-5.2.4 3.8.4-5.7.4 4.8.4-5.3.4 3.5.4-4.9.4 3.8.4-4.8.4 4.4.4-5 .4 4.7.4-4.5.4 4.6.4-4.8.4 4.6.4-4.1.4 5.3.4-4.5.4 5.3.4-3.9.4 5.4.4-4.3.4 5.9.4-4.5.4 5.3.4-4.9.4 5.5.4-5.1.4 5.1.4-4.2.4 4.7.4-4.9.4 4.7.4-5.2.4 5 .4-4.7.4 5.1.4-4.9.4 4.6.4-4.4.4 4.8.4-5.8.4 5.1.4-4.9.4 4.8.4-4.3.4 4.5.4-4.8.4 4.6.4-4.7.4 4.3.4-5.5.4 5.4.4-5.1.4 4 .4-4.8.4 4.6.4-4.1.4 4.6.4-4.8.4 4.4.4-4.9.4 4.1.4-4.7.4 4.2.4-5.5.4 5.1.4-4.8.4 4.3.4-5.5.4 4.5.4-5.2.4 4.3.4-5.4.4 3.6.4-6.4.4 4 .4-5.9.4 4.1.4-6.3.4 3.8.4-7.1.4 3.4.4-6.7.4 1.9.4-7 .4 2 .4-7.7.4 1.2.4-8.1.4 2.2.4-5.4.6.3.2-.8.4 2.1.4-1.4.4 6.1.4-2.3.4 6.8.4-2.4.4 7.4.4-2.1.4 6.2.4-3 .4 7.1.4-3.6.4 6.4.4-4.1.4 5.5.4-4.5.4 5.3.4-4 .4 4.9.4-4.3.4 5.3.4-4.4.4 4.5.4-4.8.4 5.5.4-5.1.4 5.1.4-5.6.4 5.5.4-5.5.4 4.7.4-5.1.4 4.9.4-6 .4 4.3.4-5.3.4 3.8.4-6.5.4 3 .4-8.2.4 2.6.4-7.5.4-.3.6-4.2.2.6.4-1.2.4 4.7.4-2.1.4 7.3.4-2.6.4 8.3.4-2.2.4 6.9.4-3.6.4 6.7.4-3.5.4 5.3.4-5.2.4 3.8.4-6 .4 3.3.4-9.1.4 1.1.4-11.4.4-2.4.4-14.7.4-6.2.4-15.3.6-10.1.2-1.5.4 4.6.4 2.4.4 11.2.4 3.2.4 14.5.4 4.9.4 13.3.4 2.6.4 11 .4-.3.4 8.5.4-3.1.4 7 .4-2.9.4 6 .4-4 .4 5 .4-3.9.4 5.2.4-4.8.4 5.1.4-4.7.4 4.7.4-4.3.4 4.4.4-4.4.4 5 .4-5.4.4 5.9.4-5.5.4 4.3.4-5.3.4 4.6.4-5 .4 4.8.4-5.7.4 5.3.4-6.2.4 4.4.4-5.8.4 5.2.4-6.7.4 5.1.4-6.6.4 4.8.4-5.3.4 4.2.4-5.1.4 5.3.4-4.8.4 5 .4-5.1.4 5.2.4-5.5.4 5.8.4-4.9.4 5.4.4-4.1.4 5.2.4-3.6.4 4.6.4-4.6.4 6.2.4-5.2.4 5.4.4-5.3.4 4.4.4-5.1.4 4.3.4-5.4.4 4.6.4-5.2.4 3.8.4-6.1.4 4.5.4-6.8.4 4.5.4-7.2.4 4 .4-6.7.4 4.1.4-5.7.4 3.6.4-5.6.4 5 .4-5.9.4 5 .4-5.2.4 6.3.4-4.5.4 5.2.4-4 .4 6.2.4-3.9.4 6.2.4-3.6.4 6 .4-3.3.4 5.8.4-4.1.4 6.6.4-3.7.4 6.3.4-4.7.4 6.2.4-4.6.4 5.2.4-4.3.4 5.6.4-4.9.4 5.6.4-5 .4 5.8.4-5.1.4 5 .4-5.2.4 5.3.4-5.2.4 4.8.4-6.1.4 4.8.4-5.7.4 4.9.4-6.5.4 3 .4-7.2.4 1.6.4-9.5.4-.9.4-11.1.4-3.8.4-12.2.4-5.4.3-3.9.5 2 .4 1.2.4 8.3.4.2.4 9.9.4 1.5.4 11.4.4.5.4 9.1.4-1.1.4 7.8.4-2.9.4 6.4.4-4.1.4 6.1.4-4 .4 5.2.4-4.7.4 4.6.4-4.6.4 4.5.4-5 .4 4.7.4-5.8.4 4.9.4-5.3.4 3.9.4-6.3.4 4.1.4-6.5.4 2.8.4-8.1.4.9.4-8.2.4-.3.4-6.5.5-1.5.3-1.2.4 2.7.4-1.7.4 6.7.4-1.9.4 8.1.4-1.2.4 8.7.4-1.7.4 7 .4-2.4.4 6.8.4-3.3.4 5.6.4-4.2.4 5.9.4-4 .4 4.9.4-4.4.4 5.7.4-5.2.4 5.2.4-5.2.4 5.3.4-5.6.4 4.6.4-4.6.4 5.2.4-5.3.4 5.6.4-5.1.4 5 .4-4.6.4 5.2.4-5 .4 4.6.4-5.1.4 4.8.4-4.8.4 5.6.4-4.5.4 4.1.4-4.2.4 4.6.4-5 .4 5.4.4-5.1.4 4.5.4-5.2.4 4.9.4-4.6.4 5.4.4-5 .4 4.9.4-4.2.4 4.1.4-4.3.4 4.3.4-4.6.4 3.7.4-4.6.4 4 .4-5.2.4 3.4.4-5.7.4 2.9.4-4.4.6.5.2-1 .4 2 .4-2.3.4 5 .4-4 .4 5.6.4-3.5.4 6.4.4-3.7.4 5.4.4-4.5.4 5.3.4-4.6.4 4.4.4-4.8.4 4.4.4-5.1.4 4.6.4-5.2.4 4.3.4-5.8.4 3.7.4-6.6.4 2.4.4-7.9.4.6.4-10.2.4-1.7.4-12.4.4-5.4.4-11.4.5-5.7.3-1.1.4 5.2.4 1.8.4 8.8.4.1.4 9.8.4 2.8.4 10.9.4 1 .4 9.5.4-1.3.4 8 .4-3.1.4 6.7.4-4 .4 5.7.4-4.2.4 5.5.4-4.1.4 4.5.4-4.1.4 4.4.4-3.9.4 4.9.4-3.7.4 4.4.4-4.3.4 4.7.4-4.6.4 5.5.4-4.6.4 4.9.4-4.4.4 4.7.4-4.8.4 4.8.4-3.9.4 4.1.4-4.2.4 4 .4-4.9.4 4.6.4-4 .4 4.8.4-4.6.4 4.1.4-3.9.4 4 .4-4.2.4 4.8.4-4.3.4 4.5.4-4.4.4 4.1.4-4.3.4 4.5.4-4.3.4 4.4.4-5 .4 4 .4-4.4.4 4.9.4-4.3.4 4 .4-4.6.4 4.3.4-4.8.4 4.8.4-4.8.4 4.7.4-4.6.4 4.5.4-4.6.4 4.6.4-4.4.4 4.1.4-4.1.4 4.5.4-4.4.4 4.2.4-4.2.4 4.5.4-5.2.4 5 .4-4.9.4 4.6.4-4.5.4 4.3.4-4.4.4 3.9.4-4.1.4 4.5.4-5.4.4 4.4.4-4.8.4 4.5.4-5.4.4 4.1.4-4.5.4 4.3.4-4.7.4 4.2.4-4.8.4 4.2.4-5.5.4 4.5.4-5 .4 4.6.4-4.8.4 3.8.4-4.4.4 3.4.4-5.1.4 4.7.4-4.9.4 3.8.4-5.2.4 4 .4-5.8.4 3.8.4-5.5.4 3.4.4-6.3.4 2.2.4-6.4.4 2.3.4-6.8.4.7.4-8.4.4.4.4-10.6.4-1.7.4-11.8.4-3.7.4-13.5.4-5.9.4-14.1.4-5.7.6-10.2.2-.4.4-1.5.4 5.3.4.7.4 9.1.4 1.8.4 11.6.4 2.3.4 11.9.4 2.5.4 10.6.4-.4.4 8.3.4-1.4.4 7.7.4-2.4.4 6.3.4-3.5.4 6.3.4-2.4.4 5.7.4-3.1.4 6.5.4-2.3.4 6.9.4-2.5.4 7.1.4-2.4.4 6.8.4-1.9.4 7.1.4-3.5.4 6.5.4-3.1.4 5.7.4-2.9.4 5.5.4-4.3.4 5.9.4-3.9.4 4.6.4-3.8.4 4.8.4-4.1.4 4.8.4-3.8.4 4.3.4-4.3.4 4.3.4-4.3.4 4.7.4-4.9.4 5.3.4-4.9.4 5.1.4-4.7.4 4.2.4-4.5.4 4.1.4-5 .4 4.5.4-4.6.4 4.6.4-4.6.4 4.3.4-5 .4 4.7.4-5.7.4 4.1.4-4.8.4 3.6.4-5.8.4 3.8.4-5.7.4 2.9.4-5.3.4 2 .4-4.6.6 0 .2-.8.4 1.6.4-2.2.4 4.2.4-3.1.4 5.4.4-3.5.4 6 .4-3.2.4 5.4.4-3.3.4 5.4.4-3.6.4 4.6.4-3.2.4 4.3.4-3.4.4 4.8.4-4.5.4 4.6.4-4.2.4 5.4.4-5.2.4 5.2.4-4.7.4 4.5.4-4.7.4 4.4.4-4.4.4 5.1.4-5.1.4 4.5.4-4.2.4 4.6.4-4.7.4 4.6.4-4.8.4 4.3.4-4.2.4 4.3.4-5.2.4 4.3.4-4.2.4 4.6.4-4.7.4 5 .4-4.6.4 4.7.4-4.9.4 4.6.4-4.4.4 4.3.4-4.2.4 4.5.4-4.1.4 4.6.4-4.1.4 4.2.4-4.4.4 4.4.4-4.3.4 4.1.4-4.6.4 4.6.4-4.3.4 5.4.4-5 .4 5 .4-4.7.4 4.5.4-4.9.4 4.9.4-4.8.4 5.1.4-4.4.4 4.1.4-4.5.4 4.7.4-4.1.4 4.1.4-4.9.4 4.5.4-4.7.4 3.9.4-3.8.4 4.2.4-5.1.4 4.6.4-3.9.4 3.7.4-4 .4 4.1.4-4.4.4 4.4.4-4.2.4 4.6.4-4.5.4 4.7.4-4.4.4 3.9.4-4.3.4 4.1.4-4.6.4 4.7.4-4.4.4 4.2.4-4.7.4 4.1.4-4.8.4 4.6.4-4.8.4 4.7.4-4.5.4 3.7.4-4.6.4 4.4.4-4.2.4 4.4.4-4.8.4 4.1.4-5.4.4 3.8.4-5.7.4 3.1.4-6.5.4 2.2.4-8.9.4 0 .4-11.5.4-3.8.4-15.8.4-8.7.4-19.4.4-12.9.6-16.3.2.3.4 3.9.4 11.8.4 4.3.4 11.1.4.9.4 12.4.4 5.2.4 14.9.4 5 .4 12.1.4 2 .4 9.7.4-1 .4 7.4.4-2 .4 6 .4-3.2.4 4.9.4-3.3.4 5 .4-3.9.4 4.2.4-3.9.4 4.6.4-4 .4 4.4.4-4.4.4 4.8.4-4.6.4 4.6.4-4.4.4 4.9.4-4.2.4 4.5.4-4.9.4 4.8.4-4.8.4 4.8.4-4.5.4 4.3.4-4.7.4 4.4.4-4.4.4 3.8.4-5.2.4 4.1.4-4.9.4 3.8.4-5.3.4 4.1.4-4.5.4 4.6.4-4.7.4 5.1.4-3.7.4 5.3.4-4.6.4 5.5.4-4.8.4 5.4.4-4.2.4 4.5.4-4 .4 5 .4-5 .4 4.7.4-4.1.4 4.8.4-4.7.4 4.8.4-4.6.4 4.3.4-4.4.4 4.9.4-4.4.4 4.4.4-4.7.4 4.4.4-4 .4 4.7.4-4.5.4 4.4.4-4.4.4 4.5.4-4 .4 4.1.4-3.9.4 4.4.4-4.6.4 3.9.4-4 .4 4.6.4-4.3.4 3.8.4-4.1.4 4 .4-4.5.4 5 .4-5.1.4 4.6.4-4.7.4 4.2.4-4.4.4 4.2.4-3.9.4 4.2.4-4.8.4 4.7.4-4.2.4 4.9.4-5.1.4 5.3.4-4.6.4 4.3.4-4.2.4 4.5.4-5.1.4 4.4.4-3.7.4 4 .4-4.5.4 4.6.4-4.8.4 4.8.4-4.7.4 4.9.4-5.1.4 5.2.4-5.3.4 4.5.4-4.3.4 3.9.4-4.2.4 4.5.4-5.3.4 4.3.4-4.9.4 5 .4-4.8.4 4.8.4-5.2.4 4.5.4-4.5.4 3.8.4-3.8.4 4.4.4-4.5.4 4.1.4-4.2.4 4.8.4-5.2.4 4.9.4-4.4.4 4.4.4-5.1.4 4.3.4-4.1.4 4.5.4-4.8.4 3.9.4-4.1.4 4.2.4-4.6.4 4.2.4-4.6.4 4.3.4-4.8.4 4.1.4-4.7.4 4.1.4-5 .4 4 .4-4.8.4 4.4.4-4.4.4 4 .4-4.7.4 4.4.4-5.1.4 4.4.4-4.1.4 3.7.4-4.3.4 3.8.4-4.4.4 4.3.4-4.5.4 3.9.4-5 .4 4.6.4-5.3.4 3.9.4-4.4.4 4.3.4-5.1.4 4.1.4-4.3.4 4.3.4-5.1.4 4.5.4-5 .4 4.7.4-5.3.4 3.9.4-4.9.4 3.5.4-5 .4 2.9.4-6.1.4 2.8.4-6.8.4 2.4.4-7.3.4 1.5.4-6.3.4 0 .4-2.3.4.6.4-2.1.4 4.3.4-3.4.4 5.8.4-3.5.4 5.2.4-3.1.4 6.4.4-3.2.4 5.6.4-3.3.4 5.9.4-3.9.4 5.2.4-4.5.4 5 .4-4 .4 4.2.4-3.8.4 5 .4-4.1.4 5.1.4-4.3.4 5.5.4-4 .4 5.6.4-4.1.4 5.1.4-3.2.4 5.6.4-3.3.4 5.3.4-3.2.4 5.3.4-4 .4 5.6.4-4.4.4 5.5.4-4.2.4 4.8.4-3.8.4 5.1.4-4.3.4 4.9.4-4.2.4 4 .4-4 .4 5.2.4-5 .4 4.9.4-5 .4 5.3.4-4.8.4 4.1.4-4.1.4 4 .4-4.7.4 5.4.4-5.3.4 5.1.4-4.1.4 4.9.4-5 .4 5 .4-4.6.4 4.9.4-5.3.4 5.1.4-4.5.4 4.7.4-4.9.4 4.1.4-4.4.4 5.3.4-5.5.4 5.1.4-4.7.4 4.5.4-5 .4 4.5.4-4.9.4 4.9.4-4.3.4 4.1.4-4.7.4 4.7.4-3.9.4 3.9.4-4.2.4 4.7.4-5 .4 4.6.4-4.5.4 4.7.4-4.5.4 4.7.4-4.2.4 4.3.4-4.2.4 4.3.4-4.3.4 4.5.4-5.5.4 5.8.4-5.3.4 4.9.4-4.6.4 5.1.4-4.8.4 4.5.4-5.3.4 5 .4-5.1.4 5.1.4-4.9.4 4.8.4-4.9.4 5.2.4-5.2.4 5.3.4-4.7.4 4.7.4-4.9.4 5.3.4-4.8.4 5 .4-5.1.4 4.6.4-4.2.4 4.3.4-4.3.4 4.2.4-4.3.4 4.3.4-4.7.4 5 .4-4.1.4 4.1.4-4.8.4 4.3.4-3.6.4 4.3.4-4.7.4 4.9.4-4.9.4 5 .4-4.8.4 4.7.4-5 .4 5 .4-5.5.4 4.8.4-4.6.4 5 .4-5.3.4 4.7.4-4.9.4 5 .4-5.2.4 4.9.4-4.7.4 5 .4-5 .4 4.8.4-4.5.4 5.1.4-5.3.4 4.7.4-4.3.4 4.3.4-4.5.4 5.5.4-4.7.4 4.5.4-5.1.4 4.8.4-4.5.4 4.3.4-4.7.4 4.5.4-4.8.4 5.1.4-4.6.4 4.3.4-4.4.4 4.5.4-4.7.4 4.3.4-5.2.4 4.7.4-4.1.4 4.4.4-3.9.4 4.6.4-4.2.4 4.4.4-4.6.4 3.9.4-5.1.4 5.1.4-5 .4 4.7.4-4.3.4 4.3.4-4.2.4 4.5.4-5.2.4 4.7.4-5 .4 4.5.4-4.4.4 4.4.4-4.8.4 3.9.4-4.3.4 4.6.4-5.4.4 4.6.4-5.2.4 4.2.4-6.4.4 3.7.4-6.7.4 2 .4-8 .4 0 .4-10.3.4-2.3.4-13.5.4-6.2.4-13.6.6-7.6.2-.8.4 5.8.4 3.9.4 10.6.4.3.4 6.8.4-2.4.4 6.9.4-.2.4 10.8.4.7.4 10.2.4-1.3.4 8.5.4-1.9.4 6.8.4-3.4.4 6.1.4-3.8.4 5.8.4-4.6.4 5.1.4-4.1.4 4.3.4-4.2.4 5.1.4-4.2.4 4.9.4-4.3.4 4.6.4-4.4.4 4.4.4-4.6.4 4.8.4-4 .4 4.8.4-4.6.4 4.5.4-4.3.4 4.6.4-4.4.4 4.5.4-4.7.4 5.1.4-5 .4 3.9.4-4.4.4 4.6.4-4.5.4 4.7.4-5 .4 4.6.4-4.7.4 4.4.4-4.5.4 4.7.4-4.6.4 4.7.4-4.7.4 4.1.4-4.2.4 4.7.4-4.8.4 5 .4-5.6.4 5.3.4-4.8.4 4.5.4-5 .4 4.6.4-4.8.4 4.4.4-5 .4 4.7.4-4.6.4 4.3.4-5 .4 4.5.4-4.9.4 3.9.4-4.9.4 3.9.4-5.1.4 4.4.4-5.1.4 4.4.4-5.6.4 4.1.4-4.7.4 4.2.4-5.3.4 3.5.4-5 .4 3.7.4-4.8.4 4.2.4-5 .4 3.9.4-5.3.4 4.6.4-5.2.4 4.2.4-4.5.4 4.2.4-5.1.4 4.9.4-5 .4 4.5.4-3.7.4 4.1.4-4.6.4 5.3.4-4.4.4 5 .4-4.3.4 5 .4-4.2.4 5.2.4-4.1.4 5.5.4-4.1.4 4.8.4-4.1.4 5.5.4-4.3.4 5 .4-3.5.4 5 .4-4.6.4 5.2.4-4.8.4 5.6.4-4.5.4 4.8.4-4.5.4 5.2.4-4.2.4 4.9.4-4.4.4 5.4.4-4.6.4 5.3.4-4.8.4 5.1.4-4.6.4 5.3.4-4.2.4 4.7.4-4.4.4 4.9.4-4.3.4 4.4.4-4.9.4 5 .4-4.5.4 5.3.4-4.8.4 4.6.4-4.9.4 5.3.4-5.1.4 5 .4-4.7.4 3.9.4-4.4.4 5.1.4-5.3.4 4.7.4-4.4.4 4.5.4-5.1.4 4.6.4-4.4.4 4.3.4-5.2.4 4.9.4-4.8.4 4.4.4-4.9.4 3.9.4-4.7.4 3.8.4-6 .4 3.3.4-5.4.4 3.1.4-6.1.4 1.8.4-4.5.6 0 .2-.8.4 2 .4-1.5.4 4.4.4-3.3.4 6.1.4-4.5.4 5.2.4-3.7.4 5.8.4-3.1.4 5.2.4-3 .4 5.2.4-3.7.4 4.8.4-4.1.4 5 .4-3.5.4 4.8.4-4.9.4 4.9.4-3.9.4 4.7.4-4.7.4 4.4.4-4.9.4 4.4.4-4.4.4 4.9.4-4.3.4 3.8.4-4 .4 4.2.4-4.3.4 4.5.4-4.4.4 4.5.4-4.8.4 4.9.4-5.1.4 4.9.4-4.7.4 5.2.4-4.5.4 3.9.4-4.5.4 4.9.4-4.4.4 4.7.4-4.9.4 4.3.4-4.2.4 4.7.4-4.6.4 4.4.4-5.2.4 4.4.4-4 .4 4.3.4-4.5.4 4.9.4-4.6.4 4.7.4-4.6.4 4.5.4-4.6.4 4.1.4-4.4.4 4.3.4-4.5.4 4.4.4-4.1.4 4.3.4-4.4.4 4.3.4-4.5.4 5 .4-4.3.4 4 .4-4.5.4 4.5.4-4.4.4 4.7.4-4.8.4 5.2.4-4.5.4 4 .4-4.5.4 4.3.4-4.4.4 4.8.4-4.5.4 4.6.4-4.4.4 4.3.4-4.5.4 4.5.4-4.8.4 5.1.4-5.3.4 4.9.4-5.3.4 5 .4-4.7.4 4.8.4-4.3.4 4.7.4-5 .4 5 .4-5 .4 5 .4-4.2.4 4.1.4-4.4.4 4 .4-4.1.4 4.8.4-4.2.4 4.1.4-4.1.4 4.6.4-4.9.4 4.8.4-4.9.4 4.7.4-4.7.4 4.4.4-4.3.4 4.7.4-4.2.4 3.9.4-4.1.4 4.3.4-5.1.4 4.1.4-4.5.4 4.1.4-4.5.4 4.3.4-4.5.4 4.5.4-5.1.4 5.1.4-5 .4 5.1.4-4.7.4 4.9.4-4.9.4 4.6.4-4.2.4 4.5.4-4.6.4 3.7.4-4.2.4 4.8.4-5.2.4 4.3.4-4.9.4 4 .4-5.8.4 1.1.4-8.9.4-3.1.4-13.1.5-9.1.3 2.9.4 12.1.4 4.3.4 7.4.4-5.6.4-.8.4-11.6.5-7.5.3 3 .4 11.6.4 4 .4 7.5.4-5.8.4-.7.4-12.8.4-10.4.3-5.9.5 12 .4 8.4.4 10.2.4-3.6.4.3.4-11.7.4-10.6.3-5.8.5 12.6.4 8.7.4 10.1.4-2.4.4 1.1.4-11.5.4-9.7.3-5.4.5 12.7.4 9.4.4 11.4.4.7.4 7.4.4-3.1.4 5.5.4-3.3.4 5.1.4-5 .4 5.2.4-5.1.4 5.3.4-4.5.4 4.6.4-4.9.4 4.5.4-3.6.4 4.7.4-4.7.4 3.9.4-4 .4 4.3.4-4.8.4 4.6.4-4.8.4 4.4.4-4.7.4 5.2.4-4.7.4 4.5.4-4.7.4 4.7.4-4.4.4 3.8.4-4 .4 4.5.4-4.9.4 4.8.4-4.1.4 4.1.4-4 .4 4.1.4-3.7.4 4.3.4-4.9.4 4.5.4-4.2.4 3.9.4-4.7.4 4.9.4-4.3.4 4.1.4-4.2.4 4.7.4-4.6.4 4.4.4-4.9.4 4.5.4-4.8.4 4.9.4-4.4.4 4.7.4-4.7.4 5.3.4-4.7.4 4.6.4-5 .4 4.7.4-5 .4 4.9.4-4.7.4 5.1.4-5 .4 4.8.4-4.5.4 4.9.4-4.6.4 4 .4-4 .4 4.4.4-5.1.4 4.8.4-4.4.4 4.6.4-4.4.4 4.4.4-4.1.4 4 .4-4 .4 3.9.4-4.2.4 4.6.4-5 .4 4.9.4-4.1.4 4.7.4-4.7.4 4.4.4-4.1.4 4.3.4-4.7.4 4.7.4-4.2.4 4.2.4-3.9.4 4.3.4-4.7.4 4.6.4-4.3.4 4.4.4-5.2.4 4.7.4-5 .4 4.5.4-4.7.4 5.2.4-4.8.4 3.9.4-4.7.4 4.6.4-4.4.4 4.4.4-3.8.4 4.3.4-5.2.4 5.3.4-5.3.4 5 .4-4.2.4 4.7.4-5.1.4 5.5.4-4.7.4 4.2.4-4.5.4 5 .4-4.6.4 5.1.4-4.8.4 4 .4-4 .4 4.7.4-4.7.4 4.9.4-4.5.4 3.7.4-3.8.4 4 .4-4 .4 4.2.4-4.7.4 4.4.4-3.9.4 4.1.4-4.7.4 4.4.4-4.7.4 4.5.4-4.2.4 4.1.4-3.9.4 4.9.4-5.2.4 5.2.4-4.7.4 4.2.4-4.9.4 4.5.4-4.8.4 4.6.4-4.8.4 4.7.4-4.1.4 4.5.4-4.4.4 4.1.4-4.9.4 4.7.4-5 .4 4.4.4-4.3.4 5 .4-4.5.4 3.9.4-4.7.4 5.3.4-4.1.4 4.2.4-4.4.4 4.9.4-4.6.4 4.6.4-5 .4 4.3.4-4.1.4 4.3.4-4.5.4 4.5.4-4.2.4 4.1.4-4.4.4 4.4.4-4.6.4 4.4.4-4.7.4 4.6.4-4.8.4 4.4.4-4.7.4 4.7.4-4.5.4 4.4.4-5.1.4 4 .4-5.1.4 3.9.4-4.8.4 3.5.4-5.2.4 3.8.4-5.1.4 3.1.4-5.4.4 3.7.4-5.2.4 3.4.4-4.7.4 3.9.4-4.9.4 5.1.4-4.1.4 4.7.4-4.2.4 6.2.4-4.2.4 5.2.4-3.3.4 5.8.4-3.6.4 5.4.4-4 .4 5.2.4-3.7.4 5.6.4-4.5.4 5.1.4-4.4.4 4.6.4-4.9.4 5 .4-4.1.4 4 .4-4 .4 4.4.4-4.4.4 4.4.4-4.7.4 4.6.4-4.7.4 4.8.4-4.6.4 4.5.4-4.7.4 4.1.4-4.5.4 4.5.4-5.1.4 5.1.4-5.5.4 5 .4-4.9.4 5.1.4-5.1.4 4.5.4-3.9.4 4.1.4-4.6.4 4.6.4-4.5.4 5.3.4-4.6.4 4.5.4-3.9.4 4.4.4-4.4.4 4.9.4-4.7.4 4.3.4-4.3.4 4.3.4-4.3.4 4.5.4-4.4.4 5.1.4-4.8.4 4.6.4-4.6.4 4.4.4-5.1.4 5.1.4-5.3.4 4.6.4-4.9.4 5.2.4-4.9.4 4.3.4-4.2.4 4.7.4-4.4.4 4.5.4-4.8.4 4.7.4-5.2.4 4.5.4-4.7.4 4.6.4-4.8.4 4.4.4-4.1.4 4.5.4-5 .4 4.6.4-5.8.4 4.4.4-5.8.4 3.9.4-5.2.4 3.2.4-6.1.4 2.5.4-6.7.4.7.4-3.8.3.1.5-.1.4 4.5.4-1.9.4 5.8.4-3.3.4 5.5.4-4.4.4 4.5.4-4.3.4 4.3.4-3.2.4 5 .4-2.9.4 5.4.4-3.6.4 5.2.4-4.1.4 5.4.4-4.2.4 5.5.4-4.8.4 4.9.4-4.2.4 4 .4-4.4.4 4.8.4-4.6.4 4.9.4-4.7.4 4.6.4-4.6.4 4.7.4-4.9.4 4.9.4-4.3.4 4.5.4-4.8.4 4.3.4-4.7.4 4.5.4-5 .4 5 .4-5.1.4 4.7.4-4.6.4 4.6.4-4 .4 4.6.4-4.3.4 4.5.4-4 .4 4.5.4-4.8.4 5 .4-4.7.4 4.9.4-4.5.4 4.7.4-4.5.4 4.8.4-5.1.4 4 .4-4.4.4 4.4.4-4.2.4 3.8.4-3.8.4 4.4.4-4.6.4 4.1.4-3.7.4 3.7.4-4.4.4 4.4.4-4.7.4 4.4.4-4.7.4 4.5.4-4.9.4 3.8.4-4.8.4 3.9.4-5.5.4 4 .4-5.3.4 3.7.4-5.5.4 4.5.4-5.3.4 4.7.4-5.4.4 4.2.4-3.8.4 4.7.4-4.3.4 5.2.4-4.1.4 5.6.4-3.9.4 5.4.4-3.8.4 5.1.4-3.6.4 4.7.4-4.1.4 5 .4-4.3.4 4.6.4-4.2.4 4.9.4-4.8.4 4.6.4-4.5.4 3.9.4-4.2.4 4.1.4-4.6.4 5.1.4-5.2.4 4.9.4-4.5.4 5 .4-4.4.4 4.5.4-4.2.4 4.6.4-4.8.4 4.3.4-4.1.4 4.9.4-4.3.4 4.9.4-4.4.4 4 .4-4.3.4 4.7.4-5 .4 4.7.4-5 .4 5.1.4-5.2.4 4.4.4-4.3.4 4.3.4-4.5.4 5.1.4-4.8.4 4.1.4-4.4.4 4.6.4-4 .4 4.5.4-4.7.4 4.4.4-4.2.4 3.9.4-4.3.4 4.9.4-4.8.4 4.2.4-4.2.4 5 .4-4.2.4 3.8.4-4.1.4 4.1.4-5.1.4 4.4.4-4.5.4 5.3.4-4.8.4 4.2.4-4.7.4 4.6.4-4.4.4 4.1.4-4.1.4 3.8.4-4.7.4 3.3.4-5.4.4 4.7.4-5.8.4 3.6.4-5.3.4 3 .4-6.1.4 2.6.4-6.6.4 2.6.4-5.8.4 1.1.4-1.6.4 1.1"/>
<path stroke="#2F5597" d="M176.5,2193.7l.4-9.2.4 9.1.4-8.7.4 8.1.4-8.8.4 9.1.4-8.7.4 9.1.4-9.7.4 10.4.4-9.9.4 9.5.4-10.1.4 10.1.4-10.5.4 10.4.4-9.8.4 8.2.4-8.5.4 9.1.4-10.6.4 10.2.4-10.1.4 9.5.4-9.3.4 8.6.4-8 .4 10 .4-9.7.4 8.3.4-9.3.4 8.9.4-9.1.4 9 .4-9.5.4 9.8.4-8.5.4 8.1.4-8.3.4 8.4.4-10.1.4 9.3.4-11.1.4 8.9.4-8.1.4 8.9.4-8.6.4 7.9.4-8.7.4 8.5.4-8.1.4 10.1.4-9.7.4 9.4.4-8.6.4 9.9.4-8.6.4 10 .4-9.7.4 10.6.4-8.7.4 9.5.4-8.6.4 9.7.4-9 .4 9.1.4-8.7.4 8.7.4-9.7.4 9.5.4-8.4.4 10.4.4-9.8.4 7.8.4-7.8.4 8.3.4-8.7.4 8.9.4-8 .4 9.2.4-8 .4 9.3.4-10.2.4 10.9.4-9.6.4 8.8.4-8.5.4 9.5.4-9.1.4 9.8.4-9.3.4 9.9.4-9.7.4 7.5.4-9.2.4 9.3.4-9.7.4 9.3.4-9 .4 9.6.4-10.1.4 8.7.4-9.8.4 8.9.4-10.6.4 9.5.4-9.8.4 9.2.4-10.3.4 9 .4-10 .4 9 .4-10.5.4 8.4.4-8.1.4 8.8.4-10 .4 10.5.4-9.4.4 10.1.4-9.8.4 10.9.4-8.4.4 9.6.4-10.6.4 10.6.4-10 .4 9.7.4-10.1.4 10.5.4-10.5.4 9.8.4-9.7.4 9.3.4-9.8.4 8.3.4-9.3.4 8.7.4-9 .4 7.3.4-8.3.4 9.2.4-10.8.4 10.7.4-11.5.4 10 .4-10.3.4 9 .4-10.2.4 9.7.4-12.2.4 9.6.4-9.8.4 8.9.4-10.5.4 9 .4-12.3.4 9.2.4-10.7.4 8.8.4-10.1.4 8.2.4-12.4.4 8.4.4-12.4.4 6 .4-14.5.4 1.4.4-19.1.4-6.1.4-29 .4-18.1.4-29.7.3-5.6.5 18.9.4 34.3.4 16.7.4 28.4.4 5.4.4 19.4.4-.3.4 15.4.4-4.5.4 13.7.4-6.6.4 12.6.4-6.4.4 11 .4-7 .4 9.6.4-7.1.4 9.2.4-7.9.4 8.8.4-7.9.4 9.7.4-8.5.4 8.2.4-8.5.4 9.1.4-6.9.4 8.8.4-9.3.4 8.9.4-9 .4 8.6.4-6.8.4 8.6.4-8.9.4 8.5.4-8.2.4 9.8.4-9.2.4 9.1.4-8.6.4 8.6.4-7.9.4 7.4.4-7.3.4 8.2.4-7.3.4 8.4.4-8.8.4 9.3.4-8.6.4 9.1.4-8 .4 7.8.4-7.7.4 8 .4-8.9.4 9.2.4-8.4.4 8.4.4-7.6.4 8.7.4-7.7.4 7.5.4-8 .4 7.9.4-7.5.4 7.3.4-8.3.4 8.6.4-8.6.4 8.3.4-8.5.4 7.9.4-8.8.4 8.7.4-9.4.4 8.6.4-8.5.4 7 .4-9 .4 9 .4-7.9.4 7 .4-7 .4 8.6.4-8.7.4 7.5.4-8.1.4 8 .4-8.7.4 8.5.4-9.1.4 9.3.4-8.9.4 7.1.4-8 .4 9.2.4-9.1.4 8.9.4-9.7.4 7.8.4-9 .4 9.6.4-8.2.4 7.9.4-8.5.4 8.5.4-9 .4 8.4.4-7.6.4 8.8.4-8.6.4 7.6.4-8.2.4 7.8.4-8.7.4 9 .4-8.5.4 7.5.4-9.1.4 7.9.4-8.6.4 7.9.4-8.1.4 7.5.4-8.5.4 7 .4-8.2.4 6.2.4-8.3.4 7.7.4-9.7.4 6.6.4-9 .4 6.2.4-9.3.4 6.7.4-10.1.4 5.9.4-10.4.4 5.4.4-11 .4 5.8.4-12.7.4 5.5.4-12.9.4 3.3.4-13.7.4 3.7.4-14.3.4 3.2.4-13.1.4 3.5.4-10.9.4 2.5.4-5.9.4 1.4.4-.8.4 5.9.4-2.1.4 11.6.4-1.7.4 13.3.4-2.4.4 14.2.4-2 .4 12.5.4-1.3.4 12.1.4-3.6.4 12.3.4-3.7.4 10.6.4-3.9.4 11.3.4-5.2.4 11.1.4-5.4.4 10.5.4-5.5.4 8.6.4-5.2.4 8.8.4-5.5.4 9.1.4-5.4.4 8.8.4-7.1.4 8.5.4-5.6.4 7.4.4-6.1.4 6.9.4-6.1.4 6.8.4-6.3.4 7.5.4-5.7.4 6.9.4-6.7.4 6.8.4-7 .4 7.9.4-7.1.4 6 .4-6.4.4 6.2.4-7.2.4 6.6.4-6.3.4 7.5.4-7.7.4 7.4.4-7.2.4 7 .4-6.5.4 7.7.4-7.5.4 8 .4-6.1.4 7.5.4-6.1.4 6.8.4-6.3.4 7.5.4-5.7.4 7 .4-7.3.4 7.7.4-7.3.4 7.1.4-7.1.4 7.4.4-6.3.4 6.4.4-6.6.4 6.3.4-6.2.4 7.1.4-6.4.4 6.2.4-7 .4 7.4.4-6.7.4 6.9.4-6.1.4 7 .4-6.3.4 6.3.4-7.4.4 7.4.4-6.4.4 6.8.4-7.3.4 6.2.4-5.6.4 6.2.4-6.6.4 7 .4-7.6.4 7.3.4-6.8.4 6.5.4-7 .4 6.1.4-6.2.4 6.9.4-6.7.4 6.2.4-5.1.4 5.7.4-5.9.4 5.7.4-6 .4 6.9.4-5.6.4 5.9.4-6.8.4 6.5.4-5.2.4 5.8.4-5.5.4 6.7.4-6.9.4 6.8.4-5.9.4 7 .4-6.3.4 6.1.4-5 .4 4.9.4-5.8.4 6.3.4-5.7.4 6.5.4-6.5.4 6.7.4-6.2.4 5.3.4-6 .4 6.2.4-6.8.4 5.6.4-6.2.4 5.7.4-6.4.4 5.7.4-5.4.4 5.6.4-5.6.4 5.3.4-5.7.4 6 .4-5.9.4 5.6.4-6 .4 6.2.4-6.3.4 6.4.4-5.6.4 6.7.4-5.7.4 6.1.4-5.7.4 5.7.4-5.7.4 6.5.4-5.5.4 5.9.4-6.2.4 5.8.4-5 .4 6 .4-5.5.4 6.1.4-5.6.4 4.8.4-5.2.4 5.9.4-6.3.4 5.9.4-5.6.4 5.6.4-4.9.4 5.7.4-6 .4 5.7.4-6.2.4 5.8.4-5.6.4 6 .4-6.1.4 5.7.4-5.3.4 5.2.4-5.8.4 5.5.4-5.9.4 6.2.4-5.5.4 5.4.4-4.9.4 5.1.4-5 .4 5.2.4-5.4.4 5.3.4-5.1.4 5.7.4-6 .4 5.4.4-5.6.4 6.5.4-6 .4 5.7.4-6 .4 6.2.4-6 .4 5.5.4-5.5.4 6.2.4-5.7.4 6 .4-6 .4 5.3.4-5.9.4 5.6.4-5.6.4 5 .4-5.4.4 5.3.4-5.6.4 5.7.4-6.5.4 6 .4-6.5.4 5.3.4-6.4.4 4.4.4-7.9.4 4.2.4-9.2.4 2.5.4-10.8.4-.3.4-12 .4-3.6.4-9.2.3-1.9.5-1 .4 8 .4 2.5.4 12.6.4.9.4 11.1.4-1.7.4 9 .4-2.7.4 8.2.4-4.1.4 6.6.4-4.9.4 5.9.4-4.6.4 5.8.4-5.1.4 5.9.4-5.5.4 5.2.4-5.6.4 6.7.4-5.4.4 5.2.4-5.4.4 6.3.4-6.4.4 6.1.4-5.6.4 5.6.4-5.5.4 6.2.4-5.4.4 5.2.4-5.9.4 5.5.4-5.7.4 5.4.4-4.9.4 4.6.4-5.1.4 5.4.4-5.7.4 5.4.4-4.9.4 5.2.4-5.7.4 5.9.4-5.6.4 5.1.4-5.3.4 5.2.4-4.6.4 5.3.4-5.6.4 5.3.4-5.7.4 5.8.4-5.3.4 6.5.4-6.3.4 5.5.4-4.9.4 4.5.4-5.1.4 5.4.4-5.3.4 6.2.4-5.7.4 5.6.4-6 .4 5.4.4-5.5.4 5.2.4-5.2.4 4.4.4-5.5.4 4.7.4-5.7.4 4.9.4-7.4.4 3.8.4-7.3.4 3.4.4-8.5.4 3.5.4-9.5.4 3.5.4-9.9.4 2 .4-11 .4.5.4-10 .4-.5.6-5.4.2.9.4-1.2.4 7.1.4-3.1.4 10.6.4-3.3.4 10 .4-5.7.4 8 .4-6.1.4 9 .4-7.4.4 7.9.4-6.4.4 7.6.4-8.1.4 7.6.4-7.3.4 8 .4-6.9.4 7.2.4-8.6.4 7.8.4-7.4.4 7.2.4-6.9.4 7.3.4-7.8.4 7.7.4-8.9.4 8 .4-8.8.4 7.9.4-9.6.4 6.3.4-9.1.4 4.9.4-12.1.4 2.3.4-14.9.4-3.8.4-22.8.4-10.8.4-29 .4-19.5.6-28.9.2-.7.4 3.9.4 21.9.4 14.5.4 30.1.4 13 .4 24.5.4 5.7.4 16 .4-.3.4 13 .4-3.5.4 9.3.4-5.2.4 9.1.4-5.5.4 8.2.4-6.7.4 7.3.4-6.7.4 8.1.4-6.4.4 7.7.4-7.4.4 7.4.4-7.2.4 7.7.4-7.4.4 7.3.4-5.8.4 7.1.4-7.3.4 6.7.4-6.8.4 7.5.4-7.6.4 7.1.4-6.3.4 7.3.4-8 .4 7.6.4-7.1.4 8 .4-7.5.4 7.9.4-7 .4 6.6.4-6.8.4 7 .4-6.2.4 6.4.4-6.2.4 8 .4-7.7.4 7.8.4-7.4.4 7.5.4-7.4.4 7 .4-6.8.4 7.1.4-5.9.4 6.9.4-6.5.4 6.7.4-6.3.4 6.3.4-7.2.4 6.5.4-6.2.4 5.9.4-6.7.4 7.7.4-7.7.4 7.8.4-7.4.4 6.5.4-6.5.4 7.7.4-7.2.4 6.8.4-5.8.4 5.8.4-7 .4 7.7.4-6 .4 5.9.4-5.8.4 5.9.4-5.3.4 6.1.4-6.9.4 6.8.4-7.1.4 6.8.4-5.9.4 5.6.4-6.3.4 6.4.4-6.5.4 6.3.4-6.7.4 7.1.4-6.1.4 6.2.4-5.9.4 5.8.4-6.6.4 7.5.4-7.5.4 7.1.4-6.7.4 5.6.4-6.2.4 7.1.4-7.3.4 7.5.4-6.4.4 6 .4-6.8.4 6.3.4-6.4.4 6.6.4-7.1.4 7.7.4-6.7.4 6 .4-6.8.4 7.5.4-7.4.4 7.1.4-7.5.4 6.5.4-6.6.4 6.4.4-6.5.4 5.9.4-6.3.4 6.9.4-7.5.4 6.9.4-7.7.4 6.7.4-6.3.4 5.3.4-7.1.4 7.2.4-6.9.4 6.3.4-7.4.4 7.3.4-7.1.4 7 .4-6.8.4 6.1.4-7.1.4 6.4.4-7.1.4 6.7.4-7.5.4 6.6.4-7.5.4 5.7.4-6.9.4 5.4.4-7.7.4 5.6.4-8.5.4 5.4.4-8.2.4 5.1.4-7.6.4 4.1.4-9.8.4 4.8.4-9.4.4 3.7.4-10.1.4 2.9.4-9.6.4 4.1.4-9.1.4 3.3.4-5.8.6 1 .2-1.1.4 3.1.4-2.7.4 8.7.4-4 .4 9.8.4-3.5.4 10.7.4-3.6.4 9.6.4-3.7.4 9.6.4-4.5.4 8.2.4-5.8.4 8.1.4-5.2.4 8.9.4-5.5.4 8.1.4-5.7.4 7.6.4-6.4.4 7 .4-6.4.4 7.5.4-6.6.4 7.5.4-6.9.4 7.8.4-6.4.4 7.7.4-6.8.4 7.2.4-7.2.4 6.8.4-6 .4 7.2.4-7 .4 7.4.4-6.4.4 5.8.4-6 .4 6.8.4-7.1.4 7.2.4-6.5.4 6.5.4-6.7.4 6.7.4-6 .4 6.7.4-7.5.4 7.2.4-7.3.4 6.9.4-7.1.4 6.3.4-5.9.4 6.9.4-6.9.4 5.8.4-7 .4 6.3.4-6.2.4 6.5.4-7.4.4 6.3.4-6.8.4 5.1.4-7.9.4 5.2.4-9.2.4 3.8.4-10 .4-.4.4-15 .4-9.9.4-34 .4-39.5.4-76.4.4-98.4.4-143.1.6-152.2.2 21.6.4 133.9.4 134.4.4 110.3.4 65.1.4 51.1.4 21.6.4 22.9.4 3.4.4 12.8.4-2.1.4 8.9.4-3.8.4 7.2.4-4.5.4 7.4.4-5.1.4 6 .4-5.4.4 7.1.4-5.4.4 6.1.4-6.1.4 5.3.4-6.4.4 5.3.4-7.5.4 3.5.4-9 .4 2.1.4-12.5.4-1 .4-15.8.4-5.8.4-18.1.4-9.8.5-12.2.3.3.4 1.5.4 12.6.4 4.9.4 17.8.4 6.1.4 16.9.4 2 .4 12.3.4-.2.4 9.5.4-2.1.4 8.3.4-4 .4 7.4.4-4.4.4 6.2.4-4.9.4 5.8.4-4.6.4 6.4.4-5.1.4 6.2.4-5.5.4 6.1.4-5.9.4 6.2.4-5.1.4 5.6.4-5.8.4 5.5.4-5.2.4 5.6.4-4.9.4 4.9.4-5.5.4 5.9.4-5.7.4 5 .4-5.5.4 6 .4-5.7.4 5.6.4-4.9.4 5.1.4-4.9.4 4.7.4-4.7.4 5.1.4-6.1.4 5.5.4-5.1.4 5.8.4-5.2.4 5.1.4-4.9.4 5.5.4-5.3.4 5.1.4-5 .4 5.9.4-6.2.4 5.3.4-4.5.4 4.8.4-5.1.4 5.2.4-4.9.4 5.9.4-5.1.4 5.9.4-5.9.4 5.5.4-5.5.4 4.7.4-4.5.4 5.1.4-5.2.4 5.1.4-5.5.4 5.1.4-5.1.4 6 .4-6.1.4 4.5.4-5.3.4 5.3.4-5.3.4 6.2.4-5.9.4 4.8.4-4.9.4 5 .4-4.9.4 4.4.4-4.7.4 4.7.4-5 .4 4.2.4-4.8.4 4.3.4-4.9.4 4.7.4-5.7.4 5 .4-5.5.4 5.4.4-5 .4 4.4.4-4.6.4 5.5.4-5.9.4 5.2.4-4.4.4 5.1.4-4.8.4 6.2.4-4.8.4 5.8.4-4.5.4 5.3.4-5 .4 5.6.4-4.6.4 5.6.4-5.6.4 5.4.4-5.4.4 5.9.4-5.4.4 5.5.4-5.4.4 5.7.4-5.4.4 4.4.4-5.5.4 5.1.4-5 .4 4.9.4-5.4.4 5.1.4-5 .4 4.4.4-4.7.4 5.1.4-5.3.4 4.7.4-4.4.4 5.1.4-4.8.4 4.1.4-4.5.4 4.4.4-5.4.4 5.4.4-5.6.4 5.3.4-5.2.4 4.6.4-4.8.4 5 .4-4.7.4 4.8.4-4.6.4 5 .4-4.8.4 5.1.4-3.9.4 5.5.4-5.1.4 5.3.4-4.9.4 4.6.4-4.5.4 4.8.4-5 .4 5.4.4-4.8.4 4.6.4-4.8.4 5 .4-4.6.4 4.3.4-4.2.4 4.7.4-5.3.4 5.2.4-4.6.4 5.1.4-4.6.4 4.8.4-5 .4 5.3.4-5.2.4 5.4.4-4.7.4 5.2.4-5.2.4 4.8.4-4.9.4 5 .4-4.2.4 3.9.4-4.6.4 5.2.4-5.4.4 5.3.4-4.7.4 4 .4-4.4.4 4.5.4-4.8.4 4.6.4-4.6.4 4.6.4-4.2.4 4 .4-4.5.4 4.9.4-5 .4 5.1.4-5 .4 5.1.4-5.1.4 5.2.4-5.2.4 5.3.4-4.6.4 4.6.4-5.1.4 5 .4-5.6.4 5 .4-4.8.4 4.1.4-4.3.4 4.3.4-5.3.4 4.9.4-4.6.4 4.8.4-4.9.4 5.2.4-5.4.4 5 .4-5.6.4 4.8.4-5.2.4 4.9.4-4.8.4 4 .4-4.6.4 4.4.4-5.9.4 4.6.4-5.3.4 4.3.4-5.3.4 4.5.4-4.9.4 4.4.4-4.7.4 4.8.4-5.1.4 5.8.4-4.6.4 5 .4-4.3.4 4.7.4-4.1.4 5.3.4-5.2.4 5.4.4-4.4.4 5.6.4-5.6.4 5.4.4-4.5.4 4.4.4-5.1.4 5.8.4-5.6.4 5.6.4-5 .4 5.3.4-5.9.4 5 .4-4.6.4 4.9.4-5.8.4 5.6.4-5 .4 4.9.4-5.3.4 5.2.4-4.6.4 5 .4-5.2.4 5.6.4-6 .4 5.1.4-4.8.4 5 .4-4.5.4 4.9.4-5.2.4 4.9.4-5.4.4 4.8.4-5.5.4 5.2.4-5.2.4 5.4.4-5.4.4 4.7.4-5.3.4 4.8.4-5.5.4 4.4.4-6 .4 4.6.4-5.6.4 4.9.4-5.8.4 5 .4-6.1.4 4.3.4-6.5.4 4.7.4-6.5.4 4.3.4-7.4.4 3.3.4-6.7.4 3.3.4-8 .4 2.8.4-8.2.4 2.4.4-7.5.4 2.7.4-5.2.6.3.2-.9.4 2.3.4-2.4.4 6.5.4-3.3.4 7.4.4-2.6.4 6.6.4-2.7.4 7.5.4-3.8.4 6.3.4-4.2.4 6.3.4-4.5.4 6.4.4-4.9.4 5.5.4-4.8.4 5.6.4-4.8.4 4.7.4-4.2.4 4.6.4-4.9.4 5.2.4-4.2.4 4.3.4-4.6.4 5 .4-5.1.4 5.1.4-5.8.4 5.5.4-5.3.4 5 .4-6.1.4 5.5.4-6.5.4 4.8.4-6.8.4 3.6.4-5.3.4 1.9.6-2.7.2.8.4-1.7.4 4.3.4-3.8.4 6.5.4-4 .4 6.3.4-3.7.4 6.4.4-4.5.4 6.4.4-5.2.4 6.1.4-5.6.4 5.3.4-6.4.4 3.8.4-6.6.4 1.7.4-8.6.4.9.4-11.9.4-2.7.4-14.4.4-7 .6-11.5.2.3.4.8.4 7.8.4 1.3.4 11.6.4 2.7.4 13.2.4 1.9.4 11.6.4-.8.4 9.1.4-2.5.4 8.3.4-3.7.4 6.7.4-3.9.4 5.7.4-5.1.4 5.9.4-4.6.4 4.9.4-4.4.4 5.6.4-5.2.4 5.1.4-4.7.4 5.3.4-5.5.4 5.5.4-6 .4 5.2.4-5.6.4 5.7.4-6.1.4 5.4.4-4.8.4 5.1.4-5.1.4 5.2.4-5.9.4 5.5.4-6 .4 5 .4-5.2.4 4.7.4-5.4.4 5 .4-5.7.4 5.1.4-5.5.4 5.3.4-5.7.4 4.2.4-5.4.4 4.2.4-5.8.4 4.3.4-5.2.4 4.4.4-5.1.4 4.6.4-5.2.4 4.4.4-5.5.4 4.8.4-5.6.4 5 .4-6.1.4 4.9.4-5.5.4 5.4.4-5.7.4 6 .4-5.4.4 4.4.4-5 .4 5.6.4-5.5.4 5.3.4-4.6.4 4.9.4-4.7.4 5.3.4-4.3.4 4.9.4-3.9.4 5 .4-4.9.4 5.4.4-4.4.4 5.4.4-4.7.4 5.8.4-4.5.4 5 .4-4.6.4 6 .4-5.3.4 5.7.4-5.5.4 6.1.4-5.4.4 5.7.4-5.2.4 5.8.4-5.5.4 5.9.4-5.2.4 5.7.4-4.7.4 5.7.4-5.3.4 4.9.4-5.1.4 6.3.4-5.4.4 5.5.4-5.5.4 4.4.4-5.5.4 5.3.4-5.9.4 4.2.4-6.7.4 3.6.4-8 .4 2.6.4-9.6.4.2.4-11.3.4-2.6.4-11.7.4-4.6.3-3.9.5 2.2.4.9.4 8.2.4-.8.4 10.3.4.7.4 11.3.4-.2.4 9.6.4-2 .4 7.8.4-3.9.4 7.5.4-4.6.4 5.8.4-4.6.4 5.3.4-4.6.4 5.5.4-5 .4 5.1.4-6 .4 5.4.4-5.2.4 4.6.4-5.6.4 4.7.4-5.6.4 3.5.4-6.9.4 3.3.4-7.7.4 2.7.4-7.8.4.5.4-5.8.5-.5.3-1.2.4 2.6.4-2 .4 7.3.4-3.2.4 7.9.4-2.5.4 7.3.4-2.6.4 7.7.4-3.4.4 6.8.4-4.6.4 6.9.4-4.4.4 5.3.4-4.1.4 4.7.4-5.2.4 6.1.4-5.5.4 5.2.4-5.1.4 5.8.4-5.3.4 5.3.4-5 .4 5.1.4-4.9.4 4.4.4-4.6.4 4.6.4-5.3.4 5.9.4-5.1.4 5.4.4-5.5.4 5.3.4-4.4.4 4.8.4-5 .4 5.7.4-5.7.4 5.2.4-4.7.4 4.2.4-4.8.4 5.4.4-5.1.4 4.9.4-5.2.4 5.3.4-5.6.4 5.6.4-4.8.4 4.1.4-4.6.4 5.3.4-5.2.4 5.1.4-4.8.4 5.5.4-5.4.4 5.6.4-5.1.4 4.8.4-5 .4 5 .4-4.8.4 4.7.4-4.9.4 5.2.4-5.1.4 5.2.4-5 .4 5.1.4-5 .4 4.1.4-4.3.4 4.4.4-5.1.4 4.9.4-4.8.4 4.3.4-5.5.4 5 .4-5.6.4 4 .4-5.7.4 4.2.4-6.2.4 2.4.4-7.3.4.8.4-9.9.4-1.2.4-12.3.4-4.2.4-10.9.5-4.9.3-1.1.4 5.1.4 1.3.4 8.3.4.4.4 9.7.4 2.1.4 11.2.4.5.4 8.7.4-1.2.4 7.6.4-2.3.4 6.1.4-3.5.4 5.7.4-4.3.4 5.5.4-4.4.4 4.5.4-4.2.4 5 .4-4.5.4 5 .4-3.8.4 4.6.4-4.8.4 5.2.4-5 .4 4.5.4-3.6.4 3.9.4-3.8.4 4.4.4-4.5.4 5.1.4-5 .4 5.1.4-4.7.4 3.7.4-4.3.4 4.3.4-4.3.4 4.7.4-4.6.4 4.9.4-4.5.4 4.5.4-5 .4 4.6.4-4.3.4 3.9.4-4.1.4 4.6.4-4.2.4 4.1.4-4 .4 4.5.4-4.8.4 4.9.4-5.3.4 5.1.4-5 .4 4.8.4-3.8.4 4.2.4-4.6.4 4.8.4-5.1.4 4.8.4-5.2.4 5.2.4-4.5.4 3.9.4-4.3.4 4.5.4-4.6.4 4.2.4-4.4.4 4.9.4-4.8.4 4.2.4-4.1.4 4.6.4-5 .4 4.4.4-4 .4 3.8.4-4 .4 4.1.4-4.6.4 4.1.4-4.5.4 4.2.4-4.2.4 3.9.4-4.5.4 4.7.4-5.2.4 4.6.4-4.9.4 4.4.4-4.2.4 3.7.4-4.4.4 4.5.4-5 .4 4.3.4-5 .4 4.7.4-5 .4 4.1.4-4.5.4 3.7.4-4.7.4 3.7.4-4.8.4 3.5.4-4.7.4 4.3.4-5.7.4 4 .4-5.2.4 2.8.4-5.3.4 3.1.4-5.6.4 2.2.4-6.2.4 2.6.4-7.5.4 1.2.4-8.4.4.1.4-8.8.4-.9.4-5.4.3-.6.5-2 .4 3.3.4-1.7.4 5.8.4-2.4.4 7.4.4-2.7.4 6.6.4-2 .4 6.1.4-3.1.4 5 .4-3.6.4 4.3.4-4.7.4 5.4.4-3.9.4 4.7.4-3.7.4 5.2.4-2.9.4 5.8.4-2.8.4 6.2.4-2.9.4 7.1.4-3.2.4 6.4.4-2.7.4 6 .4-2.6.4 5.4.4-3.3.4 5.5.4-3.7.4 5.8.4-4.5.4 5.2.4-4.1.4 4.9.4-3.9.4 5.1.4-4.3.4 4.8.4-4.5.4 4.2.4-4 .4 4.7.4-4.4.4 4.8.4-5.2.4 4.8.4-4.3.4 5 .4-5.2.4 4.5.4-4.4.4 4.4.4-4.2.4 4 .4-4.4.4 4.7.4-5.1.4 4.5.4-5.1.4 4.6.4-4.7.4 5.1.4-5 .4 4.4.4-5.1.4 5.3.4-4.5.4 4.4.4-4.5.4 4.3.4-4.5.4 5.4.4-4.6.4 4.3.4-4.7.4 4.9.4-4.6.4 4.4.4-4.4.4 4.6.4-4.4.4 4.9.4-4.8.4 4.5.4-4.6.4 4.2.4-4.7.4 4.7.4-4.6.4 5.2.4-4.9.4 4.4.4-4.6.4 5.4.4-4.8.4 4.4.4-4.8.4 4.8.4-5.3.4 5.4.4-5 .4 4.4.4-4.7.4 4.5.4-5 .4 4.8.4-4.8.4 4.8.4-5.4.4 5.1.4-4.6.4 4.2.4-4 .4 4.8.4-5 .4 4.5.4-4.4.4 4.4.4-4.7.4 5 .4-4.8.4 4.7.4-5.1.4 5.2.4-4.9.4 4.6.4-4.6.4 4.9.4-4.8.4 4.2.4-4.7.4 4.5.4-4 .4 4.4.4-4.5.4 4.2.4-4.5.4 4.8.4-4.7.4 5.1.4-4.9.4 4.5.4-4.4.4 4.9.4-5.3.4 5.2.4-5.1.4 4.3.4-4.6.4 4.5.4-4.4.4 3.6.4-5 .4 3.6.4-5.4.4 2.4.4-3.4.4.5.4-1 .4 2.7.4-3.1.4 5 .4-4.3.4 5 .4-3.6.4 5.1.4-4 .4 5.1.4-4.3.4 5 .4-4.2.4 5 .4-4.9.4 4.7.4-3.9.4 4.9.4-5 .4 4.9.4-4.6.4 4.3.4-4.5.4 4 .4-4.3.4 4.9.4-4.6.4 4.5.4-4.9.4 4.4.4-4.5.4 3.9.4-4.9.4 3.8.4-4.5.4 4.2.4-5.2.4 3.6.4-5.4.4 2.6.4-6.8.4 1.9.4-8.8.4-.5.4-10.5.4-4.2.4-14.6.4-8.8.4-18.9.4-12.5.6-16.2.2.5.4 3.6.4 11.3.4 4.2.4 10.9.4 1.5.4 11.9.4 4.8.4 15.4.4 4.3.4 12.6.4 1.5.4 9.4.4-.3.4 7 .4-2.5.4 6.8.4-3.2.4 5.2.4-4.3.4 5 .4-3.8.4 4.4.4-3.8.4 5 .4-3.9.4 3.8.4-4.6.4 4.7.4-4.9.4 5.2.4-4.4.4 4.5.4-4.2.4 4.8.4-4.1.4 4.1.4-4.4.4 4.9.4-4.2.4 4.4.4-4.5.4 3.9.4-4.3.4 5.1.4-4.6.4 4.5.4-4.6.4 4.7.4-4.9.4 5 .4-4.8.4 4.5.4-4.2.4 4 .4-4.3.4 4.9.4-4.1.4 4.3.4-4.4.4 4.5.4-4 .4 4.1.4-4.1.4 3.9.4-4.1.4 4.7.4-4.7.4 4.9.4-4.5.4 3.9.4-4.2.4 4 .4-4.1.4 4.9.4-4.9.4 4.4.4-4.1.4 4.4.4-4.5.4 5 .4-4.5.4 4.2.4-3.9.4 4 .4-4.2.4 4.5.4-4.5.4 5.2.4-4.6.4 3.8.4-4 .4 4.1.4-4.1.4 4.3.4-4.2.4 4.1.4-4.4.4 4.8.4-5.6.4 4.7.4-4.4.4 4.2.4-3.9.4 4.3.4-4.5.4 4.2.4-4.5.4 4.3.4-4.4.4 4.6.4-4.4.4 4.6.4-5 .4 4.5.4-4 .4 4.3.4-4.8.4 4.3.4-4.7.4 4.8.4-4.4.4 4.5.4-4.9.4 4.8.4-4.8.4 4.9.4-5 .4 5.1.4-4.5.4 4.2.4-3.8.4 4.3.4-5 .4 4.5.4-4.4.4 4.5.4-4.3.4 3.8.4-4 .4 4.7.4-4.4.4 3.9.4-4.7.4 4.2.4-5 .4 4.2.4-4.6.4 4.3.4-5 .4 5.3.4-5.3.4 4.7.4-4.6.4 4.4.4-5 .4 4.6.4-4.8.4 4.3.4-3.7.4 4 .4-4.7.4 4.2.4-4.2.4 4 .4-4.1.4 3.7.4-4.7.4 4.9.4-5.3.4 4.5.4-5.2.4 4.4.4-4.1.4 4.1.4-4.9.4 4.1.4-4.6.4 4.3.4-4.6.4 3.5.4-4 .4 4 .4-5.2.4 4.7.4-5.2.4 4.6.4-5 .4 3.6.4-4.6.4 4.3.4-4.6.4 3.9.4-4.7.4 4 .4-4.8.4 3.9.4-4 .4 4.1.4-5.3.4 4.1.4-4.7.4 4.4.4-5.5.4 4.3.4-5.5.4 3.3.4-6.1.4 3.5.4-6.7.4 2.9.4-7 .4 2.2.4-7.2.4 1.3.4-6.3.4-.1.4-2.4.4.6.4-1.8.4 4.1.4-3 .4 5.6.4-3.2.4 6.8.4-3.1.4 6.6.4-3.3.4 7.2.4-3 .4 5.5.4-3.9.4 5.5.4-3.7.4 5.5.4-4.6.4 5.2.4-4.3.4 4.5.4-3.9.4 4.7.4-4.3.4 5.2.4-3.9.4 5 .4-4.3.4 5 .4-4.2.4 5.8.4-4 .4 4.9.4-3.7.4 5.7.4-4.3.4 5.8.4-4.5.4 4.9.4-3.9.4 4.8.4-4.2.4 5.7.4-4.7.4 5.4.4-4.5.4 4.7.4-3.9.4 5 .4-4.5.4 5.1.4-4.9.4 5 .4-4.2.4 4.7.4-4.1.4 4.2.4-4.2.4 4.2.4-4.6.4 4.3.4-4.9.4 5.5.4-5.1.4 4.8.4-4.8.4 5 .4-5.4.4 5.4.4-4.9.4 4.6.4-5 .4 4.5.4-4.5.4 4.9.4-4.9.4 4.5.4-4.7.4 5 .4-4.2.4 4.7.4-5.5.4 4.7.4-4.6.4 4.8.4-4.9.4 4.9.4-4.2.4 4.5.4-4.6.4 4.6.4-4.9.4 4.9.4-4.9.4 5.2.4-5.4.4 5.2.4-4.7.4 5 .4-5.4.4 5.8.4-4.8.4 5.1.4-5.2.4 4.8.4-4.4.4 4 .4-5 .4 4.9.4-4.7.4 5 .4-5.8.4 5.3.4-6.2.4 4.2.4-5.2.4 3.1.4-6.3.4 2.3.4-6.7.4.3.6-4.1.2.9.4-.6.4 5 .4-2.5.4 5.5.4-4.3.4 4.5.4-4.1.4 6 .4-3.4.4 6.3.4-4.4.4 5.9.4-4.1.4 5.5.4-4.7.4 6 .4-4.3.4 4.8.4-4.6.4 4.5.4-4.8.4 5.4.4-5.4.4 5.2.4-4.7.4 5 .4-4.8.4 4.7.4-4.9.4 5.2.4-5.5.4 5.4.4-5.4.4 5.1.4-5.2.4 4.8.4-4.3.4 4.3.4-4.9.4 4.8.4-5.2.4 5 .4-5.7.4 4.4.4-5.2.4 4.7.4-4.6.4 2.3.6-2 .2 1 .4-1.4.4 4 .4-4.2.4 5.2.4-4.3.4 5.5.4-4.9.4 5.2.4-4.4.4 5.7.4-4.9.4 5.7.4-5.1.4 5.5.4-4.7.4 5.4.4-5 .4 4.8.4-5 .4 4.8.4-4.3.4 5 .4-5.1.4 5 .4-5.1.4 4.7.4-4.5.4 4.4.4-5.6.4 5.5.4-5.4.4 4.2.4-4.6.4 4.5.4-4.4.4 4.6.4-4.9.4 4.9.4-5.1.4 4.6.4-5 .4 5.2.4-5.3.4 4.9.4-5.2.4 4.8.4-5.8.4 4.5.4-4.9.4 4 .4-5.2.4 3.3.4-6.3.4 2 .4-8.4.4.6.4-10.2.4-1.8.4-12.4.4-5.3.4-10.3.4-2.9.4.3.4 8 .4 1.7.4 8.9.4-1.6.4 6.5.4-2.8.4 7.6.4.2.4 10.1.4-.3.4 8.5.4-1.9.4 7.5.4-2.2.4 6 .4-3.6.4 5.6.4-4.1.4 5.4.4-4.5.4 5.5.4-4.2.4 4.4.4-4.7.4 5.2.4-4.7.4 5.5.4-4.9.4 4.8.4-4.7.4 4.3.4-4.4.4 4.6.4-4.5.4 4.3.4-4.5.4 4.4.4-4.7.4 4.5.4-4.4.4 4.6.4-5 .4 4.5.4-4.3.4 4.7.4-4.2.4 4.9.4-4.8.4 4.4.4-4.3.4 4.6.4-4.8.4 4.9.4-5 .4 4.8.4-5.2.4 5.2.4-4.6.4 4 .4-4.8.4 4.4.4-4.6.4 3.9.4-4.8.4 5.1.4-5.3.4 4.7.4-4.9.4 4.1.4-4.6.4 4.5.4-4.7.4 3.5.4-4.4.4 4 .4-5.1.4 4.8.4-5.1.4 4.4.4-4.9.4 4.7.4-5.2.4 3.9.4-5.1.4 4.3.4-4.7.4 3.9.4-5.1.4 4.3.4-5.6.4 3.8.4-4.8.4 4.3.4-5.1.4 3.9.4-5.4.4 4.3.4-4.8.4 4.3.4-4.9.4 4.1.4-5.1.4 4.7.4-4.4.4 4.4.4-4.3.4 4.9.4-4.1.4 4.7.4-4 .4 4.7.4-4.1.4 4.2.4-4 .4 4.9.4-4.3.4 5.5.4-4.6.4 5.1.4-3.8.4 4.9.4-4.3.4 5 .4-3.4.4 5.3.4-4 .4 4.6.4-3.4.4 5 .4-4.1.4 5.2.4-4.1.4 5.2.4-4.1.4 4.2.4-4.3.4 5.2.4-4.9.4 5.7.4-4.4.4 4.1.4-4.7.4 5.1.4-4.5.4 4 .4-3.8.4 4.5.4-4.9.4 5.3.4-4.7.4 5.1.4-5.2.4 4.7.4-4.2.4 4.6.4-4 .4 4 .4-4.6.4 5.4.4-4.9.4 4.7.4-4.5.4 4.8.4-4.7.4 4.2.4-4.3.4 4.1.4-4.5.4 4.3.4-4.5.4 4.2.4-4.5.4 4.4.4-4.9.4 4.4.4-5.5.4 4.1.4-5.6.4 4.1.4-5.5.4 3.2.4-6.1.4 2 .4-6.8.4 1.1.4-5 .6-1.1.2-.8.4 2.6.4-1.4.4 5.6.4-2.9.4 5.1.4-3.6.4 4.7.4-3.4.4 6.3.4-3.3.4 5.8.4-3 .4 5.9.4-3.4.4 5.5.4-3.9.4 5.1.4-4.8.4 5.5.4-4 .4 5 .4-4.8.4 4.7.4-4.6.4 5 .4-4.8.4 4.6.4-4.2.4 5 .4-5.1.4 5.3.4-5.2.4 4.6.4-4.3.4 4.5.4-4.4.4 4.4.4-4.9.4 4 .4-4.1.4 4.5.4-4.5.4 4 .4-4.2.4 4.6.4-5.2.4 4.5.4-4.3.4 5 .4-4.4.4 4.4.4-4.3.4 3.9.4-4.1.4 3.8.4-4.2.4 4.5.4-4.2.4 4.2.4-4.7.4 4.8.4-5 .4 4.9.4-4.8.4 4.3.4-4.4.4 4.2.4-4 .4 4.5.4-4.6.4 4.9.4-4.5.4 4.8.4-4.7.4 4.2.4-4.1.4 4.6.4-4.6.4 4.5.4-4.4.4 4.7.4-5.3.4 4.6.4-4.3.4 4.8.4-4.6.4 3.9.4-4.2.4 4.6.4-4.6.4 4.8.4-4.7.4 3.7.4-4.2.4 4.4.4-4.8.4 4.6.4-4.5.4 4.2.4-4.5.4 4.6.4-3.8.4 4.5.4-5 .4 4.7.4-4.7.4 4.5.4-4 .4 3.9.4-3.6.4 4.2.4-4.5.4 4.2.4-4.3.4 4.4.4-4.2.4 4.1.4-4.4.4 4.2.4-3.9.4 4.4.4-4.7.4 4.8.4-4.7.4 4.9.4-4.8.4 4.7.4-4.7.4 4.5.4-4.8.4 5 .4-4.5.4 4.7.4-4.7.4 4 .4-4.4.4 4.7.4-5.2.4 4.8.4-4.6.4 4.2.4-3.9.4 4 .4-4.3.4 4.9.4-4.5.4 4.7.4-4.7.4 4.9.4-5.3.4 5.3.4-4.7.4 4.2.4-5 .4 4.7.4-4 .4 3.7.4-5.1.4 3.4.4-6.6.4 2.5.4-9.4.4-3.9.4-13.5.5-9.4.3 3.1.4 12.6.4 5.2.4 6.9.4-5 .4-1.7.4-11.9.5-8 .3 3.2.4 12.5.4 3.9.4 7.8.4-5.7.4-1 .4-13.8.4-11.6.3-6.3.5 12.7.4 8.9.4 10.1.4-3.2.4.4.4-12.6.4-11.2.3-6 .5 13.3.4 9.5.4 10.2.4-2.8.4.8.4-11.9.4-10.2.3-5.4.5 13.4.4 10.3.4 12.6.4.9.4 7.8.4-2.4.4 5.4.4-4.1.4 4.9.4-4.9.4 4.9.4-3.9.4 4.7.4-4.6.4 4.4.4-3.9.4 3.9.4-4.4.4 4.9.4-4.2.4 4.7.4-5.1.4 4.5.4-4.4.4 5.1.4-4.7.4 4.5.4-4 .4 4.2.4-4.8.4 4.5.4-4.4.4 4.7.4-4.3.4 4 .4-4.5.4 4.8.4-5 .4 5.1.4-4.8.4 4.2.4-4.1.4 4.8.4-4.8.4 4.4.4-5.1.4 5 .4-4.3.4 4.6.4-4.8.4 5 .4-4.4.4 4.5.4-4.6.4 4.1.4-4.5.4 4.9.4-4.4.4 4.3.4-4.9.4 4.9.4-4.3.4 3.8.4-4.7.4 5 .4-4.4.4 4.2.4-4.9.4 4.5.4-4.7.4 4.9.4-4.3.4 4.5.4-5.2.4 4.2.4-4.1.4 5 .4-4.4.4 4.5.4-4.4.4 4.1.4-4.8.4 4.5.4-4.1.4 4.8.4-4.4.4 4 .4-4.8.4 4.2.4-4.2.4 4.8.4-5.3.4 4.5.4-4.6.4 4.5.4-4.4.4 4.3.4-3.8.4 4.8.4-4.7.4 4.2.4-4.5.4 4.9.4-4.7.4 5 .4-4.7.4 4.3.4-4.3.4 4.5.4-4.3.4 4.3.4-4.6.4 3.7.4-4.5.4 5.5.4-4.4.4 4.1.4-4.5.4 4.8.4-5.2.4 5.1.4-4.8.4 4.4.4-4.3.4 4.4.4-4.9.4 5.4.4-4.5.4 5.2.4-4.5.4 3.9.4-4 .4 4 .4-4.2.4 4.5.4-4.8.4 4.5.4-4.1.4 4.9.4-5 .4 5.3.4-5.3.4 5 .4-4.7.4 4.3.4-5.7.4 4.8.4-4.2.4 3.9.4-4.7.4 4.6.4-3.9.4 4.1.4-4.5.4 4.7.4-4.3.4 4.4.4-4.8.4 4.7.4-4.4.4 4.3.4-3.9.4 5 .4-4.9.4 4.1.4-4.2.4 4.7.4-4.8.4 4.3.4-4.4.4 4.4.4-5.3.4 5.3.4-4.7.4 4.7.4-4.4.4 4.6.4-4.5.4 4.2.4-4 .4 4.3.4-4.1.4 3.7.4-4.3.4 4.7.4-4.7.4 4.7.4-3.8.4 4.4.4-4.3.4 4.7.4-5.1.4 4.9.4-5.1.4 4.3.4-4.7.4 4.7.4-4.3.4 4 .4-4.3.4 4.6.4-4.4.4 4.3.4-4.9.4 4.8.4-4.9.4 4.8.4-4.6.4 4.7.4-4.8.4 5 .4-4.8.4 4.5.4-5.2.4 4.4.4-5.1.4 4.3.4-5 .4 4.2.4-5.2.4 3.8.4-5.9.4 3.7.4-5.3.4 3 .4-5.6.4 3.6.4-4.8.4 4.4.4-4.2.4 4.5.4-4.5.4 4.3.4-3.8.4 5.9.4-3.9.4 5.6.4-4.1.4 5.4.4-3.2.4 4.9.4-3.7.4 5.2.4-3.4.4 5 .4-4.3.4 4.9.4-4.1.4 4.6.4-4.5.4 4.4.4-4.4.4 4.7.4-4.6.4 4.2.4-3.9.4 4.6.4-4.6.4 4.1.4-4.4.4 4.1.4-4.1.4 4.6.4-5.2.4 4.5.4-4.1.4 4.8.4-4.1.4 3.9.4-4.1.4 4.5.4-4.8.4 4.3.4-4.4.4 4.6.4-4 .4 4.9.4-4.3.4 4.7.4-5.3.4 5.2.4-5.1.4 4.7.4-4.5.4 4.2.4-4 .4 4.3.4-5 .4 4.7.4-4.8.4 4.4.4-4.4.4 3.9.4-4.1.4 4.1.4-4.6.4 4.8.4-5.3.4 4.4.4-5.2.4 5.3.4-4.8.4 4.5.4-4.5.4 4.6.4-4.8.4 5.3.4-5.2.4 4.5.4-4.5.4 4.6.4-4.3.4 5 .4-4.5.4 4.7.4-4.7.4 4.4.4-4.9.4 4.3.4-4.2.4 4.7.4-4.8.4 4.1.4-4.6.4 4.2.4-4.9.4 3.9.4-6.2.4 2.8.4-5.8.4 1.6.4-6.7.4.7.4-3.8.3.2.5-.3.4 4.3.4-1.4.4 5.3.4-2.9.4 4.9.4-4.4.4 4.2.4-4.6.4 5.4.4-3.9.4 5.5.4-2.8.4 6.1.4-3.6.4 5.5.4-4.2.4 5.4.4-4.2.4 4.9.4-4.4.4 4.8.4-4.9.4 5.1.4-4.5.4 4.2.4-4.3.4 5.1.4-5.1.4 4.3.4-4.4.4 4.5.4-4.8.4 4.5.4-3.9.4 4.7.4-4.6.4 4.3.4-4.3.4 5.2.4-5.2.4 4.8.4-4.7.4 5 .4-5.2.4 4.9.4-4.9.4 5.1.4-4.4.4 4.6.4-4.2.4 4.3.4-4.1.4 4.4.4-4.9.4 5 .4-4.6.4 4.4.4-4.3.4 5 .4-5 .4 4.3.4-3.9.4 4.1.4-4.5.4 4.8.4-4.7.4 4.3.4-4.3.4 4.2.4-4.8.4 4.7.4-4.9.4 4.7.4-5.4.4 4.1.4-4.5.4 4.4.4-5.4.4 4 .4-4.9.4 3.7.4-4.9.4 3.5.4-4.7.4 4.3.4-5.6.4 4.5.4-5.5.4 4.2.4-4.3.4 4.2.4-4.2.4 4.7.4-3.5.4 4.7.4-3.4.4 5.2.4-4.4.4 4.5.4-3.9.4 4.8.4-3.6.4 4.8.4-3.9.4 4.7.4-4.1.4 5 .4-4.3.4 4.7.4-4.3.4 4.9.4-4.6.4 4.2.4-4.7.4 5 .4-4.2.4 4 .4-4.6.4 5 .4-4.2.4 4.4.4-4.9.4 4.9.4-5 .4 4.1.4-4.3.4 4.5.4-4.7.4 5 .4-4.3.4 4.7.4-5.2.4 4.7.4-4.1.4 3.9.4-4.3.4 4.3.4-4.1.4 4 .4-4.9.4 5.3.4-4.9.4 4.9.4-5.1.4 4.4.4-3.8.4 4.4.4-4.8.4 5.1.4-5 .4 5.1.4-4.6.4 4.4.4-4.7.4 5 .4-4.7.4 4.5.4-4.4.4 4.3.4-4.1.4 4 .4-4.3.4 4.6.4-5.1.4 4.5.4-4.7.4 4.5.4-5 .4 4.5.4-3.9.4 3.8.4-4.4.4 4.5.4-4.8.4 4.5.4-4.1.4 3.7.4-4.2.4 4.1.4-4.5.4 3.7.4-4.6.4 4.1.4-5.2.4 3.4.4-6.1.4 3.3.4-5.7.4 2.9.4-5.4.4.7.4-1.8.4 1.5"/>
<path stroke="#548235" d="M176.5,2064.2l.4-9 .4 9.6.4-9.5.4 10.6.4-9.9.4 10 .4-8.8.4 8.8.4-9 .4 8.8.4-8.7.4 9.2.4-9.5.4 7.9.4-9.6.4 9.3.4-10.5.4 8.4.4-9.8.4 9.6.4-9.9.4 9 .4-10.1.4 9.4.4-8.8.4 9.3.4-9 .4 8.8.4-8.6.4 10.3.4-9.1.4 9.9.4-8.8.4 8.6.4-7.7.4 9.3.4-9.4.4 9 .4-9.3.4 10.1.4-8.7.4 8.6.4-8.1.4 9.8.4-9.7.4 7.9.4-9.5.4 9.7.4-9.7.4 8.6.4-9.2.4 9.2.4-8.8.4 9.3.4-8.9.4 10.1.4-9.4.4 9.3.4-9.8.4 10.4.4-8.3.4 8.6.4-8.4.4 8.4.4-7.6.4 8.8.4-7.9.4 8.4.4-8.4.4 8.9.4-8.8.4 8.3.4-9.1.4 10.3.4-9.5.4 10 .4-8.6.4 8.6.4-9.2.4 9.1.4-8.6.4 9.9.4-8.7.4 9.2.4-9.6.4 9.3.4-8.3.4 8.2.4-8.9.4 8.3.4-8.9.4 8.5.4-9 .4 8.9.4-9.2.4 7.9.4-8.5.4 8 .4-9.4.4 9.6.4-9.2.4 8.3.4-9.5.4 10 .4-10.2.4 10.5.4-9.8.4 9.7.4-9.9.4 9.8.4-9.3.4 9.6.4-8.8.4 8.6.4-9.3.4 9 .4-8.3.4 9.7.4-9.9.4 9.7.4-8.6.4 9.1.4-9.5.4 10.1.4-10.9.4 9.9.4-8.8.4 8.9.4-8.2.4 8.7.4-9.7.4 8.7.4-8.3.4 8.5.4-10.3.4 9.8.4-9.3.4 8.4.4-8.8.4 9.3.4-9.4.4 8.7.4-10.8.4 9.3.4-9.3.4 9 .4-11.4.4 9.3.4-8.7.4 7.7.4-9.6.4 9.5.4-10.2.4 10.7.4-11.8.4 9.1.4-9.7.4 9.4.4-9.6.4 7.6.4-9 .4 8.2.4-9.9.4 7.5.4-12.5.4 5.2.4-15.9.4 1.1.4-22.5.4-12 .4-34 .4-28 .4-37.9.3-8.7.5 25.3.4 42.7.4 23.4.4 32.7.4 6.8.4 21 .4-.4.4 14.3.4-6.3.4 11.8.4-5.9.4 10.1.4-6.8.4 10 .4-6.3.4 9.9.4-8.2.4 8.9.4-8.1.4 9.6.4-7.8.4 8.5.4-7.3.4 8.5.4-9.1.4 9 .4-6.4.4 7.8.4-8.3.4 9.1.4-7.6.4 9 .4-9.5.4 8.7.4-7.6.4 8.1.4-8.3.4 9.2.4-8.9.4 8.2.4-6.8.4 8.9.4-8.1.4 7.9.4-8.9.4 9.1.4-8 .4 8 .4-8.1.4 8.7.4-7.4.4 8.7.4-8.4.4 8 .4-8.3.4 8.4.4-8.3.4 7.7.4-7.8.4 8.7.4-8.9.4 9.1.4-9 .4 9 .4-9.1.4 8.5.4-7.8.4 8.6.4-8.3.4 7 .4-6.8.4 7.2.4-7.2.4 8.3.4-8 .4 7.2.4-7.8.4 7.5.4-7.4.4 8 .4-7.8.4 7.1.4-8.4.4 7.5.4-8.6.4 8.7.4-8.8.4 8.1.4-7.9.4 8.6.4-8.3.4 7.4.4-7.8.4 7.6.4-7.6.4 7.2.4-7.1.4 8.1.4-7.5.4 7.6.4-7.4.4 7.6.4-7.6.4 8 .4-8.7.4 7.6.4-8.7.4 8.8.4-8.4.4 7.7.4-8.6.4 8.5.4-9.1.4 7.6.4-7.9.4 7.9.4-10.5.4 7.8.4-9.4.4 7.9.4-8.7.4 7.3.4-9.3.4 9.3.4-8.7.4 6.6.4-8.3.4 7.8.4-9.1.4 7.8.4-9.6.4 7.9.4-9 .4 7.1.4-8.5.4 7 .4-9.8.4 7.4.4-9.6.4 5.6.4-10.6.4 5.3.4-11.1.4 5.3.4-11.9.4 4.7.4-12 .4 5.5.4-12.6.4 4.6.4-12.3.4 5.1.4-9.3.4 4.7.6-2.4.2 1.6.4-1.5.4 6.8.4-4.8.4 12.8.4-4.2.4 11.9.4-2.9.4 12.2.4-3.3.4 11.9.4-4.7.4 11.4.4-4.7.4 10.2.4-5.1.4 10.8.4-6 .4 10.1.4-4.2.4 8.8.4-6.1.4 9.5.4-7.1.4 9.5.4-6.6.4 9.8.4-7.5.4 9.4.4-6.9.4 8.4.4-6.6.4 7.8.4-6.6.4 8.4.4-7.6.4 7.4.4-6 .4 7.2.4-6.2.4 7.8.4-7 .4 6.4.4-7 .4 8.1.4-7 .4 7.1.4-6.9.4 7.5.4-6.1.4 6.5.4-7.6.4 7 .4-8.4.4 7.4.4-6.5.4 6.2.4-6.6.4 6.2.4-6.2.4 6.2.4-6.7.4 6.3.4-6.6.4 6.6.4-7.2.4 8.7.4-6.6.4 6.9.4-5.1.4 6.6.4-6.3.4 6.9.4-7 .4 6.9.4-6.9.4 8.1.4-7.2.4 7.4.4-5.8.4 6.8.4-7.8.4 6.5.4-5.6.4 6.2.4-6.2.4 6.5.4-7.1.4 6.8.4-6.8.4 7.7.4-6.2.4 6.7.4-6.9.4 5.9.4-5.6.4 7.2.4-7.1.4 7 .4-6.2.4 7.5.4-7.5.4 7.6.4-6.8.4 7.2.4-7 .4 6.7.4-6.9.4 6.2.4-6.3.4 7.4.4-6.2.4 6.3.4-6.8.4 5.2.4-6 .4 5.7.4-5.4.4 5.7.4-6.2.4 6.3.4-5.5.4 6.3.4-6.7.4 6.1.4-5.9.4 6 .4-6.5.4 6.1.4-6.2.4 7.1.4-6.1.4 6.7.4-6.3.4 6.5.4-7.2.4 6.7.4-5.5.4 6.4.4-6.2.4 6.3.4-6 .4 6.6.4-5.9.4 5.7.4-5.2.4 5.5.4-5.7.4 6.3.4-6.7.4 6.6.4-6 .4 5.3.4-5.5.4 6.2.4-5.7.4 5.5.4-6.3.4 6.6.4-6.2.4 5.7.4-6.5.4 6.5.4-6.3.4 6.7.4-6 .4 6.1.4-5.8.4 6.4.4-6.5.4 5.8.4-5.7.4 6 .4-6.6.4 7 .4-6.9.4 5.9.4-6.7.4 6.9.4-6.1.4 5.4.4-5.6.4 5.9.4-6.3.4 5.5.4-5.9.4 6.2.4-6 .4 5.3.4-5.5.4 6.1.4-6.3.4 7 .4-6.4.4 6.1.4-5.6.4 6.1.4-5.9.4 6.8.4-6.1.4 6.5.4-6 .4 5.8.4-5.5.4 6.9.4-6 .4 5.3.4-5.2.4 6.1.4-6.2.4 6.1.4-5.9.4 5.3.4-5.3.4 5.1.4-5.7.4 6.2.4-6 .4 6.6.4-6.5.4 5.6.4-5.9.4 5.8.4-5.5.4 5.7.4-5.6.4 5.6.4-6 .4 5.9.4-5.7.4 6.6.4-6.7.4 5.8.4-6.5.4 6.3.4-6.6.4 6.3.4-6.8.4 5.9.4-6.5.4 6.2.4-6.8.4 5.3.4-6.6.4 4.3.4-7.6.4 3 .4-9.3.4 2.2.4-11.8.4-1.2.4-12.8.4-5.2.4-10 .3-2.5.5-1 .4 8.7.4 3.4.4 13.7.4 2.7.4 11.1.4 0 .4 10 .4-2.3.4 7.8.4-3.6.4 7.3.4-4.7.4 6.5.4-5.6.4 6.7.4-6 .4 6.5.4-5.7.4 6.3.4-5.6.4 5.7.4-5.3.4 5.6.4-5.4.4 5.9.4-6.3.4 5.3.4-5.2.4 5.7.4-6.5.4 6.1.4-6.2.4 6 .4-5.4.4 5.4.4-6.7.4 6.1.4-6.3.4 6.4.4-5.6.4 5.3.4-5.9.4 6.4.4-5.7.4 6.7.4-6 .4 5.7.4-5.9.4 5.3.4-5.3.4 5.7.4-5.8.4 6.3.4-6.2.4 5.6.4-5.5.4 6 .4-5.8.4 6.3.4-6.4.4 5.9.4-4.5.4 5.8.4-5.8.4 6.2.4-6 .4 6.3.4-5 .4 5.5.4-6.3.4 6.8.4-5.6.4 5.2.4-5.8.4 5.5.4-6.6.4 4.4.4-6.3.4 4.8.4-7.3.4 4.2.4-6.9.4 3.5.4-8.3.4 2.6.4-8.5.4 2.4.4-10.7.4 1.8.4-9.6.4 1.2.4-5.9.4.2.4-1.8.4 4.9.4-2.5.4 8.1.4-4 .4 9.9.4-4.7.4 9 .4-5.8.4 7.7.4-6.1.4 7.8.4-7.8.4 8.1.4-7.3.4 7.6.4-7.2.4 7.5.4-7.5.4 8 .4-7.8.4 8.4.4-8.3.4 8 .4-7 .4 7.9.4-8.7.4 8.8.4-7.9.4 7.6.4-8.5.4 7.2.4-7.8.4 5.1.4-7.6.4 4.9.4-8.8.4 3.3.4-11.1.4.5.4-16.8.4-5.5.4-23.5.4-13.6.4-31.9.4-24.1.6-32.1.2-1.2.4 4.6.4 23.1.4 18.6.4 33.4.4 14.2.4 25.4.4 7.7.4 18.6.4-.1.4 12.6.4-2.8.4 9.5.4-4.4.4 8.7.4-6 .4 7.8.4-6.8.4 7.9.4-6.5.4 7.3.4-6.8.4 7.4.4-6.8.4 6.8.4-7.6.4 8.2.4-7.7.4 7.9.4-7.1.4 7.1.4-6.9.4 7.1.4-6.3.4 7.3.4-7.4.4 8.3.4-6.8.4 7.3.4-7.5.4 7 .4-7.8.4 7.4.4-6 .4 5.6.4-6.6.4 8 .4-6.6.4 6.1.4-5.7.4 6.6.4-6.7.4 7.1.4-6.5.4 7.4.4-7.4.4 6.7.4-6 .4 6.9.4-7.3.4 7.2.4-6.4.4 7.2.4-6.9.4 6.6.4-6.6.4 7 .4-6.9.4 7.2.4-7.2.4 6.6.4-6 .4 8.4.4-7.1.4 7.8.4-7.6.4 6.7.4-7 .4 7.1.4-7.1.4 7 .4-6.9.4 7 .4-6 .4 6.2.4-7.2.4 6.3.4-6.6.4 6.7.4-8.1.4 7.3.4-6.8.4 7.2.4-6.7.4 7 .4-6.6.4 7.1.4-7.3.4 6.5.4-7 .4 6.4.4-6.3.4 7.2.4-6.9.4 6.3.4-5.6.4 6.3.4-6.3.4 6.4.4-6.4.4 6.8.4-6.4.4 6.5.4-6.4.4 6.2.4-6 .4 6.3.4-6.3.4 6 .4-6.3.4 6.6.4-6.8.4 6.1.4-6.5.4 6.1.4-7 .4 6.1.4-6.4.4 6.7.4-7.2.4 7.3.4-7.1.4 6.9.4-6.7.4 6.2.4-5.9.4 6.2.4-7.3.4 7 .4-6.8.4 6.6.4-6.2.4 7 .4-7 .4 7.1.4-6.3.4 5.7.4-5.9.4 6.3.4-6.5.4 6.2.4-6.5.4 6 .4-6.9.4 6.5.4-7.4.4 6.9.4-7.7.4 6.6.4-6.6.4 6.1.4-7.2.4 5.7.4-6.9.4 5.3.4-8.2.4 6.3.4-8 .4 5.4.4-6.6.4 4.9.4-9 .4 5.5.4-8.4.4 4.3.4-7.9.4 3.2.4-8.8.4 4.5.4-8.6.4 5 .4-8.2.4 3.3.4-5.4.6.7.2-1.1.4 3.5.4-2.5.4 8 .4-3.9.4 7.7.4-3.6.4 8.8.4-3.9.4 8.8.4-5.1.4 8.3.4-4.4.4 8.4.4-5.8.4 8.2.4-6.1.4 8.1.4-6.2.4 7.6.4-5.7.4 7.1.4-5.2.4 7.1.4-6.3.4 7.1.4-6.2.4 6.9.4-6.7.4 6.9.4-5.6.4 6 .4-5.6.4 6.6.4-6.8.4 6.9.4-5.4.4 6.8.4-7.2.4 7.7.4-6.6.4 6.5.4-6.9.4 7.3.4-7.1.4 7 .4-7 .4 7.5.4-6.8.4 6.5.4-6.5.4 6.6.4-7.2.4 6.5.4-7.7.4 6.6.4-6.5.4 6.2.4-7.6.4 6.4.4-7.2.4 6 .4-8 .4 6 .4-7.4.4 4.8.4-8.5.4 4.3.4-9.1.4 1.6.4-10.6.4-.6.4-16.8.4-10.4.4-31.7.4-32.7.4-62.5.4-73.5.4-113.3.4-131.8.4-145.2.4-67.3.4 67.2.4 145 .4 131.5.4 114.2.4 72.5.4 62.9.4 32.4.4 31.7.4 10 .4 16.7.4 1 .4 11.4.4-2.8.4 8.5.4-4.2.4 8.8.4-4.3.4 7.3.4-5.4.4 7.6.4-5.4.4 6.3.4-5.1.4 5.7.4-5.9.4 5.5.4-6.2.4 5.8.4-8.1.4 4.1.4-8.5.4.9.4-11.7.4-1.3.4-15.6.4-5.8.4-19.2.4-10.8.5-12.7.3.4.4 2 .4 13.1.4 5 .4 18.5.4 5.5.4 16.3.4 3 .4 12.8.4-1.3.4 10.3.4-3.3.4 8.5.4-4.7.4 7 .4-4.1.4 6.3.4-4.6.4 6 .4-4.9.4 5.9.4-4.8.4 5.8.4-5.3.4 5.7.4-5.3.4 6.4.4-5.5.4 5.3.4-4.4.4 5.8.4-6 .4 5.8.4-5.5.4 5.5.4-4.6.4 5.7.4-5.4.4 5.7.4-5.8.4 5.8.4-5.6.4 5.5.4-5.4.4 5.3.4-5 .4 5.7.4-5.8.4 5.6.4-5.6.4 4.8.4-5.5.4 5.5.4-5.1.4 5.4.4-4.8.4 5.1.4-5 .4 5.6.4-5.7.4 5.2.4-5.5.4 6.3.4-5.4.4 5.8.4-6.4.4 6 .4-5.9.4 5.6.4-5.1.4 5.1.4-6.1.4 4.6.4-6.3.4 4.8.4-5.5.4 4.3.4-6.9.4 4.8.4-5.9.4 4.3.4-6.1.4 5 .4-6.8.4 5.6.4-5.4.4 5.3.4-4.8.4 5.7.4-4.6.4 6.4.4-4.4.4 6.1.4-4.3.4 6.6.4-4.9.4 6.7.4-4.8.4 5.5.4-5 .4 5.8.4-5.4.4 5.1.4-4.9.4 5.8.4-5.3.4 5.3.4-4.8.4 5.1.4-5 .4 5.3.4-4.8.4 5.7.4-5.2.4 5.3.4-5.4.4 6.3.4-5.1.4 4.6.4-5.2.4 5 .4-5.1.4 5.3.4-4.9.4 5.2.4-5.4.4 4.5.4-4.7.4 5.3.4-5.8.4 5.7.4-5.4.4 5.7.4-5.7.4 5.1.4-5.5.4 5.4.4-4.8.4 5 .4-6.2.4 4.7.4-5.5.4 4.7.4-5.5.4 4.3.4-5.2.4 4.2.4-6.1.4 4.2.4-5.3.4 5.2.4-5.1.4 4.7.4-4.5.4 5 .4-4.2.4 5.5.4-4.2.4 5.4.4-4.5.4 5.8.4-5 .4 6.3.4-4.5.4 5.4.4-4.2.4 5.5.4-5.5.4 5.8.4-4.7.4 5 .4-5.2.4 5 .4-5 .4 5.5.4-5 .4 5.2.4-5 .4 4.6.4-4.3.4 5.1.4-5.5.4 4.8.4-4.6.4 5.2.4-5.3.4 5.1.4-5 .4 4.9.4-4.5.4 4.6.4-5.2.4 5.1.4-4.5.4 4.9.4-5.2.4 5.1.4-5.5.4 5.7.4-5.7.4 4.6.4-5.4.4 5.3.4-6.1.4 4.4.4-5.6.4 4.7.4-6 .4 4.1.4-6.6.4 3.5.4-7.1.4 3.5.4-6.2.4 3 .4-6.6.4 3.5.4-5.3.4 4.9.4-5.2.4 5.5.4-4.6.4 6.1.4-3.5.4 6.1.4-3.2.4 7.2.4-3.2.4 6.4.4-4.9.4 6.7.4-4.7.4 6.2.4-4 .4 5 .4-5.4.4 5.5.4-5 .4 5.9.4-5.8.4 5.1.4-4.8.4 4.9.4-5.6.4 6.1.4-5 .4 5.2.4-5.4.4 4.8.4-5.7.4 5.2.4-5.2.4 5.4.4-5.4.4 5.5.4-5.7.4 5.7.4-5.1.4 5.6.4-5.8.4 4.9.4-5.1.4 5.7.4-6 .4 5.1.4-5.3.4 6.1.4-5.4.4 5.9.4-5.3.4 5.1.4-5.6.4 5.5.4-5.4.4 4.7.4-5.3.4 5.8.4-5.1.4 5.2.4-5.1.4 5 .4-4.9.4 5.6.4-6 .4 5.2.4-5.2.4 5.2.4-4.9.4 5.1.4-5.1.4 4.9.4-4.7.4 4.7.4-5.2.4 5.1.4-4.9.4 5.1.4-4.7.4 4.4.4-6.3.4 5.4.4-6 .4 5.3.4-6.1.4 4 .4-6.3.4 4.8.4-6.2.4 3.7.4-6.2.4 5 .4-6.1.4 4.1.4-6.4.4 5.7.4-5.6.4 4.6.4-4.9.4 5 .4-4.6.4 5.9.4-4.5.4 5.6.4-5.5.4 6.7.4-5.1.4 5.3.4-6.2.4 5 .4-5.7.4 4.6.4-6.5.4 3.9.4-6.8.4 2.3.4-6.9.4 3.1.4-7.3.4 2.5.4-3.7.4.7.4-1.1.4 2.9.4-2.2.4 6 .4-2.7.4 6.7.4-3.9.4 6.9.4-3.5.4 6.8.4-5 .4 6.7.4-4.4.4 5.4.4-4.9.4 5.7.4-5.1.4 5.7.4-5.1.4 5.2.4-5.1.4 5.7.4-5.4.4 5.2.4-5 .4 5 .4-6 .4 5.6.4-5.5.4 5.8.4-5.4.4 4.9.4-5.5.4 5.4.4-5 .4 4.6.4-6.3.4 5.4.4-6.5.4 4.2.4-7.2.4 3.2.4-6.4.4 2.5.4-6.5.4 1 .6-3.6.2.7.4-1.9.4 3.9.4-3.5.4 7.2.4-3.4.4 8.3.4-3.7.4 7.7.4-4.1.4 7.4.4-4.8.4 5.4.4-5.2.4 5.3.4-6.9.4 3.2.4-7.2.4 1.2.4-9.4.4-1.2.4-12.2.4-4.8.4-12.8.6-7.6.2-1.5.4 4 .4 1.1.4 10.3.4 1.1.4 12 .4 2.7.4 12.2.4 1.4.4 9.7.4-2.3.4 8.5.4-3.8.4 7.2.4-4 .4 5.6.4-4.2.4 5.4.4-4.6.4 5.9.4-4.5.4 5.3.4-5.8.4 5.4.4-4.4.4 4.6.4-4.3.4 4.7.4-5.3.4 5.8.4-5 .4 5.4.4-5.4.4 5.4.4-5.2.4 5.3.4-5.5.4 5.5.4-6 .4 6.1.4-5.6.4 4.8.4-5.4.4 5.8.4-5.2.4 5.3.4-4.8.4 4.6.4-4.6.4 4.5.4-4.6.4 4.3.4-4.5.4 5.4.4-5.6.4 5 .4-5.1.4 5 .4-5.9.4 5.5.4-5.2.4 4.4.4-4.9.4 4.9.4-5.4.4 5.8.4-5.5.4 4.6.4-5.1.4 4.3.4-4.8.4 5.2.4-5.5.4 4.8.4-5.5.4 4.9.4-5.5.4 5.1.4-6.3.4 4.5.4-5.6.4 5 .4-6 .4 5.4.4-5.9.4 5.6.4-6.1.4 4.9.4-5.7.4 4.7.4-5 .4 5 .4-5.2.4 5.3.4-5.6.4 5.5.4-5.7.4 5.7.4-5.9.4 6.2.4-5.4.4 5.7.4-5.3.4 6.3.4-4.8.4 5.4.4-5.1.4 5.9.4-4.9.4 6 .4-5.4.4 6.3.4-5.1.4 5.6.4-4.9.4 5.2.4-4.8.4 4.8.4-5.3.4 5.4.4-6 .4 5.5.4-6.4.4 3.9.4-7 .4 3.7.4-8.1.4 2 .4-9.5.4-.6.4-12.4.4-3.7.4-13.5.4-6.1.3-4.5.5 2.2.4 1.1.4 9.4.4-.4.4 12.2.4 1.6.4 12.6.4.8.4 11 .4-1.3.4 7.6.4-3.2.4 7.1.4-4.2.4 6.9.4-4.6.4 5.6.4-4.7.4 5.8.4-5.6.4 5.5.4-5.1.4 4.7.4-5.4.4 4.6.4-5.5.4 5 .4-6.4.4 4.5.4-6.6.4 2.9.4-6.5.4 3.4.4-7.4.4 1.6.4-5.7.5-.5.3-1.3.4 2.7.4-2.2.4 6.5.4-3.2.4 6.8.4-3.1.4 7.1.4-3.3.4 7.6.4-4.5.4 6.1.4-4.2.4 6.4.4-5.1.4 5.6.4-5 .4 5.4.4-4.2.4 4.9.4-5.5.4 6 .4-5.1.4 5.5.4-5.9.4 5.4.4-5.1.4 5.2.4-5.4.4 5.5.4-5.3.4 5.8.4-5.3.4 5.8.4-5.6.4 5.5.4-5.1.4 5.6.4-5.5.4 5.8.4-5 .4 5 .4-5.8.4 5.7.4-5.5.4 4.9.4-5.6.4 5.4.4-5.2.4 5.5.4-5.6.4 4.9.4-5.7.4 4.8.4-6 .4 4.5.4-5.1.4 4.5.4-6.8.4 5 .4-6.3.4 4.4.4-5.7.4 4.5.4-5.1.4 4.1.4-5 .4 5 .4-4.7.4 4.8.4-5 .4 6.2.4-5.3.4 5.8.4-4.1.4 5.8.4-3.9.4 5.6.4-4.6.4 6.1.4-4.6.4 5.2.4-4.8.4 5.3.4-4.9.4 4.7.4-5.7.4 5.2.4-5.4.4 4.6.4-6.1.4 4.2.4-7.2.4 1.5.4-8 .4 1.4.4-9.3.4-1.9.6-6.7.2.8.4-.1.4 6 .4-1.8.4 8 .4-1.8.4 8.4.4-1.2.4 7.6.4-1.9.4 7.6.4-4.1.4 6.3.4-3.4.4 5.6.4-4.1.4 5.7.4-4.9.4 5.4.4-4.6.4 4.9.4-4.6.4 4.6.4-4.6.4 4.5.4-4.1.4 4.5.4-4.7.4 5 .4-4.8.4 4.5.4-4.8.4 4.7.4-4.7.4 5.2.4-5.1.4 5.1.4-4.8.4 4.5.4-5 .4 5 .4-5.6.4 4.7.4-4.6.4 4.3.4-4.3.4 4.3.4-4.8.4 5.2.4-4.2.4 4.9.4-4.5.4 4.9.4-5.4.4 5.2.4-4.7.4 5.2.4-5.3.4 5.5.4-4.8.4 4.9.4-5.3.4 4.8.4-4.5.4 4.7.4-5 .4 4.2.4-4.6.4 4.8.4-4.5.4 4.1.4-4.6.4 5.1.4-4.9.4 4.4.4-4.4.4 4.7.4-4.8.4 4.7.4-4.7.4 4.1.4-4.2.4 4.6.4-4.4.4 4.8.4-5.1.4 4.8.4-4.6.4 5.1.4-5.6.4 4.5.4-4.4.4 4.5.4-5 .4 5.6.4-5.7.4 5.5.4-4.9.4 4.4.4-5.9.4 5.4.4-5 .4 4.7.4-5.5.4 4.7.4-4.9.4 4.7.4-5 .4 4.3.4-4.5.4 4.3.4-4.8.4 4.3.4-5.1.4 4 .4-4.2.4 3.6.4-5.1.4 5.1.4-5.6.4 4.3.4-5.5.4 3.4.4-5.7.4 3.7.4-5.7.4 3.6.4-7.1.4 2.9.4-8 .4 2.4.4-9.1.4.6.4-10 .4-1.6.4-11 .4-3 .4-7.3.3-1.4.5-1.7.4 4.7.4-1.7.4 7.4.4-1.8.4 8.3.4-.8.4 8 .4-1.6.4 7.6.4-3.3.4 5.9.4-3.6.4 5.5.4-4.4.4 5.1.4-4.1.4 5.9.4-4.8.4 6.1.4-3.8.4 6.6.4-2.8.4 6.4.4-2.8.4 6.9.4-2.4.4 7.1.4-3 .4 6.6.4-3.6.4 6.5.4-4.1.4 5.7.4-4.4.4 6.5.4-4.5.4 5.1.4-5.2.4 6.1.4-5 .4 5.6.4-5.1.4 4.9.4-4.9.4 4.8.4-5.5.4 5.1.4-4.7.4 5.2.4-4.7.4 4 .4-4.7.4 4.8.4-4.3.4 4.3.4-4.6.4 4.9.4-5 .4 4.5.4-3.9.4 4.3.4-4.1.4 4.6.4-4.9.4 4.9.4-4.6.4 4.5.4-4.7.4 4.4.4-4.7.4 4.6.4-4.2.4 5.2.4-4.7.4 4.5.4-4.8.4 5 .4-5 .4 4.7.4-4.7.4 4.8.4-5 .4 5 .4-4.6.4 5 .4-4.8.4 5 .4-4.8.4 4.6.4-5 .4 4 .4-5.1.4 5.2.4-4.8.4 5.3.4-5.2.4 5 .4-5.8.4 5.8.4-5 .4 4.2.4-4.7.4 4.3.4-4.6.4 4.6.4-5.3.4 5.6.4-4.6.4 5.3.4-5.5.4 4.9.4-4.8.4 5.1.4-4.9.4 5 .4-5 .4 5.1.4-5.5.4 5.3.4-5 .4 5.3.4-5.6.4 4.9.4-4.6.4 4.7.4-5 .4 5 .4-4.6.4 4.7.4-5.8.4 5.6.4-4.7.4 5.2.4-5.6.4 5.1.4-4.7.4 4.7.4-4.9.4 4.9.4-5.6.4 5.4.4-5.2.4 4.9.4-5.1.4 5.4.4-5.2.4 5.4.4-5.3.4 5 .4-5.1.4 5 .4-4.4.4 4.9.4-5 .4 5.3.4-5.8.4 5.3.4-4.4.4 5.3.4-5.1.4 5 .4-4.6.4 5.5.4-5.9.4 5.4.4-5.3.4 5.3.4-5.3.4 4.8.4-4.7.4 4.9.4-5.3.4 4.6.4-4.6.4 4.9.4-5.4.4 4.9.4-5.3.4 5.5.4-4.9.4 4.3.4-4.5.4 4.8.4-4.5.4 4.9.4-5.3.4 4.9.4-5.2.4 5 .4-4.6.4 5.4.4-5.2.4 4.6.4-5.2.4 4.6.4-4.9.4 4.2.4-4.6.4 4.1.4-5 .4 4 .4-5.8.4 3.7.4-6 .4 2.6.4-7.8.4 1.6.4-10.5.4-2.2.4-12.8.4-5.4.4-16.6.4-8.8.6-12.9.2.6.4 2.6.4 10 .4 2.3.4 9.7.4-.6.4 10.7.4 2.9.4 12.8.4 2.8.4 11.1.4-.7.4 9.2.4-2.1.4 7.1.4-3.4.4 6.5.4-4.1.4 5.6.4-4.5.4 5 .4-4 .4 5.1.4-5 .4 5.4.4-4.2.4 4.2.4-3.7.4 4.9.4-5 .4 5.4.4-4.9.4 4.9.4-4.2.4 4.9.4-5.1.4 4.8.4-4.6.4 5.3.4-5 .4 5.2.4-5 .4 4.7.4-4.1.4 4.4.4-4.9.4 4.9.4-4.7.4 5.3.4-5.6.4 5.3.4-4.9.4 4.7.4-4.3.4 4.5.4-4.6.4 4.8.4-4.6.4 4.6.4-4.8.4 5 .4-4.7.4 4.7.4-4.5.4 4.2.4-4.3.4 4.2.4-4.4.4 4.2.4-4.9.4 4.7.4-4 .4 4.8.4-4.5.4 4.5.4-3.8.4 3.7.4-3.8.4 4.4.4-4.5.4 4.8.4-4.1.4 4.6.4-4.9.4 5 .4-4.8.4 4 .4-4.7.4 4.2.4-3.9.4 4.5.4-4.5.4 4.1.4-4.5.4 4.3.4-4.9.4 4.5.4-4.9.4 4.5.4-4.4.4 4.8.4-4.4.4 4.6.4-4.6.4 5.3.4-4.1.4 4 .4-4.5.4 5 .4-4.3.4 4.2.4-4.3.4 4.6.4-5.1.4 4.5.4-4.5.4 5 .4-4.4.4 3.9.4-4 .4 4.5.4-4.8.4 4.6.4-4.6.4 4.2.4-4 .4 4.4.4-4.3.4 4.3.4-4.1.4 4.3.4-3.7.4 4.1.4-4.4.4 4.8.4-5 .4 4.3.4-4.9.4 4.5.4-4.3.4 4.5.4-4.7.4 4.3.4-4.6.4 4.5.4-4.7.4 4.3.4-4.5.4 4 .4-4.5.4 4.4.4-4.4.4 4.8.4-5.2.4 4.3.4-4.5.4 5.2.4-4.9.4 4.2.4-4.7.4 4.5.4-4.4.4 3.8.4-4.5.4 4.5.4-5.4.4 4.8.4-4.9.4 4.6.4-4.7.4 4.7.4-4.8.4 4.2.4-5.1.4 5 .4-5.2.4 4.7.4-4.5.4 4.3.4-4.8.4 4.7.4-4.5.4 4 .4-4.6.4 4.2.4-5.2.4 4.8.4-4.7.4 4.2.4-5 .4 4 .4-4.4.4 4.5.4-4.6.4 4.6.4-4.8.4 3.8.4-4.6.4 4.6.4-5.1.4 4.2.4-4.5.4 3.6.4-5.2.4 3.9.4-5.1.4 4.2.4-5.7.4 3.9.4-5.8.4 3 .4-5.7.4 2.3.4-6.1.4 1.9.4-5 .4.5.4-2.3.4 1 .4-1.8.4 4.7.4-4.1.4 5.5.4-3.9.4 5.4.4-3.5.4 6.1.4-3.7.4 6.1.4-4.2.4 4.9.4-4 .4 5.3.4-5 .4 5.2.4-4.1.4 4.4.4-4.4.4 5.3.4-4.4.4 4.7.4-4.9.4 5.1.4-4.2.4 5.3.4-4.3.4 4.9.4-3.6.4 5 .4-4.2.4 5.9.4-4.5.4 5.5.4-4 .4 5.2.4-3.8.4 5.4.4-4.4.4 4.7.4-4 .4 5.3.4-4.6.4 4.6.4-3.9.4 4.6.4-4 .4 4.9.4-4.3.4 5.3.4-5.4.4 5.1.4-4.6.4 5.3.4-4.8.4 4.6.4-5 .4 4.9.4-3.9.4 4.7.4-4.6.4 5 .4-5.2.4 4.7.4-4.7.4 4.7.4-4.8.4 4.5.4-4.8.4 4.8.4-4.3.4 4.5.4-4.6.4 5.3.4-5.3.4 4.6.4-4.8.4 4.9.4-5 .4 4.6.4-4.3.4 4 .4-4.4.4 4.7.4-5.1.4 5 .4-5.1.4 5.2.4-4.6.4 4.6.4-5.1.4 4.9.4-4.5.4 4.6.4-4.9.4 5.1.4-5 .4 4.8.4-5 .4 5.1.4-4.5.4 4.9.4-5.3.4 5.3.4-5.2.4 5.2.4-5.3.4 5.3.4-4.8.4 4.6.4-4.4.4 3.8.4-4.1.4 4.4.4-4.5.4 4.7.4-5.3.4 5.6.4-4.6.4 4.4.4-5.5.4 4.8.4-4.6.4 5.3.4-4.7.4 4.6.4-4.7.4 4.6.4-4.9.4 5.3.4-5.3.4 4.8.4-4.6.4 4.5.4-5 .4 5.7.4-5.2.4 4.8.4-4.5.4 4.1.4-4.2.4 4.3.4-4.7.4 4 .4-4.3.4 4.5.4-4.7.4 4.9.4-4.6.4 4.1.4-4.3.4 4.6.4-5.4.4 4.6.4-5.1.4 5.3.4-5.2.4 5.4.4-5.7.4 5.5.4-5.4.4 4.7.4-4.8.4 3.7.4-4.9.4 4 .4-6.1.4 4.4.4-5.7.4 3.3.4-6.7.4 1.9.4-4 .4.3.4-.7.4 3.6.4-2.3.4 5.5.4-4.1.4 5.1.4-3.8.4 5.4.4-3.2.4 5.4.4-3.4.4 5.5.4-3.9.4 5.1.4-4.1.4 5.1.4-5 .4 5.8.4-5.2.4 5.4.4-5 .4 4.3.4-4 .4 4.5.4-4.8.4 5 .4-5.1.4 5.3.4-5.4.4 4.3.4-4.4.4 4.2.4-4.3.4 4.1.4-5 .4 5.3.4-4.9.4 4.3.4-4.8.4 4.6.4-5 .4 4.1.4-4.5.4 4.3.4-5 .4 3.6.4-5.4.4 2.9.4-7 .4 2.4.4-8.4.4.3.4-10.4.4-2.2.4-12.3.4-4.9.6-9.2.2.9.4 1.9.4 9 .4 1.1.4 8.3.4-3.3.4 6.8.4-2.8.4 8.2.4.4.4 9.7.4-.5.4 8.7.4-2.7.4 6.9.4-3.2.4 5.5.4-3.7.4 5.3.4-4.3.4 5.3.4-4.5.4 4.7.4-4.3.4 5.1.4-5.3.4 4.9.4-5.1.4 4.8.4-4.6.4 4.1.4-4.2.4 5.1.4-4.9.4 5.4.4-4.9.4 4.7.4-4.8.4 4.7.4-4.8.4 5.3.4-4.4.4 5 .4-5.2.4 5.5.4-4.7.4 5.1.4-5.3.4 5 .4-5 .4 4.9.4-5.4.4 4.9.4-4.8.4 4.8.4-5 .4 5.3.4-4.9.4 4.4.4-4.8.4 4.5.4-4.8.4 4.6.4-4.7.4 5.2.4-4.7.4 3.9.4-4.5.4 4.6.4-4.2.4 4 .4-5 .4 5.1.4-4.9.4 4.4.4-4.9.4 4.7.4-5.6.4 4.5.4-5 .4 4.4.4-4.5.4 4.3.4-5.5.4 4.4.4-5.5.4 4.4.4-5 .4 4.3.4-5.1.4 4 .4-5.4.4 4.7.4-4.9.4 4.2.4-4.9.4 3.6.4-4.6.4 4.3.4-5.2.4 4.6.4-4.8.4 4.3.4-4.7.4 4.7.4-4.6.4 4.4.4-5.3.4 4.6.4-4 .4 5 .4-4.6.4 4.7.4-4.7.4 6.1.4-4.9.4 5 .4-3.8.4 4.8.4-4.3.4 5.2.4-4.5.4 5 .4-4 .4 5.6.4-4.2.4 5.2.4-4 .4 4.8.4-4.2.4 5.4.4-4.5.4 4.6.4-4.1.4 5.4.4-4.8.4 5.2.4-3.8.4 4.5.4-4.3.4 4.8.4-4.1.4 3.8.4-4.7.4 5.2.4-4.5.4 4.9.4-5.2.4 5.1.4-4.2.4 4.4.4-5.1.4 4.7.4-4.4.4 4.7.4-4.9.4 4.6.4-4.9.4 4.3.4-4.2.4 4.5.4-4 .4 4.3.4-5 .4 4.9.4-5.1.4 4.8.4-4.7.4 4.7.4-4.2.4 4.5.4-4.1.4 4.2.4-4.8.4 4.3.4-4.7.4 4.2.4-5.2.4 3.7.4-5.2.4 3.7.4-5.5.4 3.3.4-6.8.4 1.9.4-6.6.4 1.7.4-4 .4 0 .4-1 .4 3.1.4-1.9.4 5.2.4-3.3.4 5.4.4-3.5.4 5.1.4-3.5.4 6 .4-3.1.4 5.8.4-3.3.4 5.5.4-3.5.4 4.8.4-4 .4 4.7.4-4.2.4 4.7.4-4.6.4 4.6.4-4.3.4 4.5.4-4.2.4 5.2.4-4.2.4 4.7.4-4.7.4 4.3.4-4.1.4 4.2.4-4.2.4 4.5.4-4.2.4 4.8.4-4.4.4 4.4.4-4.6.4 4.4.4-4.6.4 4.8.4-4.7.4 4.3.4-3.8.4 4.5.4-4.9.4 4.8.4-4.9.4 4.8.4-4.3.4 4.9.4-4.7.4 4.3.4-4.3.4 4.7.4-4.8.4 5.3.4-4.3.4 4.3.4-5.3.4 4.4.4-4.6.4 5.1.4-5.2.4 4.6.4-4.1.4 4.7.4-4.9.4 4.8.4-4.5.4 3.9.4-4.7.4 4 .4-4.2.4 4.7.4-4.9.4 4.4.4-4 .4 4.3.4-4.3.4 4.5.4-4.7.4 4.2.4-4.6.4 5.2.4-4.9.4 5.4.4-4.1.4 4.4.4-4.7.4 4.8.4-4.2.4 4.6.4-4.7.4 4.7.4-4.8.4 4.9.4-4.8.4 4.5.4-4.7.4 3.7.4-4.2.4 4 .4-4.6.4 4.9.4-4.3.4 4.3.4-5.3.4 4.4.4-4.7.4 5 .4-4.8.4 4.7.4-4.1.4 3.9.4-4.2.4 4.6.4-3.7.4 4.2.4-4.2.4 4.6.4-4.5.4 4 .4-4.1.4 4.3.4-4 .4 3.8.4-3.9.4 4.1.4-4.6.4 4.6.4-4.6.4 4.5.4-4.4.4 4.5.4-5.2.4 5 .4-4.6.4 4.6.4-4.5.4 4.5.4-3.9.4 3.7.4-4.5.4 4.4.4-4.3.4 4 .4-4.4.4 4.4.4-4.9.4 4.6.4-4.6.4 4.5.4-4.3.4 4.2.4-4.9.4 4.4.4-5 .4 4.6.4-5.3.4 4.5.4-5.6.4 1.9.4-8.5.4-2.4.4-11.9.5-7.7.3 2.5.4 11 .4 3.1.4 7.2.4-5.1.4-1 .4-9.9.5-6.6.3 2.4.4 10.8.4 2.8.4 7.1.4-4.8.4.1.4-10.6.4-7.9.3-5 .5 10.1.4 5.8.4 8.7.4-2.6.4.6.4-10.6.4-8 .3-4.8.5 10.3.4 6.7.4 9.3.4-3.3.4 1.5.4-9.8.4-6.8.3-4.4.5 10.3.4 6.6.4 9.9.4-.3.4 6.3.4-3.2.4 5.1.4-4.1.4 5 .4-4.2.4 4.9.4-4.4.4 4.8.4-4.4.4 4.5.4-4.5.4 4.5.4-4.6.4 5.1.4-5 .4 5 .4-4.3.4 4.5.4-4.7.4 4.4.4-4.6.4 5.3.4-5.3.4 4.5.4-4.1.4 4.5.4-5 .4 5 .4-4.2.4 4.5.4-5 .4 5 .4-4.5.4 3.9.4-4.6.4 4.9.4-4.8.4 4.7.4-4.5.4 5 .4-4.6.4 4.4.4-5 .4 5 .4-4.3.4 4.4.4-4.9.4 3.9.4-4.4.4 5 .4-4.5.4 4.1.4-5 .4 4.5.4-3.9.4 4.3.4-5 .4 4.9.4-4.6.4 4.2.4-4.4.4 4.5.4-4.7.4 4.8.4-4.4.4 4.9.4-5 .4 5.1.4-4.8.4 5 .4-4.7.4 5 .4-4.9.4 5.2.4-4.9.4 4.8.4-4.3.4 4 .4-4.1.4 4.5.4-5.2.4 4.3.4-4.3.4 4.4.4-4.3.4 4.1.4-5 .4 4.8.4-4.2.4 4.2.4-4.8.4 5 .4-4.3.4 3.8.4-4.5.4 5.4.4-4.9.4 5.2.4-4.6.4 4.1.4-3.8.4 4.1.4-4.1.4 4.2.4-4.6.4 4.9.4-5.3.4 5.2.4-4.9.4 4.9.4-4.6.4 4.3.4-4.8.4 4.8.4-4.3.4 4.3.4-4.8.4 4.6.4-4.3.4 4.5.4-4.5.4 4.8.4-4.3.4 4.2.4-4.5.4 4.6.4-4.4.4 4.1.4-4.2.4 4.6.4-4.7.4 5.2.4-4.7.4 4.6.4-4.6.4 4.1.4-4.2.4 4.2.4-4.4.4 4.5.4-5 .4 4.6.4-4.6.4 5 .4-5.1.4 4.5.4-4.4.4 4.4.4-4.4.4 4.4.4-5.1.4 5 .4-4.8.4 4.6.4-3.8.4 4 .4-4.8.4 5.1.4-4.5.4 4.2.4-4.8.4 4.4.4-4.1.4 4.7.4-4.4.4 4.2.4-4.6.4 5 .4-4.4.4 4.3.4-4.7.4 4.6.4-4.6.4 4.7.4-5.1.4 5.1.4-4.5.4 4.8.4-4.9.4 4.4.4-5 .4 4.8.4-4.2.4 4.5.4-4.3.4 5 .4-5.4.4 5 .4-4.7.4 4.6.4-4 .4 4.1.4-4.6.4 5.2.4-4.4.4 4 .4-4.2.4 4.2.4-4.3.4 4 .4-4.7.4 4.7.4-4.1.4 4.1.4-4.4.4 4.4.4-5 .4 4.3.4-5 .4 4.3.4-5.1.4 5.1.4-5.8.4 4.2.4-5 .4 3.6.4-4.4.4 3.9.4-6 .4 3.5.4-5 .4 3.7.4-5.2.4 4.4.4-4.6.4 5 .4-4.1.4 4.7.4-4.6.4 5.2.4-3.3.4 4.8.4-3.6.4 5 .4-3.7.4 5.5.4-3.9.4 5.6.4-3.9.4 4.4.4-4 .4 4.3.4-4.2.4 4.7.4-4.6.4 5.2.4-4.9.4 4.7.4-4.8.4 5.2.4-5 .4 4.7.4-4.8.4 4.6.4-4.7.4 4.4.4-4.9.4 4.6.4-4.1.4 5.3.4-5.4.4 4.5.4-4.1.4 4.3.4-4.4.4 5 .4-5 .4 4.4.4-3.8.4 4.5.4-4.4.4 4.5.4-4.8.4 4.6.4-4.7.4 4 .4-4.3.4 4.7.4-4.3.4 4.8.4-5.4.4 5.2.4-5 .4 5.3.4-5.2.4 4.7.4-4.7.4 4.6.4-5.4.4 5.3.4-4.6.4 4.3.4-4.4.4 4 .4-3.9.4 4.1.4-4.2.4 4.3.4-5 .4 4.7.4-4.9.4 4.8.4-4.2.4 4 .4-4.3.4 4.7.4-4.6.4 4.6.4-4.3.4 4.9.4-5.3.4 5 .4-4.6.4 4.9.4-5 .4 4.8.4-4.5.4 4.3.4-5.2.4 4 .4-4.8.4 3.3.4-6.3.4 3.8.4-6.3.4 2.9.4-5.2.4 3.8.4-4.9.4 4.6.4-4.6.4 5.3.4-3.3.4 4.9.4-2.9.4 5.5.4-3 .4 5.8.4-3.8.4 5.4.4-4 .4 5.4.4-4.4.4 4.5.4-4.9.4 4.5.4-4.6.4 5 .4-5 .4 4.8.4-4.8.4 4.6.4-4.7.4 5.1.4-4.4.4 4.4.4-4.4.4 4.1.4-3.9.4 4.6.4-4.7.4 4.8.4-5 .4 4.5.4-4.2.4 4.3.4-4.6.4 4.8.4-4.2.4 3.8.4-4.4.4 4.1.4-4 .4 4.5.4-4.9.4 4.6.4-4.1.4 4.2.4-4.2.4 4.1.4-4.6.4 4.5.4-4.9.4 4.9.4-5.1.4 4.6.4-3.7.4 4.4.4-5 .4 5 .4-4.5.4 4.6.4-4.8.4 4.5.4-4.5.4 4.4.4-4.1.4 4.7.4-4.6.4 4.8.4-4.6.4 4.5.4-4.3.4 4.2.4-4.7.4 4.3.4-5.4.4 4.2.4-4.4.4 4 .4-4.9.4 3.6.4-5.6.4 4 .4-4.7.4 4.2.4-5.4.4 3.5.4-4.5.4 3.8.4-4.5.4 4.5.4-4 .4 4.7.4-4.5.4 5.5.4-4.3.4 5.6.4-3.8.4 4.7.4-4.4.4 5.4.4-4.1.4 5.5.4-4.6.4 5.1.4-4.4.4 4.6.4-3.8.4 4.4.4-4 .4 3.7.4-4.8.4 4.6.4-3.7.4 4.4.4-4.6.4 4.3.4-4.4.4 4.8.4-3.8.4 4.5.4-4.8.4 4.5.4-4.7.4 4.1.4-4.4.4 4.7.4-3.7.4 4.2.4-4.5.4 4.6.4-4.9.4 4.7.4-4.7.4 4.5.4-4.6.4 4.4.4-4.7.4 5.3.4-4.4.4 4.2.4-4 .4 4.8.4-5.1.4 4.3.4-4.9.4 5 .4-4.5.4 4.5.4-4.3.4 4.2.4-4.2.4 4.1.4-4.5.4 4.9.4-5.3.4 4.5.4-4.4.4 4.3.4-4.3.4 4.5.4-4.8.4 4.9.4-4.7.4 4.6.4-4.2.4 4 .4-4.5.4 4.2.4-4 .4 3.9.4-4.3.4 5 .4-5.2.4 5.2.4-4.8.4 4.3.4-4.8.4 3.7.4-4.2.4 3.5.4-5.3.4 4.2.4-5 .4 3.7.4-5.5.4 4 .4-5.7.4 2.4.4-4.3.4 1 .4-1.4.4 1.1"/>
</g>
<line x1="739.7" y1="1891.7" x2="739.7" y2="2066.8" stroke="#000" stroke-width="3" stroke-dasharray="10.5 6"/>
<rect x="1101" y="1500" width="615" height="282.5" fill="#fff" stroke="#000" stroke-width="5.8"/>
<text x="234.0" y="527.4" font-size="54.0">I</text>
<text x="285.8" y="547.0" font-size="54.0">Q</text>
<text x="387.5" y="588.1" font-size="54.0">M</text>
<text x="448.3" y="479.0" font-size="54.0">Q</text>
<text x="515.8" y="569.6" font-size="54.0">Q</text>
<text x="553.2" y="153.3" font-size="54.0">Q</text>
<text x="583.5" y="582.1" font-size="54.0">M</text>
<text x="720.2" y="449.6" font-size="54.0">C</text>
<text x="716.0" y="579.4" font-size="54.0">I</text>
<text x="739.5" y="559.6" font-size="54.0">Q</text>
<text x="845.2" y="578.6" font-size="54.0">Q</text>
<text x="907.8" y="587.0" font-size="54.0">Q</text>
<text x="986.8" y="549.6" font-size="54.0">Q</text>
<text x="1170.0" y="569.3" font-size="54.0">Q</text>
<text x="1317.5" y="570.6" font-size="54.0">Q</text>
<text x="1594.9" y="621.3" font-size="54.0" fill="#548235">RPC</text>
<text x="1594.9" y="776.1" font-size="54.0" fill="#2F5597">RP</text>
<text x="1605.5" y="947.1" font-size="54.0" fill="#C55A11">R</text>
<text x="236.6" y="1866.7" font-size="54.0">I</text>
<text x="288.2" y="1991.3" font-size="54.0">Q</text>
<text x="380.9" y="2012.7" font-size="54.0">M</text>
<text x="453.5" y="1893.0" font-size="54.0">Q</text>
<text x="582.5" y="1553.0" font-size="54.0">Q</text>
<text x="584.2" y="1970.4" font-size="54.0">M</text>
<text x="721.8" y="1874.3" font-size="54.0">C</text>
<text x="711.0" y="2055.4" font-size="54.0">I</text>
<text x="741.2" y="2008.0" font-size="54.0">Q</text>
<text x="790.5" y="2025.6" font-size="54.0">Q</text>
<text x="839.5" y="2047.3" font-size="54.0">Q</text>
<text x="903.5" y="2025.6" font-size="54.0">Q</text>
<text x="979.5" y="1999.6" font-size="54.0">Q</text>
<text x="1159.5" y="2022.0" font-size="54.0">Q</text>
<text x="1309.8" y="2046.3" font-size="54.0">Q</text>
<text x="1556.5" y="2114.6" font-size="54.0" fill="#548235">RPC</text>
<text x="1559.9" y="2254.7" font-size="54.0" fill="#2F5597">RP</text>
<text x="1564.2" y="2392.1" font-size="54.0" fill="#C55A11">R</text>
<text x="1174.7" y="129.7" font-size="54.0">Q : Quartz</text>
<text x="1133.5" y="1565.4" font-size="54.0">Q : Quartz</text>
<text x="1175.5" y="190.0" font-size="54.0">I : Illite</text>
<text x="1134.3" y="1627.6" font-size="54.0">I : Illite</text>
<text x="1176.4" y="250.3" font-size="54.0">M : Muscovite</text>
<text x="1135.2" y="1689.8" font-size="54.0">M : Muscovite</text>
<text x="1174.7" y="310.6" font-size="54.0">C : Calcium carbonate</text>
<text x="1133.5" y="1752.0" font-size="54.0">C : Calcium carbonate</text>
<text x="148.1" y="1112.3" font-size="64.5">5</text>
<text x="151.3" y="2534.0" font-size="64.5">5</text>
<text x="316.1" y="1112.3" font-size="64.5">15</text>
<text x="317.4" y="2534.0" font-size="64.5">15</text>
<text x="503.3" y="1112.3" font-size="64.5">25</text>
<text x="502.7" y="2534.0" font-size="64.5">25</text>
<text x="689.0" y="1112.3" font-size="64.5">35</text>
<text x="686.5" y="2534.0" font-size="64.5">35</text>
<text x="875.7" y="1112.3" font-size="64.5">45</text>
<text x="871.3" y="2534.0" font-size="64.5">45</text>
<text x="1060.4" y="1112.3" font-size="64.5">55</text>
<text x="1054.1" y="2534.0" font-size="64.5">55</text>
<text x="1246.1" y="1112.3" font-size="64.5">65</text>
<text x="1237.9" y="2534.0" font-size="64.5">65</text>
<text x="1431.3" y="1112.3" font-size="64.5">75</text>
<text x="1421.2" y="2534.0" font-size="64.5">75</text>
<text x="1617.5" y="1112.3" font-size="64.5">85</text>
<text x="1605.5" y="2534.0" font-size="64.5">85</text>
<text x="737.9" y="1210.6" font-size="68.2">Angle (2-Theta°)</text>
<text x="744.9" y="2636.1" font-size="68.3">Angle (2-Theta°)</text>
<text transform="translate(96.3 782.1) rotate(-90)" font-size="68.4">Intensity (a.u)</text>
<text transform="translate(91.8 2187.7) rotate(-90)" font-size="68.4">Intensity (a.u)</text>
<text y="1388.6" font-size="79" font-weight="normal"><tspan x="760.9" font-size="84.5" font-weight="normal" textLength="24.5" lengthAdjust="spacingAndGlyphs">(</tspan><tspan x="788.2" font-size="79" font-weight="bold" textLength="38.7" lengthAdjust="spacingAndGlyphs">a</tspan><tspan x="828.3" font-size="84.5" font-weight="normal" textLength="26.8" lengthAdjust="spacingAndGlyphs">)</tspan> <tspan x="872.4" font-size="78" font-weight="normal" textLength="41.6" lengthAdjust="spacingAndGlyphs">7</tspan> <tspan x="931.5" font-size="79" font-weight="normal" textLength="157.5" lengthAdjust="spacingAndGlyphs">days</tspan></text>
<text y="2763.0" font-size="79" font-weight="normal"><tspan x="737.6" font-size="84" font-weight="normal" textLength="25.2" lengthAdjust="spacingAndGlyphs">(</tspan><tspan x="765.3" font-size="79" font-weight="bold" textLength="49.0" lengthAdjust="spacingAndGlyphs">b</tspan><tspan x="814.9" font-size="84" font-weight="normal" textLength="26.7" lengthAdjust="spacingAndGlyphs">)</tspan> <tspan x="860.3" font-size="78" font-weight="normal" textLength="75.4" lengthAdjust="spacingAndGlyphs">28</tspan> <tspan x="954.7" font-size="79" font-weight="normal" textLength="155.9" lengthAdjust="spacingAndGlyphs">days</tspan></text>
</svg>
</body></html>
